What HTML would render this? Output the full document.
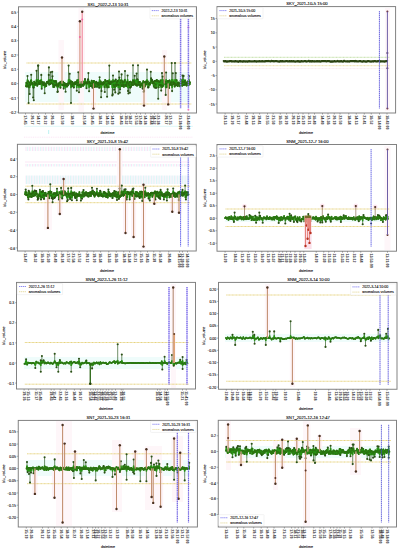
<!DOCTYPE html>
<html><head><meta charset="utf-8"><style>
html,body{margin:0;padding:0;background:#fff;width:400px;height:550px;overflow:hidden}
svg{display:block}
text{font-family:"Liberation Sans", sans-serif;stroke:currentColor;stroke-width:0.1px} text.xl{stroke:none}
</style></head><body>
<svg width="400" height="550" viewBox="0 0 400 550">
<defs>
<pattern id="gh1" width="3.2" height="6" patternUnits="userSpaceOnUse"><rect x="0" y="0" width="0.9" height="6" fill="#f6c4ea"/><rect x="1.6" y="0" width="0.9" height="6" fill="#c4f2f2"/></pattern>
<pattern id="gh2" width="2.6" height="6" patternUnits="userSpaceOnUse"><rect x="0" y="0" width="1.3" height="6" fill="#bff0f0"/><rect x="1.5" y="0" width="0.6" height="6" fill="#f8d0ee"/></pattern>
</defs>
<rect width="400" height="550" fill="#fff"/>
<line x1="24" x2="193" y1="126.3" y2="126.3" stroke="#c8f2f2" stroke-width="0.6"/><line x1="24" x2="193" y1="137.2" y2="137.2" stroke="#f8d4ee" stroke-width="0.6" stroke-dasharray="1 0.8"/><rect x="48" y="130" width="1.2" height="4" fill="#c8f4f4"/><g><rect x="18.5" y="6.8" width="178.0" height="106.2" fill="#fff"/>
<rect x="25" y="72" width="165" height="30" fill="#effcfb"/>
<rect x="165.6" y="82.6" width="5.2" height="22.80000000000001" fill="#fdf3f7"/>
<rect x="161.70000000000002" y="55.5" width="5.2" height="29.099999999999994" fill="#fdf3f7"/>
<rect x="141.4" y="82.6" width="5.2" height="24.0" fill="#fdf3f7"/>
<rect x="90.9" y="82.6" width="5.2" height="27.0" fill="#fdf3f7"/>
<rect x="79.60000000000001" y="10.75" width="5.2" height="73.85" fill="#fdf3f7"/>
<rect x="77.30000000000001" y="20.2" width="5.2" height="64.39999999999999" fill="#fdf3f7"/>
<rect x="59.4" y="56.5" width="5.2" height="28.099999999999994" fill="#fdf3f7"/>
<rect x="58.5" y="40" width="5.5" height="70" fill="#fef6f9"/>
<rect x="78.5" y="8" width="5.5" height="104" fill="#fef6f9"/>
<rect x="162" y="50" width="5" height="60" fill="#fef6f9"/>
<line x1="26.5" x2="191.5" y1="63" y2="63" stroke="#dfc85e" stroke-width="0.8" stroke-dasharray="1.0 0.4"/>
<line x1="26.5" x2="191.5" y1="104" y2="104" stroke="#dfc85e" stroke-width="0.8" stroke-dasharray="1.0 0.4"/>
<path d="M27.5 83.6V76.0M28.6 83.6V103.0M29.7 83.6V94.0M31.2 83.6V74.7M33.1 83.6V97.5M33.5 83.6V87.6M33.8 83.6V100.2M36.5 83.6V70.8M38.0 83.6V65.6M38.3 83.6V65.6M41.3 83.6V74.9M41.7 83.6V88.7M44.7 83.6V93.2M48.8 83.6V74.9M48.9 83.6V67.4M50.7 83.6V72.2M52.2 83.6V71.7M52.5 83.6V76.3M57.4 83.6V92.0M57.8 83.6V91.6M60.4 83.6V87.7M63.7 83.6V88.6M65.6 83.6V91.8M68.6 83.6V65.6M69.7 83.6V73.8M71.0 83.6V103.0M73.8 83.6V87.5M76.8 83.6V90.7M78.3 83.6V72.3M79.0 83.6V92.2M85.0 83.6V79.1M86.5 83.6V88.2M88.0 83.6V79.3M88.4 83.6V73.1M89.1 83.6V91.2M92.5 83.6V87.7M99.2 83.6V87.8M99.6 83.6V77.3M101.1 83.6V97.3M101.5 83.6V91.1M104.8 83.6V92.0M107.1 83.6V96.8M109.3 83.6V65.6M112.3 83.6V95.5M112.7 83.6V94.4M113.0 83.6V75.5M114.2 83.6V89.8M115.3 83.6V92.4M115.7 83.6V79.5M118.3 83.6V93.8M119.0 83.6V71.5M119.4 83.6V77.6M119.8 83.6V92.7M120.1 83.6V89.2M121.6 83.6V74.4M125.0 83.6V71.0M127.6 83.6V75.5M128.0 83.6V91.0M128.4 83.6V93.5M129.9 83.6V92.8M130.2 83.6V87.6M133.0 83.6V65.3M134.7 83.6V75.7M136.6 83.6V73.5M137.3 83.6V79.3M138.0 83.6V65.3M142.6 83.6V88.6M143.7 83.6V91.8M144.1 83.6V91.0M147.0 83.6V69.6M148.2 83.6V87.4M150.8 83.6V71.8M151.1 83.6V78.2M151.9 83.6V79.7M156.0 83.6V87.9M158.2 83.6V98.8M161.2 83.6V90.6M162.0 83.6V73.1M162.7 83.6V76.5M165.7 83.6V94.9M166.1 83.6V72.5M169.1 83.6V88.0M171.7 83.6V63.0M172.1 83.6V91.1M172.8 83.6V73.3M175.0 83.6V63.0M175.8 83.6V73.1M182.5 83.6V75.5M183.6 83.6V75.9M188.9 83.6V76.1" stroke="#2c5a1e" stroke-width="0.8" fill="none"/>
<path d="M26.0 86.2 L26.4 82.8 L26.7 86.4 L27.1 83.7 L27.5 79.8 L27.9 86.3 L28.2 81.3 L28.6 87.4 L28.6 85.5 L29.0 86.9 L29.4 82.6 L29.7 87.4 L30.1 84.3 L30.5 84.9 L30.9 81.1 L31.2 79.8 L31.6 83.4 L32.0 82.8 L32.4 84.0 L32.7 84.1 L33.1 87.4 L33.5 87.4 L33.8 87.4 L34.2 81.7 L34.6 82.9 L35.0 84.9 L35.3 84.2 L35.7 83.7 L36.1 83.3 L36.5 79.8 L36.8 81.1 L37.2 85.7 L37.6 84.4 L38.0 79.8 L38.3 79.8 L38.7 82.3 L39.1 83.4 L39.4 84.1 L39.8 83.9 L40.2 80.7 L40.6 83.4 L40.9 82.3 L41.3 79.8 L41.7 87.4 L42.1 82.1 L42.4 82.7 L42.8 84.6 L43.2 82.9 L43.6 85.0 L43.9 82.3 L44.3 84.1 L44.7 87.4 L45.1 84.9 L45.4 83.7 L45.8 85.7 L46.2 86.1 L46.5 83.5 L46.9 81.9 L47.3 81.9 L47.7 82.3 L48.0 82.9 L48.4 81.6 L48.8 79.8 L48.9 79.8 L49.2 84.6 L49.5 84.1 L49.9 80.6 L50.3 84.0 L50.7 79.8 L51.0 83.2 L51.4 80.6 L51.8 83.2 L52.2 79.8 L52.5 79.8 L52.9 83.9 L53.3 86.9 L53.6 85.5 L54.0 81.0 L54.4 86.8 L54.8 81.8 L55.1 85.1 L55.5 85.1 L55.9 81.0 L56.3 82.2 L56.6 83.9 L57.0 85.7 L57.4 87.4 L57.8 87.4 L58.1 84.4 L58.5 85.9 L58.9 83.6 L59.2 83.3 L59.6 83.2 L60.0 82.4 L60.4 87.4 L60.7 82.0 L61.1 82.9 L61.5 81.5 L61.9 82.1 L62.2 85.0 L62.6 82.0 L63.0 81.7 L63.4 84.8 L63.7 87.4 L64.1 85.2 L64.5 83.1 L64.9 85.3 L65.2 85.3 L65.6 87.4 L66.0 83.9 L66.3 84.3 L66.7 85.1 L67.1 86.4 L67.5 84.8 L67.8 83.4 L68.2 85.2 L68.6 79.8 L69.0 83.7 L69.3 82.9 L69.7 79.8 L70.1 82.1 L70.5 83.3 L70.8 81.3 L71.0 87.4 L71.2 84.4 L71.6 81.7 L71.9 86.3 L72.3 82.0 L72.7 84.9 L73.1 83.4 L73.4 83.8 L73.8 87.4 L74.2 83.7 L74.6 82.6 L74.9 83.7 L75.3 82.6 L75.7 84.1 L76.1 82.1 L76.4 82.7 L76.8 87.4 L77.2 80.3 L77.6 85.1 L77.9 82.8 L78.3 79.8 L78.7 85.2 L79.0 87.4 L79.4 82.0 L79.8 84.6 L80.2 85.6 L80.5 84.9 L80.9 86.9 L81.3 82.3 L81.7 86.0 L82.0 82.3 L82.4 84.5 L82.8 81.6 L83.2 85.7 L83.5 85.2 L83.9 84.1 L84.3 83.4 L84.7 83.5 L85.0 79.8 L85.4 82.3 L85.8 82.9 L86.1 83.0 L86.5 87.4 L86.9 82.4 L87.3 83.5 L87.6 81.2 L88.0 79.8 L88.4 79.8 L88.8 82.6 L89.1 87.4 L89.5 81.9 L89.9 83.5 L90.3 86.1 L90.6 83.6 L91.0 86.0 L91.4 85.9 L91.7 80.7 L92.1 83.2 L92.5 87.4 L92.9 84.6 L93.2 83.0 L93.6 81.0 L94.0 81.1 L94.4 85.1 L94.7 87.1 L95.1 86.3 L95.5 83.3 L95.9 82.7 L96.2 81.8 L96.6 82.5 L97.0 86.8 L97.4 84.5 L97.7 83.3 L98.1 84.5 L98.5 82.7 L98.8 85.4 L99.2 87.4 L99.6 79.8 L100.0 84.1 L100.3 83.5 L100.7 81.6 L101.1 87.4 L101.5 87.4 L101.8 83.9 L102.2 82.8 L102.6 83.2 L103.0 84.5 L103.3 82.5 L103.7 82.2 L104.1 83.2 L104.5 86.9 L104.8 87.4 L105.2 80.1 L105.6 81.6 L105.9 81.1 L106.3 84.6 L106.7 85.5 L107.1 87.4 L107.4 87.3 L107.8 81.1 L108.2 83.2 L108.6 87.2 L108.9 81.9 L109.3 79.8 L109.7 83.1 L110.1 84.0 L110.4 84.0 L110.8 82.2 L111.2 81.4 L111.5 82.4 L111.9 82.1 L112.3 87.4 L112.7 87.4 L113.0 79.8 L113.4 81.4 L113.8 85.1 L114.2 87.4 L114.5 86.4 L114.9 81.1 L115.3 87.4 L115.7 79.8 L116.0 84.4 L116.4 85.8 L116.8 82.5 L117.2 84.6 L117.5 81.2 L117.9 80.8 L118.3 87.4 L118.6 85.0 L119.0 79.8 L119.4 79.8 L119.8 87.4 L120.1 87.4 L120.5 82.8 L120.9 80.5 L121.3 84.9 L121.6 79.8 L122.0 86.2 L122.4 81.2 L122.8 82.8 L123.1 84.7 L123.5 85.6 L123.9 86.8 L124.3 81.8 L124.6 80.3 L125.0 79.8 L125.4 85.0 L125.7 85.0 L126.1 86.2 L126.5 84.7 L126.9 83.0 L127.2 82.1 L127.6 79.8 L128.0 87.4 L128.4 87.4 L128.7 83.8 L129.1 85.3 L129.5 81.9 L129.9 87.4 L130.2 87.4 L130.6 81.7 L131.0 86.7 L131.3 84.5 L131.7 82.8 L132.1 85.0 L132.5 84.6 L132.8 82.4 L133.0 79.8 L133.2 80.8 L133.6 84.8 L134.0 81.2 L134.3 82.7 L134.7 79.8 L135.1 84.1 L135.5 84.3 L135.8 84.2 L136.2 85.2 L136.6 79.8 L137.0 85.6 L137.3 79.8 L137.7 85.3 L138.0 79.8 L138.1 84.2 L138.4 81.9 L138.8 82.3 L139.2 84.6 L139.6 85.0 L139.9 82.0 L140.3 87.1 L140.7 85.1 L141.1 84.8 L141.4 84.1 L141.8 83.7 L142.2 83.2 L142.6 87.4 L142.9 85.9 L143.3 81.2 L143.7 87.4 L144.1 87.4 L144.4 82.5 L144.8 86.5 L145.2 82.0 L145.5 84.8 L145.9 81.6 L146.3 84.2 L146.7 82.6 L147.0 79.8 L147.4 82.3 L147.8 81.4 L148.2 87.4 L148.5 86.9 L148.9 84.1 L149.3 84.6 L149.7 83.0 L150.0 84.5 L150.4 82.7 L150.8 79.8 L151.1 79.8 L151.5 81.0 L151.9 79.8 L152.3 81.2 L152.6 83.3 L153.0 83.0 L153.4 81.7 L153.8 86.1 L154.1 83.2 L154.5 87.4 L154.9 80.9 L155.3 81.1 L155.6 84.5 L156.0 87.4 L156.4 80.6 L156.8 80.1 L157.1 81.3 L157.5 81.1 L157.9 80.8 L158.2 87.4 L158.6 87.3 L159.0 81.7 L159.4 84.9 L159.7 82.1 L160.1 85.1 L160.5 80.4 L160.9 85.7 L161.2 87.4 L161.6 85.3 L162.0 79.8 L162.4 86.8 L162.7 79.8 L163.1 85.7 L163.5 82.5 L163.8 80.6 L164.2 81.5 L164.6 83.1 L165.0 81.8 L165.3 84.0 L165.7 87.4 L166.1 79.8 L166.5 83.7 L166.8 87.3 L167.2 81.4 L167.6 86.1 L168.0 80.9 L168.3 81.2 L168.7 84.5 L169.1 87.4 L169.5 80.4 L169.8 84.9 L170.2 84.4 L170.6 83.9 L170.9 82.2 L171.3 82.5 L171.7 85.1 L171.7 79.8 L172.1 87.4 L172.4 84.5 L172.8 79.8 L173.2 82.3 L173.6 82.8 L173.9 84.3 L174.3 83.1 L174.7 86.6 L175.0 79.8 L175.1 83.8 L175.4 85.0 L175.8 79.8 L176.2 85.1 L176.6 80.2 L176.9 85.2 L177.3 83.9 L177.7 86.1 L178.0 82.6 L178.4 83.9 L178.8 82.7 L179.2 85.3 L179.5 84.0 L179.9 86.3 L180.3 83.8 L180.7 80.3 L181.0 83.6 L181.4 80.6 L181.8 83.1 L182.2 85.8 L182.5 79.8 L182.9 81.9 L183.3 85.1 L183.6 79.8 L184.0 84.7 L184.4 82.1 L184.8 84.7 L185.1 80.4 L185.5 83.5 L185.9 84.4 L186.3 82.6 L186.6 85.6 L187.0 83.0 L187.4 82.5 L187.8 83.6 L188.1 81.2 L188.5 85.2 L188.9 79.8 L189.3 81.8 L189.6 84.2 L190.0 82.6" stroke="#279414" stroke-width="1.8" fill="none" stroke-linejoin="round"/>
<g fill="#2a6810"><circle cx="26.0" cy="86.2" r="1.0"/><circle cx="26.4" cy="82.8" r="1.0"/><circle cx="26.7" cy="86.4" r="1.0"/><circle cx="27.1" cy="83.7" r="1.0"/><circle cx="27.9" cy="86.3" r="1.0"/><circle cx="28.2" cy="81.3" r="1.0"/><circle cx="28.6" cy="85.5" r="1.0"/><circle cx="29.0" cy="86.9" r="1.0"/><circle cx="29.4" cy="82.6" r="1.0"/><circle cx="30.1" cy="84.3" r="1.0"/><circle cx="30.5" cy="84.9" r="1.0"/><circle cx="30.9" cy="81.1" r="1.0"/><circle cx="31.6" cy="83.4" r="1.0"/><circle cx="32.0" cy="82.8" r="1.0"/><circle cx="32.4" cy="84.0" r="1.0"/><circle cx="32.7" cy="84.1" r="1.0"/><circle cx="34.2" cy="81.7" r="1.0"/><circle cx="34.6" cy="82.9" r="1.0"/><circle cx="35.0" cy="84.9" r="1.0"/><circle cx="35.3" cy="84.2" r="1.0"/><circle cx="35.7" cy="83.7" r="1.0"/><circle cx="36.1" cy="83.3" r="1.0"/><circle cx="36.8" cy="81.1" r="1.0"/><circle cx="37.2" cy="85.7" r="1.0"/><circle cx="37.6" cy="84.4" r="1.0"/><circle cx="38.7" cy="82.3" r="1.0"/><circle cx="39.1" cy="83.4" r="1.0"/><circle cx="39.4" cy="84.1" r="1.0"/><circle cx="39.8" cy="83.9" r="1.0"/><circle cx="40.2" cy="80.7" r="1.0"/><circle cx="40.6" cy="83.4" r="1.0"/><circle cx="40.9" cy="82.3" r="1.0"/><circle cx="42.1" cy="82.1" r="1.0"/><circle cx="42.4" cy="82.7" r="1.0"/><circle cx="42.8" cy="84.6" r="1.0"/><circle cx="43.2" cy="82.9" r="1.0"/><circle cx="43.6" cy="85.0" r="1.0"/><circle cx="43.9" cy="82.3" r="1.0"/><circle cx="44.3" cy="84.1" r="1.0"/><circle cx="45.1" cy="84.9" r="1.0"/><circle cx="45.4" cy="83.7" r="1.0"/><circle cx="45.8" cy="85.7" r="1.0"/><circle cx="46.2" cy="86.1" r="1.0"/><circle cx="46.5" cy="83.5" r="1.0"/><circle cx="46.9" cy="81.9" r="1.0"/><circle cx="47.3" cy="81.9" r="1.0"/><circle cx="47.7" cy="82.3" r="1.0"/><circle cx="48.0" cy="82.9" r="1.0"/><circle cx="48.4" cy="81.6" r="1.0"/><circle cx="49.2" cy="84.6" r="1.0"/><circle cx="49.5" cy="84.1" r="1.0"/><circle cx="49.9" cy="80.6" r="1.0"/><circle cx="50.3" cy="84.0" r="1.0"/><circle cx="51.0" cy="83.2" r="1.0"/><circle cx="51.4" cy="80.6" r="1.0"/><circle cx="51.8" cy="83.2" r="1.0"/><circle cx="52.9" cy="83.9" r="1.0"/><circle cx="53.3" cy="86.9" r="1.0"/><circle cx="53.6" cy="85.5" r="1.0"/><circle cx="54.0" cy="81.0" r="1.0"/><circle cx="54.4" cy="86.8" r="1.0"/><circle cx="54.8" cy="81.8" r="1.0"/><circle cx="55.1" cy="85.1" r="1.0"/><circle cx="55.5" cy="85.1" r="1.0"/><circle cx="55.9" cy="81.0" r="1.0"/><circle cx="56.3" cy="82.2" r="1.0"/><circle cx="56.6" cy="83.9" r="1.0"/><circle cx="57.0" cy="85.7" r="1.0"/><circle cx="58.1" cy="84.4" r="1.0"/><circle cx="58.5" cy="85.9" r="1.0"/><circle cx="58.9" cy="83.6" r="1.0"/><circle cx="59.2" cy="83.3" r="1.0"/><circle cx="59.6" cy="83.2" r="1.0"/><circle cx="60.0" cy="82.4" r="1.0"/><circle cx="60.7" cy="82.0" r="1.0"/><circle cx="61.1" cy="82.9" r="1.0"/><circle cx="61.5" cy="81.5" r="1.0"/><circle cx="61.9" cy="82.1" r="1.0"/><circle cx="62.2" cy="85.0" r="1.0"/><circle cx="62.6" cy="82.0" r="1.0"/><circle cx="63.0" cy="81.7" r="1.0"/><circle cx="63.4" cy="84.8" r="1.0"/><circle cx="64.1" cy="85.2" r="1.0"/><circle cx="64.5" cy="83.1" r="1.0"/><circle cx="64.9" cy="85.3" r="1.0"/><circle cx="65.2" cy="85.3" r="1.0"/><circle cx="66.0" cy="83.9" r="1.0"/><circle cx="66.3" cy="84.3" r="1.0"/><circle cx="66.7" cy="85.1" r="1.0"/><circle cx="67.1" cy="86.4" r="1.0"/><circle cx="67.5" cy="84.8" r="1.0"/><circle cx="67.8" cy="83.4" r="1.0"/><circle cx="68.2" cy="85.2" r="1.0"/><circle cx="69.0" cy="83.7" r="1.0"/><circle cx="69.3" cy="82.9" r="1.0"/><circle cx="70.1" cy="82.1" r="1.0"/><circle cx="70.5" cy="83.3" r="1.0"/><circle cx="70.8" cy="81.3" r="1.0"/><circle cx="71.2" cy="84.4" r="1.0"/><circle cx="71.6" cy="81.7" r="1.0"/><circle cx="71.9" cy="86.3" r="1.0"/><circle cx="72.3" cy="82.0" r="1.0"/><circle cx="72.7" cy="84.9" r="1.0"/><circle cx="73.1" cy="83.4" r="1.0"/><circle cx="73.4" cy="83.8" r="1.0"/><circle cx="74.2" cy="83.7" r="1.0"/><circle cx="74.6" cy="82.6" r="1.0"/><circle cx="74.9" cy="83.7" r="1.0"/><circle cx="75.3" cy="82.6" r="1.0"/><circle cx="75.7" cy="84.1" r="1.0"/><circle cx="76.1" cy="82.1" r="1.0"/><circle cx="76.4" cy="82.7" r="1.0"/><circle cx="77.2" cy="80.3" r="1.0"/><circle cx="77.6" cy="85.1" r="1.0"/><circle cx="77.9" cy="82.8" r="1.0"/><circle cx="78.7" cy="85.2" r="1.0"/><circle cx="79.4" cy="82.0" r="1.0"/><circle cx="79.8" cy="84.6" r="1.0"/><circle cx="80.2" cy="85.6" r="1.0"/><circle cx="80.5" cy="84.9" r="1.0"/><circle cx="80.9" cy="86.9" r="1.0"/><circle cx="81.3" cy="82.3" r="1.0"/><circle cx="81.7" cy="86.0" r="1.0"/><circle cx="82.0" cy="82.3" r="1.0"/><circle cx="82.4" cy="84.5" r="1.0"/><circle cx="82.8" cy="81.6" r="1.0"/><circle cx="83.2" cy="85.7" r="1.0"/><circle cx="83.5" cy="85.2" r="1.0"/><circle cx="83.9" cy="84.1" r="1.0"/><circle cx="84.3" cy="83.4" r="1.0"/><circle cx="84.7" cy="83.5" r="1.0"/><circle cx="85.4" cy="82.3" r="1.0"/><circle cx="85.8" cy="82.9" r="1.0"/><circle cx="86.1" cy="83.0" r="1.0"/><circle cx="86.9" cy="82.4" r="1.0"/><circle cx="87.3" cy="83.5" r="1.0"/><circle cx="87.6" cy="81.2" r="1.0"/><circle cx="88.8" cy="82.6" r="1.0"/><circle cx="89.5" cy="81.9" r="1.0"/><circle cx="89.9" cy="83.5" r="1.0"/><circle cx="90.3" cy="86.1" r="1.0"/><circle cx="90.6" cy="83.6" r="1.0"/><circle cx="91.0" cy="86.0" r="1.0"/><circle cx="91.4" cy="85.9" r="1.0"/><circle cx="91.7" cy="80.7" r="1.0"/><circle cx="92.1" cy="83.2" r="1.0"/><circle cx="92.9" cy="84.6" r="1.0"/><circle cx="93.2" cy="83.0" r="1.0"/><circle cx="93.6" cy="81.0" r="1.0"/><circle cx="94.0" cy="81.1" r="1.0"/><circle cx="94.4" cy="85.1" r="1.0"/><circle cx="94.7" cy="87.1" r="1.0"/><circle cx="95.1" cy="86.3" r="1.0"/><circle cx="95.5" cy="83.3" r="1.0"/><circle cx="95.9" cy="82.7" r="1.0"/><circle cx="96.2" cy="81.8" r="1.0"/><circle cx="96.6" cy="82.5" r="1.0"/><circle cx="97.0" cy="86.8" r="1.0"/><circle cx="97.4" cy="84.5" r="1.0"/><circle cx="97.7" cy="83.3" r="1.0"/><circle cx="98.1" cy="84.5" r="1.0"/><circle cx="98.5" cy="82.7" r="1.0"/><circle cx="98.8" cy="85.4" r="1.0"/><circle cx="100.0" cy="84.1" r="1.0"/><circle cx="100.3" cy="83.5" r="1.0"/><circle cx="100.7" cy="81.6" r="1.0"/><circle cx="101.8" cy="83.9" r="1.0"/><circle cx="102.2" cy="82.8" r="1.0"/><circle cx="102.6" cy="83.2" r="1.0"/><circle cx="103.0" cy="84.5" r="1.0"/><circle cx="103.3" cy="82.5" r="1.0"/><circle cx="103.7" cy="82.2" r="1.0"/><circle cx="104.1" cy="83.2" r="1.0"/><circle cx="104.5" cy="86.9" r="1.0"/><circle cx="105.2" cy="80.1" r="1.0"/><circle cx="105.6" cy="81.6" r="1.0"/><circle cx="105.9" cy="81.1" r="1.0"/><circle cx="106.3" cy="84.6" r="1.0"/><circle cx="106.7" cy="85.5" r="1.0"/><circle cx="107.4" cy="87.3" r="1.0"/><circle cx="107.8" cy="81.1" r="1.0"/><circle cx="108.2" cy="83.2" r="1.0"/><circle cx="108.6" cy="87.2" r="1.0"/><circle cx="108.9" cy="81.9" r="1.0"/><circle cx="109.7" cy="83.1" r="1.0"/><circle cx="110.1" cy="84.0" r="1.0"/><circle cx="110.4" cy="84.0" r="1.0"/><circle cx="110.8" cy="82.2" r="1.0"/><circle cx="111.2" cy="81.4" r="1.0"/><circle cx="111.5" cy="82.4" r="1.0"/><circle cx="111.9" cy="82.1" r="1.0"/><circle cx="113.4" cy="81.4" r="1.0"/><circle cx="113.8" cy="85.1" r="1.0"/><circle cx="114.5" cy="86.4" r="1.0"/><circle cx="114.9" cy="81.1" r="1.0"/><circle cx="116.0" cy="84.4" r="1.0"/><circle cx="116.4" cy="85.8" r="1.0"/><circle cx="116.8" cy="82.5" r="1.0"/><circle cx="117.2" cy="84.6" r="1.0"/><circle cx="117.5" cy="81.2" r="1.0"/><circle cx="117.9" cy="80.8" r="1.0"/><circle cx="118.6" cy="85.0" r="1.0"/><circle cx="120.5" cy="82.8" r="1.0"/><circle cx="120.9" cy="80.5" r="1.0"/><circle cx="121.3" cy="84.9" r="1.0"/><circle cx="122.0" cy="86.2" r="1.0"/><circle cx="122.4" cy="81.2" r="1.0"/><circle cx="122.8" cy="82.8" r="1.0"/><circle cx="123.1" cy="84.7" r="1.0"/><circle cx="123.5" cy="85.6" r="1.0"/><circle cx="123.9" cy="86.8" r="1.0"/><circle cx="124.3" cy="81.8" r="1.0"/><circle cx="124.6" cy="80.3" r="1.0"/><circle cx="125.4" cy="85.0" r="1.0"/><circle cx="125.7" cy="85.0" r="1.0"/><circle cx="126.1" cy="86.2" r="1.0"/><circle cx="126.5" cy="84.7" r="1.0"/><circle cx="126.9" cy="83.0" r="1.0"/><circle cx="127.2" cy="82.1" r="1.0"/><circle cx="128.7" cy="83.8" r="1.0"/><circle cx="129.1" cy="85.3" r="1.0"/><circle cx="129.5" cy="81.9" r="1.0"/><circle cx="130.6" cy="81.7" r="1.0"/><circle cx="131.0" cy="86.7" r="1.0"/><circle cx="131.3" cy="84.5" r="1.0"/><circle cx="131.7" cy="82.8" r="1.0"/><circle cx="132.1" cy="85.0" r="1.0"/><circle cx="132.5" cy="84.6" r="1.0"/><circle cx="132.8" cy="82.4" r="1.0"/><circle cx="133.2" cy="80.8" r="1.0"/><circle cx="133.6" cy="84.8" r="1.0"/><circle cx="134.0" cy="81.2" r="1.0"/><circle cx="134.3" cy="82.7" r="1.0"/><circle cx="135.1" cy="84.1" r="1.0"/><circle cx="135.5" cy="84.3" r="1.0"/><circle cx="135.8" cy="84.2" r="1.0"/><circle cx="136.2" cy="85.2" r="1.0"/><circle cx="137.0" cy="85.6" r="1.0"/><circle cx="137.7" cy="85.3" r="1.0"/><circle cx="138.1" cy="84.2" r="1.0"/><circle cx="138.4" cy="81.9" r="1.0"/><circle cx="138.8" cy="82.3" r="1.0"/><circle cx="139.2" cy="84.6" r="1.0"/><circle cx="139.6" cy="85.0" r="1.0"/><circle cx="139.9" cy="82.0" r="1.0"/><circle cx="140.3" cy="87.1" r="1.0"/><circle cx="140.7" cy="85.1" r="1.0"/><circle cx="141.1" cy="84.8" r="1.0"/><circle cx="141.4" cy="84.1" r="1.0"/><circle cx="141.8" cy="83.7" r="1.0"/><circle cx="142.2" cy="83.2" r="1.0"/><circle cx="142.9" cy="85.9" r="1.0"/><circle cx="143.3" cy="81.2" r="1.0"/><circle cx="144.4" cy="82.5" r="1.0"/><circle cx="144.8" cy="86.5" r="1.0"/><circle cx="145.2" cy="82.0" r="1.0"/><circle cx="145.5" cy="84.8" r="1.0"/><circle cx="145.9" cy="81.6" r="1.0"/><circle cx="146.3" cy="84.2" r="1.0"/><circle cx="146.7" cy="82.6" r="1.0"/><circle cx="147.4" cy="82.3" r="1.0"/><circle cx="147.8" cy="81.4" r="1.0"/><circle cx="148.5" cy="86.9" r="1.0"/><circle cx="148.9" cy="84.1" r="1.0"/><circle cx="149.3" cy="84.6" r="1.0"/><circle cx="149.7" cy="83.0" r="1.0"/><circle cx="150.0" cy="84.5" r="1.0"/><circle cx="150.4" cy="82.7" r="1.0"/><circle cx="151.5" cy="81.0" r="1.0"/><circle cx="152.3" cy="81.2" r="1.0"/><circle cx="152.6" cy="83.3" r="1.0"/><circle cx="153.0" cy="83.0" r="1.0"/><circle cx="153.4" cy="81.7" r="1.0"/><circle cx="153.8" cy="86.1" r="1.0"/><circle cx="154.1" cy="83.2" r="1.0"/><circle cx="154.5" cy="87.4" r="1.0"/><circle cx="154.9" cy="80.9" r="1.0"/><circle cx="155.3" cy="81.1" r="1.0"/><circle cx="155.6" cy="84.5" r="1.0"/><circle cx="156.4" cy="80.6" r="1.0"/><circle cx="156.8" cy="80.1" r="1.0"/><circle cx="157.1" cy="81.3" r="1.0"/><circle cx="157.5" cy="81.1" r="1.0"/><circle cx="157.9" cy="80.8" r="1.0"/><circle cx="158.6" cy="87.3" r="1.0"/><circle cx="159.0" cy="81.7" r="1.0"/><circle cx="159.4" cy="84.9" r="1.0"/><circle cx="159.7" cy="82.1" r="1.0"/><circle cx="160.1" cy="85.1" r="1.0"/><circle cx="160.5" cy="80.4" r="1.0"/><circle cx="160.9" cy="85.7" r="1.0"/><circle cx="161.6" cy="85.3" r="1.0"/><circle cx="162.4" cy="86.8" r="1.0"/><circle cx="163.1" cy="85.7" r="1.0"/><circle cx="163.5" cy="82.5" r="1.0"/><circle cx="163.8" cy="80.6" r="1.0"/><circle cx="164.2" cy="81.5" r="1.0"/><circle cx="164.6" cy="83.1" r="1.0"/><circle cx="165.0" cy="81.8" r="1.0"/><circle cx="165.3" cy="84.0" r="1.0"/><circle cx="166.5" cy="83.7" r="1.0"/><circle cx="166.8" cy="87.3" r="1.0"/><circle cx="167.2" cy="81.4" r="1.0"/><circle cx="167.6" cy="86.1" r="1.0"/><circle cx="168.0" cy="80.9" r="1.0"/><circle cx="168.3" cy="81.2" r="1.0"/><circle cx="168.7" cy="84.5" r="1.0"/><circle cx="169.5" cy="80.4" r="1.0"/><circle cx="169.8" cy="84.9" r="1.0"/><circle cx="170.2" cy="84.4" r="1.0"/><circle cx="170.6" cy="83.9" r="1.0"/><circle cx="170.9" cy="82.2" r="1.0"/><circle cx="171.3" cy="82.5" r="1.0"/><circle cx="171.7" cy="85.1" r="1.0"/><circle cx="172.4" cy="84.5" r="1.0"/><circle cx="173.2" cy="82.3" r="1.0"/><circle cx="173.6" cy="82.8" r="1.0"/><circle cx="173.9" cy="84.3" r="1.0"/><circle cx="174.3" cy="83.1" r="1.0"/><circle cx="174.7" cy="86.6" r="1.0"/><circle cx="175.1" cy="83.8" r="1.0"/><circle cx="175.4" cy="85.0" r="1.0"/><circle cx="176.2" cy="85.1" r="1.0"/><circle cx="176.6" cy="80.2" r="1.0"/><circle cx="176.9" cy="85.2" r="1.0"/><circle cx="177.3" cy="83.9" r="1.0"/><circle cx="177.7" cy="86.1" r="1.0"/><circle cx="178.0" cy="82.6" r="1.0"/><circle cx="178.4" cy="83.9" r="1.0"/><circle cx="178.8" cy="82.7" r="1.0"/><circle cx="179.2" cy="85.3" r="1.0"/><circle cx="179.5" cy="84.0" r="1.0"/><circle cx="179.9" cy="86.3" r="1.0"/><circle cx="180.3" cy="83.8" r="1.0"/><circle cx="180.7" cy="80.3" r="1.0"/><circle cx="181.0" cy="83.6" r="1.0"/><circle cx="181.4" cy="80.6" r="1.0"/><circle cx="181.8" cy="83.1" r="1.0"/><circle cx="182.2" cy="85.8" r="1.0"/><circle cx="182.9" cy="81.9" r="1.0"/><circle cx="183.3" cy="85.1" r="1.0"/><circle cx="184.0" cy="84.7" r="1.0"/><circle cx="184.4" cy="82.1" r="1.0"/><circle cx="184.8" cy="84.7" r="1.0"/><circle cx="185.1" cy="80.4" r="1.0"/><circle cx="185.5" cy="83.5" r="1.0"/><circle cx="185.9" cy="84.4" r="1.0"/><circle cx="186.3" cy="82.6" r="1.0"/><circle cx="186.6" cy="85.6" r="1.0"/><circle cx="187.0" cy="83.0" r="1.0"/><circle cx="187.4" cy="82.5" r="1.0"/><circle cx="187.8" cy="83.6" r="1.0"/><circle cx="188.1" cy="81.2" r="1.0"/><circle cx="188.5" cy="85.2" r="1.0"/><circle cx="189.3" cy="81.8" r="1.0"/><circle cx="189.6" cy="84.2" r="1.0"/><circle cx="190.0" cy="82.6" r="1.0"/></g>
<g fill="#2b5016"><circle cx="27.5" cy="76.0" r="1.05"/><circle cx="28.6" cy="103.0" r="1.05"/><circle cx="29.7" cy="94.0" r="1.05"/><circle cx="31.2" cy="74.7" r="1.05"/><circle cx="33.1" cy="97.5" r="1.05"/><circle cx="33.5" cy="87.6" r="1.05"/><circle cx="33.8" cy="100.2" r="1.05"/><circle cx="36.5" cy="70.8" r="1.05"/><circle cx="38.0" cy="65.6" r="1.05"/><circle cx="38.3" cy="65.6" r="1.05"/><circle cx="41.3" cy="74.9" r="1.05"/><circle cx="41.7" cy="88.7" r="1.05"/><circle cx="44.7" cy="93.2" r="1.05"/><circle cx="48.8" cy="74.9" r="1.05"/><circle cx="48.9" cy="67.4" r="1.05"/><circle cx="50.7" cy="72.2" r="1.05"/><circle cx="52.2" cy="71.7" r="1.05"/><circle cx="52.5" cy="76.3" r="1.05"/><circle cx="57.4" cy="92.0" r="1.05"/><circle cx="57.8" cy="91.6" r="1.05"/><circle cx="60.4" cy="87.7" r="1.05"/><circle cx="63.7" cy="88.6" r="1.05"/><circle cx="65.6" cy="91.8" r="1.05"/><circle cx="68.6" cy="65.6" r="1.05"/><circle cx="69.7" cy="73.8" r="1.05"/><circle cx="71.0" cy="103.0" r="1.05"/><circle cx="73.8" cy="87.5" r="1.05"/><circle cx="76.8" cy="90.7" r="1.05"/><circle cx="78.3" cy="72.3" r="1.05"/><circle cx="79.0" cy="92.2" r="1.05"/><circle cx="85.0" cy="79.1" r="1.05"/><circle cx="86.5" cy="88.2" r="1.05"/><circle cx="88.0" cy="79.3" r="1.05"/><circle cx="88.4" cy="73.1" r="1.05"/><circle cx="89.1" cy="91.2" r="1.05"/><circle cx="92.5" cy="87.7" r="1.05"/><circle cx="99.2" cy="87.8" r="1.05"/><circle cx="99.6" cy="77.3" r="1.05"/><circle cx="101.1" cy="97.3" r="1.05"/><circle cx="101.5" cy="91.1" r="1.05"/><circle cx="104.8" cy="92.0" r="1.05"/><circle cx="107.1" cy="96.8" r="1.05"/><circle cx="109.3" cy="65.6" r="1.05"/><circle cx="112.3" cy="95.5" r="1.05"/><circle cx="112.7" cy="94.4" r="1.05"/><circle cx="113.0" cy="75.5" r="1.05"/><circle cx="114.2" cy="89.8" r="1.05"/><circle cx="115.3" cy="92.4" r="1.05"/><circle cx="115.7" cy="79.5" r="1.05"/><circle cx="118.3" cy="93.8" r="1.05"/><circle cx="119.0" cy="71.5" r="1.05"/><circle cx="119.4" cy="77.6" r="1.05"/><circle cx="119.8" cy="92.7" r="1.05"/><circle cx="120.1" cy="89.2" r="1.05"/><circle cx="121.6" cy="74.4" r="1.05"/><circle cx="125.0" cy="71.0" r="1.05"/><circle cx="127.6" cy="75.5" r="1.05"/><circle cx="128.0" cy="91.0" r="1.05"/><circle cx="128.4" cy="93.5" r="1.05"/><circle cx="129.9" cy="92.8" r="1.05"/><circle cx="130.2" cy="87.6" r="1.05"/><circle cx="133.0" cy="65.3" r="1.05"/><circle cx="134.7" cy="75.7" r="1.05"/><circle cx="136.6" cy="73.5" r="1.05"/><circle cx="137.3" cy="79.3" r="1.05"/><circle cx="138.0" cy="65.3" r="1.05"/><circle cx="142.6" cy="88.6" r="1.05"/><circle cx="143.7" cy="91.8" r="1.05"/><circle cx="144.1" cy="91.0" r="1.05"/><circle cx="147.0" cy="69.6" r="1.05"/><circle cx="148.2" cy="87.4" r="1.05"/><circle cx="150.8" cy="71.8" r="1.05"/><circle cx="151.1" cy="78.2" r="1.05"/><circle cx="151.9" cy="79.7" r="1.05"/><circle cx="156.0" cy="87.9" r="1.05"/><circle cx="158.2" cy="98.8" r="1.05"/><circle cx="161.2" cy="90.6" r="1.05"/><circle cx="162.0" cy="73.1" r="1.05"/><circle cx="162.7" cy="76.5" r="1.05"/><circle cx="165.7" cy="94.9" r="1.05"/><circle cx="166.1" cy="72.5" r="1.05"/><circle cx="169.1" cy="88.0" r="1.05"/><circle cx="171.7" cy="63.0" r="1.05"/><circle cx="172.1" cy="91.1" r="1.05"/><circle cx="172.8" cy="73.3" r="1.05"/><circle cx="175.0" cy="63.0" r="1.05"/><circle cx="175.8" cy="73.1" r="1.05"/><circle cx="182.5" cy="75.5" r="1.05"/><circle cx="183.6" cy="75.9" r="1.05"/><circle cx="188.9" cy="76.1" r="1.05"/></g>
<line x1="62" x2="62" y1="83.6" y2="57.5" stroke="#f5e0d2" stroke-width="1.1"/>
<line x1="62" x2="62" y1="83.6" y2="57.5" stroke="#a35c36" stroke-width="0.65"/>
<circle cx="62" cy="57.5" r="1.2" fill="#4a3020"/>
<line x1="79.9" x2="79.9" y1="83.6" y2="21.2" stroke="#f5e0d2" stroke-width="1.1"/>
<line x1="79.9" x2="79.9" y1="83.6" y2="21.2" stroke="#c06858" stroke-width="0.65"/>
<circle cx="79.9" cy="21.2" r="1.2" fill="#4a3020"/>
<line x1="82.2" x2="82.2" y1="83.6" y2="11.75" stroke="#f5e0d2" stroke-width="1.1"/>
<line x1="82.2" x2="82.2" y1="83.6" y2="11.75" stroke="#f0507a" stroke-width="0.65"/>
<circle cx="82.2" cy="11.75" r="1.2" fill="#4a3020"/>
<line x1="93.5" x2="93.5" y1="83.6" y2="108.6" stroke="#f5e0d2" stroke-width="1.1"/>
<line x1="93.5" x2="93.5" y1="83.6" y2="108.6" stroke="#a35c36" stroke-width="0.65"/>
<circle cx="93.5" cy="108.6" r="1.2" fill="#4a3020"/>
<line x1="144" x2="144" y1="83.6" y2="105.6" stroke="#f5e0d2" stroke-width="1.1"/>
<line x1="144" x2="144" y1="83.6" y2="105.6" stroke="#a35c36" stroke-width="0.65"/>
<circle cx="144" cy="105.6" r="1.2" fill="#4a3020"/>
<line x1="164.3" x2="164.3" y1="83.6" y2="56.5" stroke="#f5e0d2" stroke-width="1.1"/>
<line x1="164.3" x2="164.3" y1="83.6" y2="56.5" stroke="#a35c36" stroke-width="0.65"/>
<circle cx="164.3" cy="56.5" r="1.2" fill="#4a3020"/>
<line x1="168.2" x2="168.2" y1="83.6" y2="104.4" stroke="#f5e0d2" stroke-width="1.1"/>
<line x1="168.2" x2="168.2" y1="83.6" y2="104.4" stroke="#a35c36" stroke-width="0.65"/>
<circle cx="168.2" cy="104.4" r="1.2" fill="#4a3020"/>
<circle cx="82.2" cy="19.6" r="1.0" fill="#f06aa0"/>
<circle cx="79.9" cy="37" r="1.0" fill="#f06aa0"/>
<circle cx="188.4" cy="109.7" r="1.0" fill="#f080c0"/>
<circle cx="188.4" cy="27.6" r="1.0" fill="#f070c8"/>
<line x1="180.6" x2="180.6" y1="11.3" y2="108.5" stroke="#7d70e6" stroke-width="1.5" stroke-dasharray="1.4 0.5"/>
<line x1="188.4" x2="188.4" y1="11.3" y2="108.5" stroke="#7d70e6" stroke-width="1.5" stroke-dasharray="1.4 0.5"/>
<rect x="18.5" y="6.8" width="178.0" height="106.2" fill="none" stroke="#7c7c7c" stroke-width="0.95"/>
<line x1="16.9" x2="18.5" y1="112.20" y2="112.20" stroke="#555" stroke-width="0.45"/>
<text x="16.2" y="113.45" text-anchor="end" font-size="3.5" fill="#1a1a1a" dy="0.35">−0.2</text>
<line x1="16.9" x2="18.5" y1="97.90" y2="97.90" stroke="#555" stroke-width="0.45"/>
<text x="16.2" y="99.15" text-anchor="end" font-size="3.5" fill="#1a1a1a" dy="0.35">−0.1</text>
<line x1="16.9" x2="18.5" y1="83.60" y2="83.60" stroke="#555" stroke-width="0.45"/>
<text x="16.2" y="84.85" text-anchor="end" font-size="3.5" fill="#1a1a1a" dy="0.35">0.0</text>
<line x1="16.9" x2="18.5" y1="69.30" y2="69.30" stroke="#555" stroke-width="0.45"/>
<text x="16.2" y="70.55" text-anchor="end" font-size="3.5" fill="#1a1a1a" dy="0.35">0.1</text>
<line x1="16.9" x2="18.5" y1="55.00" y2="55.00" stroke="#555" stroke-width="0.45"/>
<text x="16.2" y="56.25" text-anchor="end" font-size="3.5" fill="#1a1a1a" dy="0.35">0.2</text>
<line x1="16.9" x2="18.5" y1="40.70" y2="40.70" stroke="#555" stroke-width="0.45"/>
<text x="16.2" y="41.95" text-anchor="end" font-size="3.5" fill="#1a1a1a" dy="0.35">0.3</text>
<line x1="16.9" x2="18.5" y1="26.40" y2="26.40" stroke="#555" stroke-width="0.45"/>
<text x="16.2" y="27.65" text-anchor="end" font-size="3.5" fill="#1a1a1a" dy="0.35">0.4</text>
<line x1="16.9" x2="18.5" y1="12.10" y2="12.10" stroke="#555" stroke-width="0.45"/>
<text x="16.2" y="13.35" text-anchor="end" font-size="3.5" fill="#1a1a1a" dy="0.35">0.5</text>
<line x1="25.5" x2="25.5" y1="113" y2="114.6" stroke="#555" stroke-width="0.45"/>
<text class="xl" transform="translate(24.35,115.2) rotate(90)" font-size="3.6" font-weight="bold" fill="#2a2a2a">17:45</text>
<line x1="32" x2="32" y1="113" y2="114.6" stroke="#555" stroke-width="0.45"/>
<text class="xl" transform="translate(30.85,115.2) rotate(90)" font-size="3.6" font-weight="bold" fill="#2a2a2a">20:17</text>
<line x1="38.5" x2="38.5" y1="113" y2="114.6" stroke="#555" stroke-width="0.45"/>
<text class="xl" transform="translate(37.35,115.2) rotate(90)" font-size="3.6" font-weight="bold" fill="#2a2a2a">14:17</text>
<line x1="45.5" x2="45.5" y1="113" y2="114.6" stroke="#555" stroke-width="0.45"/>
<text class="xl" transform="translate(44.35,115.2) rotate(90)" font-size="3.6" font-weight="bold" fill="#2a2a2a">10:22</text>
<line x1="52.5" x2="52.5" y1="113" y2="114.6" stroke="#555" stroke-width="0.45"/>
<text class="xl" transform="translate(51.35,115.2) rotate(90)" font-size="3.6" font-weight="bold" fill="#2a2a2a">20:33</text>
<line x1="62" x2="62" y1="113" y2="114.6" stroke="#555" stroke-width="0.45"/>
<text class="xl" transform="translate(60.85,115.2) rotate(90)" font-size="3.6" font-weight="bold" fill="#2a2a2a">12:50</text>
<line x1="71.8" x2="71.8" y1="113" y2="114.6" stroke="#555" stroke-width="0.45"/>
<text class="xl" transform="translate(70.65,115.2) rotate(90)" font-size="3.6" font-weight="bold" fill="#2a2a2a">18:10</text>
<line x1="83.7" x2="83.7" y1="113" y2="114.6" stroke="#555" stroke-width="0.45"/>
<text class="xl" transform="translate(82.55,115.2) rotate(90)" font-size="3.6" font-weight="bold" fill="#2a2a2a">22:54</text>
<line x1="91.9" x2="91.9" y1="113" y2="114.6" stroke="#555" stroke-width="0.45"/>
<text class="xl" transform="translate(90.75,115.2) rotate(90)" font-size="3.6" font-weight="bold" fill="#2a2a2a">10:45</text>
<line x1="99.8" x2="99.8" y1="113" y2="114.6" stroke="#555" stroke-width="0.45"/>
<text class="xl" transform="translate(98.65,115.2) rotate(90)" font-size="3.6" font-weight="bold" fill="#2a2a2a">18:31</text>
<line x1="106.8" x2="106.8" y1="113" y2="114.6" stroke="#555" stroke-width="0.45"/>
<text class="xl" transform="translate(105.65,115.2) rotate(90)" font-size="3.6" font-weight="bold" fill="#2a2a2a">14:35</text>
<line x1="112.6" x2="112.6" y1="113" y2="114.6" stroke="#555" stroke-width="0.45"/>
<text class="xl" transform="translate(111.45,115.2) rotate(90)" font-size="3.6" font-weight="bold" fill="#2a2a2a">14:19</text>
<line x1="120.8" x2="120.8" y1="113" y2="114.6" stroke="#555" stroke-width="0.45"/>
<text class="xl" transform="translate(119.65,115.2) rotate(90)" font-size="3.6" font-weight="bold" fill="#2a2a2a">18:43</text>
<line x1="125.7" x2="125.7" y1="113" y2="114.6" stroke="#555" stroke-width="0.45"/>
<text class="xl" transform="translate(124.55,115.2) rotate(90)" font-size="3.6" font-weight="bold" fill="#2a2a2a">16:32</text>
<line x1="130.4" x2="130.4" y1="113" y2="114.6" stroke="#555" stroke-width="0.45"/>
<text class="xl" transform="translate(129.25,115.2) rotate(90)" font-size="3.6" font-weight="bold" fill="#2a2a2a">18:37</text>
<line x1="136.5" x2="136.5" y1="113" y2="114.6" stroke="#555" stroke-width="0.45"/>
<text class="xl" transform="translate(135.35,115.2) rotate(90)" font-size="3.6" font-weight="bold" fill="#2a2a2a">17:53</text>
<line x1="140.5" x2="140.5" y1="113" y2="114.6" stroke="#555" stroke-width="0.45"/>
<text class="xl" transform="translate(139.35,115.2) rotate(90)" font-size="3.6" font-weight="bold" fill="#2a2a2a">17:49</text>
<line x1="145.4" x2="145.4" y1="113" y2="114.6" stroke="#555" stroke-width="0.45"/>
<text class="xl" transform="translate(144.25,115.2) rotate(90)" font-size="3.6" font-weight="bold" fill="#2a2a2a">14:28</text>
<line x1="151" x2="151" y1="113" y2="114.6" stroke="#555" stroke-width="0.45"/>
<text class="xl" transform="translate(149.85,115.2) rotate(90)" font-size="3.6" font-weight="bold" fill="#2a2a2a">19:44</text>
<line x1="154.5" x2="154.5" y1="113" y2="114.6" stroke="#555" stroke-width="0.45"/>
<text class="xl" transform="translate(153.35,115.2) rotate(90)" font-size="3.6" font-weight="bold" fill="#2a2a2a">14:32</text>
<line x1="158" x2="158" y1="113" y2="114.6" stroke="#555" stroke-width="0.45"/>
<text class="xl" transform="translate(156.85,115.2) rotate(90)" font-size="3.6" font-weight="bold" fill="#2a2a2a">22:28</text>
<line x1="166" x2="166" y1="113" y2="114.6" stroke="#555" stroke-width="0.45"/>
<text class="xl" transform="translate(164.85,115.2) rotate(90)" font-size="3.6" font-weight="bold" fill="#2a2a2a">20:17</text>
<line x1="170.3" x2="170.3" y1="113" y2="114.6" stroke="#555" stroke-width="0.45"/>
<text class="xl" transform="translate(169.15,115.2) rotate(90)" font-size="3.6" font-weight="bold" fill="#2a2a2a">17:25</text>
<line x1="180.4" x2="180.4" y1="113" y2="114.6" stroke="#555" stroke-width="0.45"/>
<text class="xl" transform="translate(179.25,115.2) rotate(90)" font-size="3.6" font-weight="bold" fill="#2a2a2a">21:28:00</text>
<line x1="187.8" x2="187.8" y1="113" y2="114.6" stroke="#555" stroke-width="0.45"/>
<text class="xl" transform="translate(186.65,115.2) rotate(90)" font-size="3.6" font-weight="bold" fill="#2a2a2a">23:43:00</text>
<text x="108.1" y="5.5" text-anchor="middle" font-size="4.2" fill="#111">SKL_2022-2-13 10:31</text>
<text x="107.5" y="133.8" text-anchor="middle" font-size="3.6" fill="#1a1a1a">datetime</text>
<text transform="translate(6.2,59.9) rotate(-90)" text-anchor="middle" font-size="3.6" fill="#1a1a1a">blu_volume</text>
<rect x="149.95" y="7.5" width="45.400000000000006" height="11.3" rx="0.6" fill="#fff" fill-opacity="0.95" stroke="#e0e0e0" stroke-width="0.4"/>
<line x1="151.75" x2="159.25" y1="10.6" y2="10.6" stroke="#5f5aee" stroke-width="0.7" stroke-dasharray="1.3 0.6"/>
<line x1="151.75" x2="159.25" y1="15.8" y2="15.8" stroke="#dccf80" stroke-width="0.7" stroke-dasharray="1.3 0.6"/>
<text x="161.55" y="11.9" font-size="3.55" fill="#1a1a1a">2022-2-13 10:31</text>
<text x="161.55" y="17.1" font-size="3.55" fill="#1a1a1a">anomalous volumes</text></g><g><rect x="217" y="6.6" width="178.60000000000002" height="106.4" fill="#fff"/>
<rect x="385" y="8" width="5" height="103" fill="#fef6f9"/>
<line x1="224.0" x2="389.5" y1="57.3" y2="57.3" stroke="#b4d890" stroke-width="0.8" stroke-dasharray="1.0 0.4"/>
<line x1="224.0" x2="389.5" y1="65.7" y2="65.7" stroke="#ead890" stroke-width="0.8" stroke-dasharray="1.0 0.4"/>
<line x1="224.0" x2="389.5" y1="68.6" y2="68.6" stroke="#f8e4ec" stroke-width="0.8" stroke-dasharray="1.0 0.4"/>
<path d="" stroke="#33602a" stroke-width="0.7" fill="none"/>
<path d="M223.5 60.9 L224.4 61.4 L225.3 61.2 L226.3 61.5 L227.2 61.5 L228.1 61.4 L229.0 61.4 L229.9 61.2 L230.9 61.1 L231.8 61.4 L232.7 61.3 L233.6 61.3 L234.5 61.5 L235.4 61.1 L236.4 61.3 L237.3 61.3 L238.2 61.8 L239.1 61.3 L240.0 61.1 L241.0 61.5 L241.9 61.3 L242.8 61.6 L243.7 61.2 L244.6 61.3 L245.6 61.5 L246.5 61.3 L247.4 61.6 L248.3 61.3 L249.2 61.2 L250.2 61.4 L251.1 61.3 L252.0 61.5 L252.9 61.3 L253.8 61.4 L254.7 61.2 L255.7 61.4 L256.6 61.5 L257.5 61.3 L258.4 61.3 L259.3 61.2 L260.3 61.3 L261.2 61.3 L262.1 61.2 L263.0 61.4 L263.9 61.4 L264.9 61.4 L265.8 61.2 L266.7 61.2 L267.6 61.2 L268.5 61.0 L269.4 61.2 L270.4 61.3 L271.3 61.0 L272.2 61.1 L273.1 61.2 L274.0 61.3 L275.0 61.2 L275.9 61.1 L276.8 61.2 L277.7 61.3 L278.6 61.5 L279.6 61.5 L280.5 61.1 L281.4 61.3 L282.3 61.1 L283.2 61.4 L284.2 61.4 L285.1 61.3 L286.0 61.2 L286.9 61.2 L287.8 61.4 L288.7 61.4 L289.7 61.2 L290.6 61.3 L291.5 61.1 L292.4 61.3 L293.3 61.2 L294.3 61.3 L295.2 61.7 L296.1 61.3 L297.0 61.3 L297.9 61.1 L298.9 61.5 L299.8 61.5 L300.7 61.5 L301.6 61.2 L302.5 61.4 L303.5 61.3 L304.4 61.2 L305.3 61.2 L306.2 61.5 L307.1 61.3 L308.0 61.2 L309.0 61.0 L309.9 61.5 L310.8 61.2 L311.7 61.5 L312.6 61.2 L313.6 61.3 L314.5 61.4 L315.4 61.4 L316.3 61.4 L317.2 61.1 L318.2 61.3 L319.1 61.2 L320.0 61.5 L320.9 61.4 L321.8 61.2 L322.8 61.2 L323.7 61.2 L324.6 61.1 L325.5 61.2 L326.4 61.4 L327.3 61.2 L328.3 61.2 L329.2 61.2 L330.1 61.5 L331.0 61.6 L331.9 61.4 L332.9 61.5 L333.8 61.4 L334.7 61.2 L335.6 61.5 L336.5 61.3 L337.5 61.0 L338.4 61.4 L339.3 61.4 L340.2 61.3 L341.1 61.1 L342.1 61.4 L343.0 61.6 L343.9 60.9 L344.8 61.2 L345.7 61.3 L346.6 61.3 L347.6 61.4 L348.5 61.4 L349.4 61.5 L350.3 61.2 L351.2 61.2 L352.2 61.2 L353.1 61.2 L354.0 61.2 L354.9 61.4 L355.8 61.0 L356.8 61.3 L357.7 61.3 L358.6 61.3 L359.5 61.2 L360.4 61.1 L361.3 61.4 L362.3 61.6 L363.2 61.2 L364.1 61.3 L365.0 61.3 L365.9 61.6 L366.9 61.5 L367.8 61.2 L368.7 61.1 L369.6 61.3 L370.5 61.5 L371.5 61.5 L372.4 61.3 L373.3 61.5 L374.2 61.1 L375.1 61.1 L376.1 61.3 L377.0 61.5 L377.9 61.2 L378.8 61.1 L379.7 61.5 L380.6 61.4 L381.6 61.3 L382.5 61.3 L383.4 61.4 L384.3 61.5 L385.2 61.4 L386.2 61.2 L387.1 61.1 L388.0 61.2" stroke="#2a4210" stroke-width="2.3" fill="none" stroke-linejoin="round"/>
<g fill="#2a4210"><circle cx="223.5" cy="60.9" r="0.8"/><circle cx="231.8" cy="61.4" r="0.8"/><circle cx="240.0" cy="61.1" r="0.8"/><circle cx="248.3" cy="61.3" r="0.8"/><circle cx="256.6" cy="61.5" r="0.8"/><circle cx="264.9" cy="61.4" r="0.8"/><circle cx="273.1" cy="61.2" r="0.8"/><circle cx="281.4" cy="61.3" r="0.8"/><circle cx="289.7" cy="61.2" r="0.8"/><circle cx="297.9" cy="61.1" r="0.8"/><circle cx="306.2" cy="61.5" r="0.8"/><circle cx="314.5" cy="61.4" r="0.8"/><circle cx="322.8" cy="61.2" r="0.8"/><circle cx="331.0" cy="61.6" r="0.8"/><circle cx="339.3" cy="61.4" r="0.8"/><circle cx="347.6" cy="61.4" r="0.8"/><circle cx="355.8" cy="61.0" r="0.8"/><circle cx="364.1" cy="61.3" r="0.8"/><circle cx="372.4" cy="61.3" r="0.8"/><circle cx="380.6" cy="61.4" r="0.8"/></g>
<g fill="#2b5016"></g>
<circle cx="387.4" cy="11.6" r="1.0" fill="#6a2a30"/>
<circle cx="387.4" cy="53" r="1.0" fill="#3a1a40"/>
<circle cx="387.4" cy="68.2" r="1.0" fill="#3a1a40"/>
<circle cx="387.4" cy="108.6" r="1.0" fill="#6a2a30"/>
<line x1="379.4" x2="379.4" y1="11.1" y2="108.5" stroke="#6660dd" stroke-width="1.0" stroke-dasharray="1.4 0.5"/>
<line x1="387.4" x2="387.4" y1="11.6" y2="108.6" stroke="#6e5fa6" stroke-width="1.0"/>
<rect x="217" y="6.6" width="178.60000000000002" height="106.4" fill="none" stroke="#7c7c7c" stroke-width="0.95"/>
<line x1="215.4" x2="217" y1="104.05" y2="104.05" stroke="#555" stroke-width="0.45"/>
<text x="214.7" y="105.30" text-anchor="end" font-size="3.5" fill="#1a1a1a" dy="0.35">−15</text>
<line x1="215.4" x2="217" y1="89.80" y2="89.80" stroke="#555" stroke-width="0.45"/>
<text x="214.7" y="91.05" text-anchor="end" font-size="3.5" fill="#1a1a1a" dy="0.35">−10</text>
<line x1="215.4" x2="217" y1="75.55" y2="75.55" stroke="#555" stroke-width="0.45"/>
<text x="214.7" y="76.80" text-anchor="end" font-size="3.5" fill="#1a1a1a" dy="0.35">−5</text>
<line x1="215.4" x2="217" y1="61.30" y2="61.30" stroke="#555" stroke-width="0.45"/>
<text x="214.7" y="62.55" text-anchor="end" font-size="3.5" fill="#1a1a1a" dy="0.35">0</text>
<line x1="215.4" x2="217" y1="47.05" y2="47.05" stroke="#555" stroke-width="0.45"/>
<text x="214.7" y="48.30" text-anchor="end" font-size="3.5" fill="#1a1a1a" dy="0.35">5</text>
<line x1="215.4" x2="217" y1="32.80" y2="32.80" stroke="#555" stroke-width="0.45"/>
<text x="214.7" y="34.05" text-anchor="end" font-size="3.5" fill="#1a1a1a" dy="0.35">10</text>
<line x1="215.4" x2="217" y1="18.55" y2="18.55" stroke="#555" stroke-width="0.45"/>
<text x="214.7" y="19.80" text-anchor="end" font-size="3.5" fill="#1a1a1a" dy="0.35">15</text>
<line x1="225.1" x2="225.1" y1="113" y2="114.6" stroke="#555" stroke-width="0.45"/>
<text class="xl" transform="translate(223.95,115.2) rotate(90)" font-size="3.6" font-weight="bold" fill="#2a2a2a">23:13</text>
<line x1="231.9" x2="231.9" y1="113" y2="114.6" stroke="#555" stroke-width="0.45"/>
<text class="xl" transform="translate(230.75,115.2) rotate(90)" font-size="3.6" font-weight="bold" fill="#2a2a2a">19:20</text>
<line x1="238.2" x2="238.2" y1="113" y2="114.6" stroke="#555" stroke-width="0.45"/>
<text class="xl" transform="translate(237.05,115.2) rotate(90)" font-size="3.6" font-weight="bold" fill="#2a2a2a">17:17</text>
<line x1="246.5" x2="246.5" y1="113" y2="114.6" stroke="#555" stroke-width="0.45"/>
<text class="xl" transform="translate(245.35,115.2) rotate(90)" font-size="3.6" font-weight="bold" fill="#2a2a2a">22:44</text>
<line x1="253.3" x2="253.3" y1="113" y2="114.6" stroke="#555" stroke-width="0.45"/>
<text class="xl" transform="translate(252.15,115.2) rotate(90)" font-size="3.6" font-weight="bold" fill="#2a2a2a">19:13</text>
<line x1="259.6" x2="259.6" y1="113" y2="114.6" stroke="#555" stroke-width="0.45"/>
<text class="xl" transform="translate(258.45,115.2) rotate(90)" font-size="3.6" font-weight="bold" fill="#2a2a2a">19:41</text>
<line x1="267.5" x2="267.5" y1="113" y2="114.6" stroke="#555" stroke-width="0.45"/>
<text class="xl" transform="translate(266.35,115.2) rotate(90)" font-size="3.6" font-weight="bold" fill="#2a2a2a">22:55</text>
<line x1="273.1" x2="273.1" y1="113" y2="114.6" stroke="#555" stroke-width="0.45"/>
<text class="xl" transform="translate(271.95,115.2) rotate(90)" font-size="3.6" font-weight="bold" fill="#2a2a2a">21:50</text>
<line x1="280.3" x2="280.3" y1="113" y2="114.6" stroke="#555" stroke-width="0.45"/>
<text class="xl" transform="translate(279.15,115.2) rotate(90)" font-size="3.6" font-weight="bold" fill="#2a2a2a">16:35</text>
<line x1="286.6" x2="286.6" y1="113" y2="114.6" stroke="#555" stroke-width="0.45"/>
<text class="xl" transform="translate(285.45,115.2) rotate(90)" font-size="3.6" font-weight="bold" fill="#2a2a2a">10:29</text>
<line x1="292.7" x2="292.7" y1="113" y2="114.6" stroke="#555" stroke-width="0.45"/>
<text class="xl" transform="translate(291.55,115.2) rotate(90)" font-size="3.6" font-weight="bold" fill="#2a2a2a">20:19</text>
<line x1="298.3" x2="298.3" y1="113" y2="114.6" stroke="#555" stroke-width="0.45"/>
<text class="xl" transform="translate(297.15,115.2) rotate(90)" font-size="3.6" font-weight="bold" fill="#2a2a2a">13:41</text>
<line x1="303" x2="303" y1="113" y2="114.6" stroke="#555" stroke-width="0.45"/>
<text class="xl" transform="translate(301.85,115.2) rotate(90)" font-size="3.6" font-weight="bold" fill="#2a2a2a">15:19</text>
<line x1="308.75" x2="308.75" y1="113" y2="114.6" stroke="#555" stroke-width="0.45"/>
<text class="xl" transform="translate(307.60,115.2) rotate(90)" font-size="3.6" font-weight="bold" fill="#2a2a2a">10:21</text>
<line x1="314.5" x2="314.5" y1="113" y2="114.6" stroke="#555" stroke-width="0.45"/>
<text class="xl" transform="translate(313.35,115.2) rotate(90)" font-size="3.6" font-weight="bold" fill="#2a2a2a">16:40</text>
<line x1="322.5" x2="322.5" y1="113" y2="114.6" stroke="#555" stroke-width="0.45"/>
<text class="xl" transform="translate(321.35,115.2) rotate(90)" font-size="3.6" font-weight="bold" fill="#2a2a2a">14:40</text>
<line x1="328" x2="328" y1="113" y2="114.6" stroke="#555" stroke-width="0.45"/>
<text class="xl" transform="translate(326.85,115.2) rotate(90)" font-size="3.6" font-weight="bold" fill="#2a2a2a">17:36</text>
<line x1="334.25" x2="334.25" y1="113" y2="114.6" stroke="#555" stroke-width="0.45"/>
<text class="xl" transform="translate(333.10,115.2) rotate(90)" font-size="3.6" font-weight="bold" fill="#2a2a2a">20:19</text>
<line x1="340" x2="340" y1="113" y2="114.6" stroke="#555" stroke-width="0.45"/>
<text class="xl" transform="translate(338.85,115.2) rotate(90)" font-size="3.6" font-weight="bold" fill="#2a2a2a">22:50</text>
<line x1="348.75" x2="348.75" y1="113" y2="114.6" stroke="#555" stroke-width="0.45"/>
<text class="xl" transform="translate(347.60,115.2) rotate(90)" font-size="3.6" font-weight="bold" fill="#2a2a2a">18:34</text>
<line x1="356.25" x2="356.25" y1="113" y2="114.6" stroke="#555" stroke-width="0.45"/>
<text class="xl" transform="translate(355.10,115.2) rotate(90)" font-size="3.6" font-weight="bold" fill="#2a2a2a">14:13</text>
<line x1="364.25" x2="364.25" y1="113" y2="114.6" stroke="#555" stroke-width="0.45"/>
<text class="xl" transform="translate(363.10,115.2) rotate(90)" font-size="3.6" font-weight="bold" fill="#2a2a2a">21:41</text>
<line x1="371.25" x2="371.25" y1="113" y2="114.6" stroke="#555" stroke-width="0.45"/>
<text class="xl" transform="translate(370.10,115.2) rotate(90)" font-size="3.6" font-weight="bold" fill="#2a2a2a">16:52</text>
<line x1="379.5" x2="379.5" y1="113" y2="114.6" stroke="#555" stroke-width="0.45"/>
<text class="xl" transform="translate(378.35,115.2) rotate(90)" font-size="3.6" font-weight="bold" fill="#2a2a2a">18:14:00</text>
<line x1="387" x2="387" y1="113" y2="114.6" stroke="#555" stroke-width="0.45"/>
<text class="xl" transform="translate(385.85,115.2) rotate(90)" font-size="3.6" font-weight="bold" fill="#2a2a2a">16:42:00</text>
<text x="306.90000000000003" y="5.3" text-anchor="middle" font-size="4.2" fill="#111">SKY_2021-10-5 15:00</text>
<text x="306" y="134.3" text-anchor="middle" font-size="3.6" fill="#1a1a1a">datetime</text>
<text transform="translate(205.5,59.8) rotate(-90)" text-anchor="middle" font-size="3.6" fill="#1a1a1a">blu_volume</text>
<rect x="217.6" y="7.5" width="45.400000000000006" height="11.3" rx="0.6" fill="#fff" fill-opacity="0.95" stroke="#e0e0e0" stroke-width="0.4"/>
<line x1="219.4" x2="226.9" y1="10.6" y2="10.6" stroke="#5f5aee" stroke-width="0.7" stroke-dasharray="1.3 0.6"/>
<line x1="219.4" x2="226.9" y1="15.8" y2="15.8" stroke="#dccf80" stroke-width="0.7" stroke-dasharray="1.3 0.6"/>
<text x="229.20000000000002" y="11.9" font-size="3.55" fill="#1a1a1a">2021-10-5 15:00</text>
<text x="229.20000000000002" y="17.1" font-size="3.55" fill="#1a1a1a">anomalous volumes</text></g><g><rect x="17.4" y="144.3" width="178.79999999999998" height="106.69999999999999" fill="#fff"/>
<rect x="25" y="146.8" width="165" height="4.199999999999989" fill="url(#gh1)" opacity="0.55"/>
<rect x="176.4" y="193.5" width="5.2" height="20.30000000000001" fill="#fdf3f7"/>
<rect x="169.70000000000002" y="193.5" width="5.2" height="19.19999999999999" fill="#fdf3f7"/>
<rect x="151.70000000000002" y="193.5" width="5.2" height="11.300000000000011" fill="#fdf3f7"/>
<rect x="140.9" y="183.7" width="5.2" height="11.800000000000011" fill="#fdf3f7"/>
<rect x="140.9" y="193.5" width="5.2" height="54.099999999999994" fill="#fdf3f7"/>
<rect x="131.0" y="193.5" width="5.2" height="44.5" fill="#fdf3f7"/>
<rect x="122.9" y="193.5" width="5.2" height="40.5" fill="#fdf3f7"/>
<rect x="117.2" y="148.3" width="5.2" height="47.19999999999999" fill="#fdf3f7"/>
<rect x="61.0" y="178" width="5.2" height="17.5" fill="#fdf3f7"/>
<rect x="57.199999999999996" y="193.5" width="5.2" height="21.5" fill="#fdf3f7"/>
<rect x="45.3" y="193.5" width="5.2" height="35.400000000000006" fill="#fdf3f7"/>
<rect x="25" y="161.6" width="165" height="0.8000000000000114" fill="#f6c8ea" opacity="0.55"/>
<rect x="25" y="164" width="165" height="2.5" fill="url(#gh1)" opacity="0.55"/>
<rect x="25" y="175.5" width="165" height="8.5" fill="url(#gh2)" opacity="0.55"/>
<rect x="44" y="200" width="8" height="30" fill="#fef6f9"/>
<rect x="117" y="146" width="5" height="48" fill="#fef6f9"/>
<rect x="141" y="185" width="5" height="64" fill="#fef6f9"/>
<line x1="25.5" x2="190.0" y1="186.2" y2="186.2" stroke="#dfc85e" stroke-width="0.8" stroke-dasharray="1.0 0.4"/>
<line x1="25.5" x2="190.0" y1="202.7" y2="202.7" stroke="#dfc85e" stroke-width="0.8" stroke-dasharray="1.0 0.4"/>
<path d="M25.7 194.5V189.5M28.4 194.5V199.5M28.7 194.5V190.8M32.3 194.5V185.8M34.7 194.5V190.5M35.8 194.5V191.0M36.2 194.5V191.1M37.7 194.5V199.7M38.0 194.5V198.3M38.4 194.5V198.6M39.9 194.5V189.7M41.0 194.5V199.4M42.9 194.5V191.1M44.0 194.5V198.9M49.2 194.5V198.2M50.3 194.5V184.2M51.8 194.5V198.2M52.6 194.5V202.2M52.9 194.5V199.0M54.4 194.5V197.9M57.0 194.5V188.8M58.9 194.5V199.4M61.1 194.5V187.9M62.2 194.5V198.4M63.4 194.5V190.7M67.1 194.5V201.2M67.8 194.5V200.1M68.2 194.5V188.4M70.1 194.5V199.1M71.2 194.5V187.9M71.9 194.5V200.2M75.3 194.5V197.9M76.8 194.5V200.2M80.9 194.5V200.6M82.0 194.5V198.8M83.5 194.5V190.1M92.0 194.5V187.7M92.8 194.5V190.5M96.9 194.5V188.7M100.2 194.5V190.8M108.4 194.5V189.6M112.5 194.5V198.0M114.4 194.5V191.1M117.0 194.5V200.0M118.9 194.5V198.9M119.6 194.5V188.6M121.8 194.5V185.5M124.4 194.5V189.6M125.6 194.5V189.3M126.7 194.5V199.4M129.7 194.5V199.4M132.6 194.5V189.3M133.4 194.5V188.5M134.5 194.5V199.0M139.7 194.5V197.9M142.3 194.5V200.9M145.3 194.5V187.7M148.6 194.5V198.6M149.8 194.5V200.4M155.4 194.5V199.4M159.1 194.5V197.9M160.2 194.5V199.0M160.6 194.5V189.9M163.9 194.5V199.5M166.9 194.5V200.5M167.6 194.5V189.3M173.2 194.5V188.5M178.8 194.5V200.0M182.5 194.5V189.9M185.1 194.5V185.5M185.9 194.5V199.5" stroke="#33602a" stroke-width="0.7" fill="none"/>
<path d="M25.0 194.3 L25.4 192.1 L25.7 191.2 L26.1 195.0 L26.5 192.4 L26.9 194.6 L27.2 195.2 L27.6 195.3 L28.0 197.6 L28.4 197.8 L28.7 191.2 L29.1 193.8 L29.5 192.3 L29.8 196.6 L30.2 193.9 L30.6 196.5 L31.0 193.7 L31.3 193.9 L31.7 197.0 L32.1 193.5 L32.3 191.2 L32.4 195.8 L32.8 193.3 L33.2 192.1 L33.6 196.1 L33.9 191.7 L34.3 194.7 L34.7 191.2 L35.1 195.4 L35.4 193.6 L35.8 191.2 L36.2 191.2 L36.5 193.1 L36.9 193.9 L37.3 196.4 L37.7 197.8 L38.0 197.8 L38.4 197.8 L38.8 195.8 L39.2 194.3 L39.5 194.4 L39.9 191.2 L40.3 196.1 L40.6 196.5 L41.0 197.8 L41.4 192.1 L41.8 191.6 L42.1 197.4 L42.5 192.0 L42.9 191.2 L43.2 195.1 L43.6 195.5 L44.0 197.8 L44.4 195.1 L44.7 192.9 L45.1 195.2 L45.5 192.8 L45.9 195.6 L46.2 195.8 L46.6 195.7 L47.0 195.5 L47.3 194.1 L47.7 194.6 L48.1 195.3 L48.5 192.0 L48.8 194.3 L49.2 197.8 L49.6 191.7 L50.0 192.4 L50.3 191.2 L50.3 193.0 L50.7 192.9 L51.1 195.8 L51.4 192.0 L51.8 197.8 L52.2 197.2 L52.6 197.8 L52.9 197.8 L53.3 194.3 L53.7 193.5 L54.1 193.2 L54.4 197.8 L54.8 193.5 L55.2 197.0 L55.5 193.4 L55.9 193.4 L56.3 195.6 L56.7 192.9 L57.0 191.2 L57.4 195.0 L57.8 194.6 L58.1 195.0 L58.5 194.6 L58.9 197.8 L59.3 192.1 L59.6 197.4 L60.0 194.5 L60.4 194.0 L60.8 193.2 L61.1 191.2 L61.5 193.7 L61.9 193.1 L62.2 197.8 L62.6 192.2 L63.0 194.6 L63.4 191.2 L63.7 195.3 L64.1 193.5 L64.5 192.9 L64.9 191.5 L65.2 194.4 L65.6 194.7 L66.0 193.1 L66.3 194.0 L66.7 196.4 L67.1 197.8 L67.5 193.9 L67.8 197.8 L68.2 191.2 L68.6 194.4 L68.9 195.3 L69.3 193.6 L69.7 197.3 L70.1 197.8 L70.4 197.2 L70.8 193.8 L71.2 191.2 L71.6 193.4 L71.9 197.8 L72.3 195.1 L72.7 192.7 L73.0 193.6 L73.4 192.8 L73.8 195.2 L74.2 194.7 L74.5 192.4 L74.9 196.6 L75.3 197.8 L75.7 194.7 L76.0 196.9 L76.4 193.4 L76.8 197.8 L77.1 195.5 L77.5 196.1 L77.9 194.2 L78.3 194.8 L78.6 195.0 L79.0 196.0 L79.4 192.1 L79.7 194.6 L80.1 195.3 L80.5 194.8 L80.9 197.8 L81.2 195.4 L81.6 195.9 L82.0 197.8 L82.4 192.3 L82.7 195.4 L83.1 194.1 L83.5 191.2 L83.8 196.6 L84.2 193.2 L84.6 194.9 L85.0 195.5 L85.3 193.3 L85.7 192.6 L86.1 192.1 L86.5 195.3 L86.8 194.5 L87.2 195.6 L87.6 193.1 L87.9 196.4 L88.3 192.9 L88.7 196.5 L89.1 193.2 L89.4 195.5 L89.8 193.7 L90.2 192.1 L90.5 193.2 L90.9 196.0 L91.3 193.8 L91.7 192.1 L92.0 191.2 L92.4 193.5 L92.8 191.2 L93.2 193.3 L93.5 194.4 L93.9 195.2 L94.3 192.0 L94.6 196.6 L95.0 194.7 L95.4 195.0 L95.8 193.3 L96.1 194.2 L96.5 193.4 L96.9 191.2 L97.3 194.6 L97.6 194.7 L98.0 195.8 L98.4 194.4 L98.7 196.3 L99.1 193.0 L99.5 195.0 L99.9 195.3 L100.2 191.2 L100.6 191.9 L101.0 194.4 L101.3 196.1 L101.7 194.0 L102.1 195.9 L102.5 195.6 L102.8 196.6 L103.2 196.3 L103.6 192.1 L104.0 193.4 L104.3 192.0 L104.7 192.4 L105.1 196.3 L105.4 193.4 L105.8 193.2 L106.2 197.1 L106.6 195.4 L106.9 194.2 L107.3 193.9 L107.7 197.5 L108.1 195.3 L108.4 191.2 L108.8 191.9 L109.2 195.5 L109.5 193.1 L109.9 194.3 L110.3 196.3 L110.7 194.6 L111.0 193.6 L111.4 194.7 L111.8 195.7 L112.2 194.6 L112.5 197.8 L112.9 193.3 L113.3 193.0 L113.6 195.7 L114.0 195.0 L114.4 191.2 L114.8 193.9 L115.1 196.3 L115.5 192.9 L115.9 191.6 L116.2 194.9 L116.6 197.1 L117.0 197.8 L117.4 196.6 L117.7 194.8 L118.1 192.3 L118.5 194.0 L118.9 197.8 L119.2 196.4 L119.6 191.2 L120.0 197.1 L120.3 194.9 L120.7 194.5 L121.1 196.1 L121.5 192.1 L121.8 191.2 L122.2 195.0 L122.6 193.3 L123.0 194.0 L123.3 195.8 L123.7 191.4 L124.1 195.0 L124.4 191.2 L124.8 194.9 L125.2 194.5 L125.6 191.2 L125.9 193.7 L126.3 197.0 L126.7 197.8 L127.0 197.1 L127.4 191.8 L127.8 192.0 L128.2 194.1 L128.5 192.8 L128.9 192.5 L129.3 193.4 L129.7 197.8 L130.0 192.4 L130.4 194.0 L130.8 194.4 L131.1 192.6 L131.5 191.4 L131.9 191.7 L132.3 195.9 L132.6 191.2 L133.0 192.4 L133.4 191.2 L133.8 195.0 L134.1 193.8 L134.5 197.8 L134.9 194.6 L135.2 195.7 L135.6 194.4 L136.0 191.9 L136.4 196.4 L136.7 196.2 L137.1 192.3 L137.5 195.8 L137.8 195.9 L138.2 196.4 L138.6 193.3 L139.0 194.2 L139.3 196.4 L139.7 197.8 L140.1 191.6 L140.5 193.8 L140.8 196.4 L141.2 196.5 L141.6 191.6 L141.9 192.0 L142.3 197.8 L142.7 192.4 L143.1 194.2 L143.4 193.4 L143.8 193.7 L144.2 191.7 L144.6 197.2 L144.9 194.7 L145.3 191.2 L145.7 193.0 L146.0 195.4 L146.4 193.9 L146.8 195.7 L147.2 193.5 L147.5 194.9 L147.9 194.8 L148.3 193.2 L148.6 197.8 L149.0 194.6 L149.4 194.1 L149.8 197.8 L150.1 193.9 L150.5 195.2 L150.9 193.0 L151.3 193.3 L151.6 192.8 L152.0 193.1 L152.4 196.8 L152.7 192.9 L153.1 192.6 L153.5 195.2 L153.9 192.9 L154.2 194.4 L154.6 193.4 L155.0 191.5 L155.4 197.8 L155.7 192.0 L156.1 193.2 L156.5 194.0 L156.8 195.9 L157.2 191.7 L157.6 192.3 L158.0 196.7 L158.3 193.4 L158.7 196.0 L159.1 197.8 L159.4 192.3 L159.8 194.9 L160.2 197.8 L160.6 191.2 L160.9 192.7 L161.3 194.8 L161.7 192.5 L162.1 194.5 L162.4 196.1 L162.8 195.1 L163.2 194.1 L163.5 196.1 L163.9 197.8 L164.3 195.3 L164.7 193.7 L165.0 196.8 L165.4 194.9 L165.8 195.0 L166.2 192.4 L166.5 194.9 L166.9 197.8 L167.3 194.3 L167.6 191.2 L168.0 192.7 L168.4 194.9 L168.8 194.4 L169.1 193.0 L169.5 197.3 L169.9 196.6 L170.3 195.6 L170.6 196.5 L171.0 194.0 L171.4 194.4 L171.7 194.3 L172.1 196.9 L172.5 193.4 L172.9 196.1 L173.2 191.2 L173.6 194.2 L174.0 192.7 L174.3 195.7 L174.7 193.5 L175.1 196.9 L175.5 193.9 L175.8 193.4 L176.2 196.4 L176.6 195.1 L177.0 193.8 L177.3 196.5 L177.7 195.4 L178.1 192.4 L178.4 192.4 L178.8 197.8 L179.2 195.1 L179.6 191.6 L179.9 195.4 L180.3 196.1 L180.7 191.9 L181.1 195.2 L181.4 193.7 L181.8 192.8 L182.2 195.1 L182.5 191.2 L182.9 195.7 L183.3 193.5 L183.7 193.7 L184.0 194.6 L184.4 192.5 L184.8 193.4 L185.1 191.2 L185.5 197.1 L185.9 197.8 L186.3 192.2 L186.6 195.6 L187.0 194.9 L187.4 192.8 L187.8 192.1 L188.1 194.7 L188.5 194.4" stroke="#279414" stroke-width="1.8" fill="none" stroke-linejoin="round"/>
<g fill="#2a6810"><circle cx="25.0" cy="194.3" r="0.95"/><circle cx="25.4" cy="192.1" r="0.95"/><circle cx="26.1" cy="195.0" r="0.95"/><circle cx="26.5" cy="192.4" r="0.95"/><circle cx="26.9" cy="194.6" r="0.95"/><circle cx="27.2" cy="195.2" r="0.95"/><circle cx="27.6" cy="195.3" r="0.95"/><circle cx="28.0" cy="197.6" r="0.95"/><circle cx="29.1" cy="193.8" r="0.95"/><circle cx="29.5" cy="192.3" r="0.95"/><circle cx="29.8" cy="196.6" r="0.95"/><circle cx="30.2" cy="193.9" r="0.95"/><circle cx="30.6" cy="196.5" r="0.95"/><circle cx="31.0" cy="193.7" r="0.95"/><circle cx="31.3" cy="193.9" r="0.95"/><circle cx="31.7" cy="197.0" r="0.95"/><circle cx="32.1" cy="193.5" r="0.95"/><circle cx="32.4" cy="195.8" r="0.95"/><circle cx="32.8" cy="193.3" r="0.95"/><circle cx="33.2" cy="192.1" r="0.95"/><circle cx="33.6" cy="196.1" r="0.95"/><circle cx="33.9" cy="191.7" r="0.95"/><circle cx="34.3" cy="194.7" r="0.95"/><circle cx="35.1" cy="195.4" r="0.95"/><circle cx="35.4" cy="193.6" r="0.95"/><circle cx="36.5" cy="193.1" r="0.95"/><circle cx="36.9" cy="193.9" r="0.95"/><circle cx="37.3" cy="196.4" r="0.95"/><circle cx="38.8" cy="195.8" r="0.95"/><circle cx="39.2" cy="194.3" r="0.95"/><circle cx="39.5" cy="194.4" r="0.95"/><circle cx="40.3" cy="196.1" r="0.95"/><circle cx="40.6" cy="196.5" r="0.95"/><circle cx="41.4" cy="192.1" r="0.95"/><circle cx="41.8" cy="191.6" r="0.95"/><circle cx="42.1" cy="197.4" r="0.95"/><circle cx="42.5" cy="192.0" r="0.95"/><circle cx="43.2" cy="195.1" r="0.95"/><circle cx="43.6" cy="195.5" r="0.95"/><circle cx="44.4" cy="195.1" r="0.95"/><circle cx="44.7" cy="192.9" r="0.95"/><circle cx="45.1" cy="195.2" r="0.95"/><circle cx="45.5" cy="192.8" r="0.95"/><circle cx="45.9" cy="195.6" r="0.95"/><circle cx="46.2" cy="195.8" r="0.95"/><circle cx="46.6" cy="195.7" r="0.95"/><circle cx="47.0" cy="195.5" r="0.95"/><circle cx="47.3" cy="194.1" r="0.95"/><circle cx="47.7" cy="194.6" r="0.95"/><circle cx="48.1" cy="195.3" r="0.95"/><circle cx="48.5" cy="192.0" r="0.95"/><circle cx="48.8" cy="194.3" r="0.95"/><circle cx="49.6" cy="191.7" r="0.95"/><circle cx="50.0" cy="192.4" r="0.95"/><circle cx="50.3" cy="193.0" r="0.95"/><circle cx="50.7" cy="192.9" r="0.95"/><circle cx="51.1" cy="195.8" r="0.95"/><circle cx="51.4" cy="192.0" r="0.95"/><circle cx="52.2" cy="197.2" r="0.95"/><circle cx="53.3" cy="194.3" r="0.95"/><circle cx="53.7" cy="193.5" r="0.95"/><circle cx="54.1" cy="193.2" r="0.95"/><circle cx="54.8" cy="193.5" r="0.95"/><circle cx="55.2" cy="197.0" r="0.95"/><circle cx="55.5" cy="193.4" r="0.95"/><circle cx="55.9" cy="193.4" r="0.95"/><circle cx="56.3" cy="195.6" r="0.95"/><circle cx="56.7" cy="192.9" r="0.95"/><circle cx="57.4" cy="195.0" r="0.95"/><circle cx="57.8" cy="194.6" r="0.95"/><circle cx="58.1" cy="195.0" r="0.95"/><circle cx="58.5" cy="194.6" r="0.95"/><circle cx="59.3" cy="192.1" r="0.95"/><circle cx="59.6" cy="197.4" r="0.95"/><circle cx="60.0" cy="194.5" r="0.95"/><circle cx="60.4" cy="194.0" r="0.95"/><circle cx="60.8" cy="193.2" r="0.95"/><circle cx="61.5" cy="193.7" r="0.95"/><circle cx="61.9" cy="193.1" r="0.95"/><circle cx="62.6" cy="192.2" r="0.95"/><circle cx="63.0" cy="194.6" r="0.95"/><circle cx="63.7" cy="195.3" r="0.95"/><circle cx="64.1" cy="193.5" r="0.95"/><circle cx="64.5" cy="192.9" r="0.95"/><circle cx="64.9" cy="191.5" r="0.95"/><circle cx="65.2" cy="194.4" r="0.95"/><circle cx="65.6" cy="194.7" r="0.95"/><circle cx="66.0" cy="193.1" r="0.95"/><circle cx="66.3" cy="194.0" r="0.95"/><circle cx="66.7" cy="196.4" r="0.95"/><circle cx="67.5" cy="193.9" r="0.95"/><circle cx="68.6" cy="194.4" r="0.95"/><circle cx="68.9" cy="195.3" r="0.95"/><circle cx="69.3" cy="193.6" r="0.95"/><circle cx="69.7" cy="197.3" r="0.95"/><circle cx="70.4" cy="197.2" r="0.95"/><circle cx="70.8" cy="193.8" r="0.95"/><circle cx="71.6" cy="193.4" r="0.95"/><circle cx="72.3" cy="195.1" r="0.95"/><circle cx="72.7" cy="192.7" r="0.95"/><circle cx="73.0" cy="193.6" r="0.95"/><circle cx="73.4" cy="192.8" r="0.95"/><circle cx="73.8" cy="195.2" r="0.95"/><circle cx="74.2" cy="194.7" r="0.95"/><circle cx="74.5" cy="192.4" r="0.95"/><circle cx="74.9" cy="196.6" r="0.95"/><circle cx="75.7" cy="194.7" r="0.95"/><circle cx="76.0" cy="196.9" r="0.95"/><circle cx="76.4" cy="193.4" r="0.95"/><circle cx="77.1" cy="195.5" r="0.95"/><circle cx="77.5" cy="196.1" r="0.95"/><circle cx="77.9" cy="194.2" r="0.95"/><circle cx="78.3" cy="194.8" r="0.95"/><circle cx="78.6" cy="195.0" r="0.95"/><circle cx="79.0" cy="196.0" r="0.95"/><circle cx="79.4" cy="192.1" r="0.95"/><circle cx="79.7" cy="194.6" r="0.95"/><circle cx="80.1" cy="195.3" r="0.95"/><circle cx="80.5" cy="194.8" r="0.95"/><circle cx="81.2" cy="195.4" r="0.95"/><circle cx="81.6" cy="195.9" r="0.95"/><circle cx="82.4" cy="192.3" r="0.95"/><circle cx="82.7" cy="195.4" r="0.95"/><circle cx="83.1" cy="194.1" r="0.95"/><circle cx="83.8" cy="196.6" r="0.95"/><circle cx="84.2" cy="193.2" r="0.95"/><circle cx="84.6" cy="194.9" r="0.95"/><circle cx="85.0" cy="195.5" r="0.95"/><circle cx="85.3" cy="193.3" r="0.95"/><circle cx="85.7" cy="192.6" r="0.95"/><circle cx="86.1" cy="192.1" r="0.95"/><circle cx="86.5" cy="195.3" r="0.95"/><circle cx="86.8" cy="194.5" r="0.95"/><circle cx="87.2" cy="195.6" r="0.95"/><circle cx="87.6" cy="193.1" r="0.95"/><circle cx="87.9" cy="196.4" r="0.95"/><circle cx="88.3" cy="192.9" r="0.95"/><circle cx="88.7" cy="196.5" r="0.95"/><circle cx="89.1" cy="193.2" r="0.95"/><circle cx="89.4" cy="195.5" r="0.95"/><circle cx="89.8" cy="193.7" r="0.95"/><circle cx="90.2" cy="192.1" r="0.95"/><circle cx="90.5" cy="193.2" r="0.95"/><circle cx="90.9" cy="196.0" r="0.95"/><circle cx="91.3" cy="193.8" r="0.95"/><circle cx="91.7" cy="192.1" r="0.95"/><circle cx="92.4" cy="193.5" r="0.95"/><circle cx="93.2" cy="193.3" r="0.95"/><circle cx="93.5" cy="194.4" r="0.95"/><circle cx="93.9" cy="195.2" r="0.95"/><circle cx="94.3" cy="192.0" r="0.95"/><circle cx="94.6" cy="196.6" r="0.95"/><circle cx="95.0" cy="194.7" r="0.95"/><circle cx="95.4" cy="195.0" r="0.95"/><circle cx="95.8" cy="193.3" r="0.95"/><circle cx="96.1" cy="194.2" r="0.95"/><circle cx="96.5" cy="193.4" r="0.95"/><circle cx="97.3" cy="194.6" r="0.95"/><circle cx="97.6" cy="194.7" r="0.95"/><circle cx="98.0" cy="195.8" r="0.95"/><circle cx="98.4" cy="194.4" r="0.95"/><circle cx="98.7" cy="196.3" r="0.95"/><circle cx="99.1" cy="193.0" r="0.95"/><circle cx="99.5" cy="195.0" r="0.95"/><circle cx="99.9" cy="195.3" r="0.95"/><circle cx="100.6" cy="191.9" r="0.95"/><circle cx="101.0" cy="194.4" r="0.95"/><circle cx="101.3" cy="196.1" r="0.95"/><circle cx="101.7" cy="194.0" r="0.95"/><circle cx="102.1" cy="195.9" r="0.95"/><circle cx="102.5" cy="195.6" r="0.95"/><circle cx="102.8" cy="196.6" r="0.95"/><circle cx="103.2" cy="196.3" r="0.95"/><circle cx="103.6" cy="192.1" r="0.95"/><circle cx="104.0" cy="193.4" r="0.95"/><circle cx="104.3" cy="192.0" r="0.95"/><circle cx="104.7" cy="192.4" r="0.95"/><circle cx="105.1" cy="196.3" r="0.95"/><circle cx="105.4" cy="193.4" r="0.95"/><circle cx="105.8" cy="193.2" r="0.95"/><circle cx="106.2" cy="197.1" r="0.95"/><circle cx="106.6" cy="195.4" r="0.95"/><circle cx="106.9" cy="194.2" r="0.95"/><circle cx="107.3" cy="193.9" r="0.95"/><circle cx="107.7" cy="197.5" r="0.95"/><circle cx="108.1" cy="195.3" r="0.95"/><circle cx="108.8" cy="191.9" r="0.95"/><circle cx="109.2" cy="195.5" r="0.95"/><circle cx="109.5" cy="193.1" r="0.95"/><circle cx="109.9" cy="194.3" r="0.95"/><circle cx="110.3" cy="196.3" r="0.95"/><circle cx="110.7" cy="194.6" r="0.95"/><circle cx="111.0" cy="193.6" r="0.95"/><circle cx="111.4" cy="194.7" r="0.95"/><circle cx="111.8" cy="195.7" r="0.95"/><circle cx="112.2" cy="194.6" r="0.95"/><circle cx="112.9" cy="193.3" r="0.95"/><circle cx="113.3" cy="193.0" r="0.95"/><circle cx="113.6" cy="195.7" r="0.95"/><circle cx="114.0" cy="195.0" r="0.95"/><circle cx="114.8" cy="193.9" r="0.95"/><circle cx="115.1" cy="196.3" r="0.95"/><circle cx="115.5" cy="192.9" r="0.95"/><circle cx="115.9" cy="191.6" r="0.95"/><circle cx="116.2" cy="194.9" r="0.95"/><circle cx="116.6" cy="197.1" r="0.95"/><circle cx="117.4" cy="196.6" r="0.95"/><circle cx="117.7" cy="194.8" r="0.95"/><circle cx="118.1" cy="192.3" r="0.95"/><circle cx="118.5" cy="194.0" r="0.95"/><circle cx="119.2" cy="196.4" r="0.95"/><circle cx="120.0" cy="197.1" r="0.95"/><circle cx="120.3" cy="194.9" r="0.95"/><circle cx="120.7" cy="194.5" r="0.95"/><circle cx="121.1" cy="196.1" r="0.95"/><circle cx="121.5" cy="192.1" r="0.95"/><circle cx="122.2" cy="195.0" r="0.95"/><circle cx="122.6" cy="193.3" r="0.95"/><circle cx="123.0" cy="194.0" r="0.95"/><circle cx="123.3" cy="195.8" r="0.95"/><circle cx="123.7" cy="191.4" r="0.95"/><circle cx="124.1" cy="195.0" r="0.95"/><circle cx="124.8" cy="194.9" r="0.95"/><circle cx="125.2" cy="194.5" r="0.95"/><circle cx="125.9" cy="193.7" r="0.95"/><circle cx="126.3" cy="197.0" r="0.95"/><circle cx="127.0" cy="197.1" r="0.95"/><circle cx="127.4" cy="191.8" r="0.95"/><circle cx="127.8" cy="192.0" r="0.95"/><circle cx="128.2" cy="194.1" r="0.95"/><circle cx="128.5" cy="192.8" r="0.95"/><circle cx="128.9" cy="192.5" r="0.95"/><circle cx="129.3" cy="193.4" r="0.95"/><circle cx="130.0" cy="192.4" r="0.95"/><circle cx="130.4" cy="194.0" r="0.95"/><circle cx="130.8" cy="194.4" r="0.95"/><circle cx="131.1" cy="192.6" r="0.95"/><circle cx="131.5" cy="191.4" r="0.95"/><circle cx="131.9" cy="191.7" r="0.95"/><circle cx="132.3" cy="195.9" r="0.95"/><circle cx="133.0" cy="192.4" r="0.95"/><circle cx="133.8" cy="195.0" r="0.95"/><circle cx="134.1" cy="193.8" r="0.95"/><circle cx="134.9" cy="194.6" r="0.95"/><circle cx="135.2" cy="195.7" r="0.95"/><circle cx="135.6" cy="194.4" r="0.95"/><circle cx="136.0" cy="191.9" r="0.95"/><circle cx="136.4" cy="196.4" r="0.95"/><circle cx="136.7" cy="196.2" r="0.95"/><circle cx="137.1" cy="192.3" r="0.95"/><circle cx="137.5" cy="195.8" r="0.95"/><circle cx="137.8" cy="195.9" r="0.95"/><circle cx="138.2" cy="196.4" r="0.95"/><circle cx="138.6" cy="193.3" r="0.95"/><circle cx="139.0" cy="194.2" r="0.95"/><circle cx="139.3" cy="196.4" r="0.95"/><circle cx="140.1" cy="191.6" r="0.95"/><circle cx="140.5" cy="193.8" r="0.95"/><circle cx="140.8" cy="196.4" r="0.95"/><circle cx="141.2" cy="196.5" r="0.95"/><circle cx="141.6" cy="191.6" r="0.95"/><circle cx="141.9" cy="192.0" r="0.95"/><circle cx="142.7" cy="192.4" r="0.95"/><circle cx="143.1" cy="194.2" r="0.95"/><circle cx="143.4" cy="193.4" r="0.95"/><circle cx="143.8" cy="193.7" r="0.95"/><circle cx="144.2" cy="191.7" r="0.95"/><circle cx="144.6" cy="197.2" r="0.95"/><circle cx="144.9" cy="194.7" r="0.95"/><circle cx="145.7" cy="193.0" r="0.95"/><circle cx="146.0" cy="195.4" r="0.95"/><circle cx="146.4" cy="193.9" r="0.95"/><circle cx="146.8" cy="195.7" r="0.95"/><circle cx="147.2" cy="193.5" r="0.95"/><circle cx="147.5" cy="194.9" r="0.95"/><circle cx="147.9" cy="194.8" r="0.95"/><circle cx="148.3" cy="193.2" r="0.95"/><circle cx="149.0" cy="194.6" r="0.95"/><circle cx="149.4" cy="194.1" r="0.95"/><circle cx="150.1" cy="193.9" r="0.95"/><circle cx="150.5" cy="195.2" r="0.95"/><circle cx="150.9" cy="193.0" r="0.95"/><circle cx="151.3" cy="193.3" r="0.95"/><circle cx="151.6" cy="192.8" r="0.95"/><circle cx="152.0" cy="193.1" r="0.95"/><circle cx="152.4" cy="196.8" r="0.95"/><circle cx="152.7" cy="192.9" r="0.95"/><circle cx="153.1" cy="192.6" r="0.95"/><circle cx="153.5" cy="195.2" r="0.95"/><circle cx="153.9" cy="192.9" r="0.95"/><circle cx="154.2" cy="194.4" r="0.95"/><circle cx="154.6" cy="193.4" r="0.95"/><circle cx="155.0" cy="191.5" r="0.95"/><circle cx="155.7" cy="192.0" r="0.95"/><circle cx="156.1" cy="193.2" r="0.95"/><circle cx="156.5" cy="194.0" r="0.95"/><circle cx="156.8" cy="195.9" r="0.95"/><circle cx="157.2" cy="191.7" r="0.95"/><circle cx="157.6" cy="192.3" r="0.95"/><circle cx="158.0" cy="196.7" r="0.95"/><circle cx="158.3" cy="193.4" r="0.95"/><circle cx="158.7" cy="196.0" r="0.95"/><circle cx="159.4" cy="192.3" r="0.95"/><circle cx="159.8" cy="194.9" r="0.95"/><circle cx="160.9" cy="192.7" r="0.95"/><circle cx="161.3" cy="194.8" r="0.95"/><circle cx="161.7" cy="192.5" r="0.95"/><circle cx="162.1" cy="194.5" r="0.95"/><circle cx="162.4" cy="196.1" r="0.95"/><circle cx="162.8" cy="195.1" r="0.95"/><circle cx="163.2" cy="194.1" r="0.95"/><circle cx="163.5" cy="196.1" r="0.95"/><circle cx="164.3" cy="195.3" r="0.95"/><circle cx="164.7" cy="193.7" r="0.95"/><circle cx="165.0" cy="196.8" r="0.95"/><circle cx="165.4" cy="194.9" r="0.95"/><circle cx="165.8" cy="195.0" r="0.95"/><circle cx="166.2" cy="192.4" r="0.95"/><circle cx="166.5" cy="194.9" r="0.95"/><circle cx="167.3" cy="194.3" r="0.95"/><circle cx="168.0" cy="192.7" r="0.95"/><circle cx="168.4" cy="194.9" r="0.95"/><circle cx="168.8" cy="194.4" r="0.95"/><circle cx="169.1" cy="193.0" r="0.95"/><circle cx="169.5" cy="197.3" r="0.95"/><circle cx="169.9" cy="196.6" r="0.95"/><circle cx="170.3" cy="195.6" r="0.95"/><circle cx="170.6" cy="196.5" r="0.95"/><circle cx="171.0" cy="194.0" r="0.95"/><circle cx="171.4" cy="194.4" r="0.95"/><circle cx="171.7" cy="194.3" r="0.95"/><circle cx="172.1" cy="196.9" r="0.95"/><circle cx="172.5" cy="193.4" r="0.95"/><circle cx="172.9" cy="196.1" r="0.95"/><circle cx="173.6" cy="194.2" r="0.95"/><circle cx="174.0" cy="192.7" r="0.95"/><circle cx="174.3" cy="195.7" r="0.95"/><circle cx="174.7" cy="193.5" r="0.95"/><circle cx="175.1" cy="196.9" r="0.95"/><circle cx="175.5" cy="193.9" r="0.95"/><circle cx="175.8" cy="193.4" r="0.95"/><circle cx="176.2" cy="196.4" r="0.95"/><circle cx="176.6" cy="195.1" r="0.95"/><circle cx="177.0" cy="193.8" r="0.95"/><circle cx="177.3" cy="196.5" r="0.95"/><circle cx="177.7" cy="195.4" r="0.95"/><circle cx="178.1" cy="192.4" r="0.95"/><circle cx="178.4" cy="192.4" r="0.95"/><circle cx="179.2" cy="195.1" r="0.95"/><circle cx="179.6" cy="191.6" r="0.95"/><circle cx="179.9" cy="195.4" r="0.95"/><circle cx="180.3" cy="196.1" r="0.95"/><circle cx="180.7" cy="191.9" r="0.95"/><circle cx="181.1" cy="195.2" r="0.95"/><circle cx="181.4" cy="193.7" r="0.95"/><circle cx="181.8" cy="192.8" r="0.95"/><circle cx="182.2" cy="195.1" r="0.95"/><circle cx="182.9" cy="195.7" r="0.95"/><circle cx="183.3" cy="193.5" r="0.95"/><circle cx="183.7" cy="193.7" r="0.95"/><circle cx="184.0" cy="194.6" r="0.95"/><circle cx="184.4" cy="192.5" r="0.95"/><circle cx="184.8" cy="193.4" r="0.95"/><circle cx="185.5" cy="197.1" r="0.95"/><circle cx="186.3" cy="192.2" r="0.95"/><circle cx="186.6" cy="195.6" r="0.95"/><circle cx="187.0" cy="194.9" r="0.95"/><circle cx="187.4" cy="192.8" r="0.95"/><circle cx="187.8" cy="192.1" r="0.95"/><circle cx="188.1" cy="194.7" r="0.95"/><circle cx="188.5" cy="194.4" r="0.95"/></g>
<g fill="#2b5016"><circle cx="25.7" cy="189.5" r="1.05"/><circle cx="28.4" cy="199.5" r="1.05"/><circle cx="28.7" cy="190.8" r="1.05"/><circle cx="32.3" cy="185.8" r="1.05"/><circle cx="34.7" cy="190.5" r="1.05"/><circle cx="35.8" cy="191.0" r="1.05"/><circle cx="36.2" cy="191.1" r="1.05"/><circle cx="37.7" cy="199.7" r="1.05"/><circle cx="38.0" cy="198.3" r="1.05"/><circle cx="38.4" cy="198.6" r="1.05"/><circle cx="39.9" cy="189.7" r="1.05"/><circle cx="41.0" cy="199.4" r="1.05"/><circle cx="42.9" cy="191.1" r="1.05"/><circle cx="44.0" cy="198.9" r="1.05"/><circle cx="49.2" cy="198.2" r="1.05"/><circle cx="50.3" cy="184.2" r="1.05"/><circle cx="51.8" cy="198.2" r="1.05"/><circle cx="52.6" cy="202.2" r="1.05"/><circle cx="52.9" cy="199.0" r="1.05"/><circle cx="54.4" cy="197.9" r="1.05"/><circle cx="57.0" cy="188.8" r="1.05"/><circle cx="58.9" cy="199.4" r="1.05"/><circle cx="61.1" cy="187.9" r="1.05"/><circle cx="62.2" cy="198.4" r="1.05"/><circle cx="63.4" cy="190.7" r="1.05"/><circle cx="67.1" cy="201.2" r="1.05"/><circle cx="67.8" cy="200.1" r="1.05"/><circle cx="68.2" cy="188.4" r="1.05"/><circle cx="70.1" cy="199.1" r="1.05"/><circle cx="71.2" cy="187.9" r="1.05"/><circle cx="71.9" cy="200.2" r="1.05"/><circle cx="75.3" cy="197.9" r="1.05"/><circle cx="76.8" cy="200.2" r="1.05"/><circle cx="80.9" cy="200.6" r="1.05"/><circle cx="82.0" cy="198.8" r="1.05"/><circle cx="83.5" cy="190.1" r="1.05"/><circle cx="92.0" cy="187.7" r="1.05"/><circle cx="92.8" cy="190.5" r="1.05"/><circle cx="96.9" cy="188.7" r="1.05"/><circle cx="100.2" cy="190.8" r="1.05"/><circle cx="108.4" cy="189.6" r="1.05"/><circle cx="112.5" cy="198.0" r="1.05"/><circle cx="114.4" cy="191.1" r="1.05"/><circle cx="117.0" cy="200.0" r="1.05"/><circle cx="118.9" cy="198.9" r="1.05"/><circle cx="119.6" cy="188.6" r="1.05"/><circle cx="121.8" cy="185.5" r="1.05"/><circle cx="124.4" cy="189.6" r="1.05"/><circle cx="125.6" cy="189.3" r="1.05"/><circle cx="126.7" cy="199.4" r="1.05"/><circle cx="129.7" cy="199.4" r="1.05"/><circle cx="132.6" cy="189.3" r="1.05"/><circle cx="133.4" cy="188.5" r="1.05"/><circle cx="134.5" cy="199.0" r="1.05"/><circle cx="139.7" cy="197.9" r="1.05"/><circle cx="142.3" cy="200.9" r="1.05"/><circle cx="145.3" cy="187.7" r="1.05"/><circle cx="148.6" cy="198.6" r="1.05"/><circle cx="149.8" cy="200.4" r="1.05"/><circle cx="155.4" cy="199.4" r="1.05"/><circle cx="159.1" cy="197.9" r="1.05"/><circle cx="160.2" cy="199.0" r="1.05"/><circle cx="160.6" cy="189.9" r="1.05"/><circle cx="163.9" cy="199.5" r="1.05"/><circle cx="166.9" cy="200.5" r="1.05"/><circle cx="167.6" cy="189.3" r="1.05"/><circle cx="173.2" cy="188.5" r="1.05"/><circle cx="178.8" cy="200.0" r="1.05"/><circle cx="182.5" cy="189.9" r="1.05"/><circle cx="185.1" cy="185.5" r="1.05"/><circle cx="185.9" cy="199.5" r="1.05"/></g>
<line x1="47.9" x2="47.9" y1="194.5" y2="227.9" stroke="#f5e0d2" stroke-width="1.1"/>
<line x1="47.9" x2="47.9" y1="194.5" y2="227.9" stroke="#a35c36" stroke-width="0.65"/>
<circle cx="47.9" cy="227.9" r="1.2" fill="#4a3020"/>
<line x1="59.8" x2="59.8" y1="194.5" y2="214" stroke="#f5e0d2" stroke-width="1.1"/>
<line x1="59.8" x2="59.8" y1="194.5" y2="214" stroke="#a35c36" stroke-width="0.65"/>
<circle cx="59.8" cy="214" r="1.2" fill="#4a3020"/>
<line x1="63.6" x2="63.6" y1="194.5" y2="179" stroke="#f5e0d2" stroke-width="1.1"/>
<line x1="63.6" x2="63.6" y1="194.5" y2="179" stroke="#a35c36" stroke-width="0.65"/>
<circle cx="63.6" cy="179" r="1.2" fill="#4a3020"/>
<line x1="119.8" x2="119.8" y1="194.5" y2="149.3" stroke="#f5e0d2" stroke-width="1.1"/>
<line x1="119.8" x2="119.8" y1="194.5" y2="149.3" stroke="#a35c36" stroke-width="0.65"/>
<circle cx="119.8" cy="149.3" r="1.2" fill="#4a3020"/>
<line x1="125.5" x2="125.5" y1="194.5" y2="233" stroke="#f5e0d2" stroke-width="1.1"/>
<line x1="125.5" x2="125.5" y1="194.5" y2="233" stroke="#a35c36" stroke-width="0.65"/>
<circle cx="125.5" cy="233" r="1.2" fill="#4a3020"/>
<line x1="133.6" x2="133.6" y1="194.5" y2="237" stroke="#f5e0d2" stroke-width="1.1"/>
<line x1="133.6" x2="133.6" y1="194.5" y2="237" stroke="#a35c36" stroke-width="0.65"/>
<circle cx="133.6" cy="237" r="1.2" fill="#4a3020"/>
<line x1="143.5" x2="143.5" y1="194.5" y2="246.6" stroke="#f5e0d2" stroke-width="1.1"/>
<line x1="143.5" x2="143.5" y1="194.5" y2="246.6" stroke="#a35c36" stroke-width="0.65"/>
<circle cx="143.5" cy="246.6" r="1.2" fill="#4a3020"/>
<line x1="143.5" x2="143.5" y1="194.5" y2="184.7" stroke="#f5e0d2" stroke-width="1.1"/>
<line x1="143.5" x2="143.5" y1="194.5" y2="184.7" stroke="#a35c36" stroke-width="0.65"/>
<circle cx="143.5" cy="184.7" r="1.2" fill="#4a3020"/>
<line x1="154.3" x2="154.3" y1="194.5" y2="203.8" stroke="#f5e0d2" stroke-width="1.1"/>
<line x1="154.3" x2="154.3" y1="194.5" y2="203.8" stroke="#a35c36" stroke-width="0.65"/>
<circle cx="154.3" cy="203.8" r="1.2" fill="#4a3020"/>
<line x1="172.3" x2="172.3" y1="194.5" y2="211.7" stroke="#f5e0d2" stroke-width="1.1"/>
<line x1="172.3" x2="172.3" y1="194.5" y2="211.7" stroke="#a35c36" stroke-width="0.65"/>
<circle cx="172.3" cy="211.7" r="1.2" fill="#4a3020"/>
<line x1="179" x2="179" y1="194.5" y2="212.8" stroke="#f5e0d2" stroke-width="1.1"/>
<line x1="179" x2="179" y1="194.5" y2="212.8" stroke="#a35c36" stroke-width="0.65"/>
<circle cx="179" cy="212.8" r="1.2" fill="#4a3020"/>
<line x1="180.6" x2="180.6" y1="148.8" y2="246.5" stroke="#5050e8" stroke-width="0.9" stroke-dasharray="1.4 0.5"/>
<line x1="188.2" x2="188.2" y1="148.8" y2="246.5" stroke="#5050e8" stroke-width="0.9" stroke-dasharray="1.4 0.5"/>
<rect x="17.4" y="144.3" width="178.79999999999998" height="106.69999999999999" fill="none" stroke="#7c7c7c" stroke-width="0.95"/>
<line x1="15.799999999999999" x2="17.4" y1="247.90" y2="247.90" stroke="#555" stroke-width="0.45"/>
<text x="15.099999999999998" y="249.15" text-anchor="end" font-size="3.5" fill="#1a1a1a" dy="0.35">−0.6</text>
<line x1="15.799999999999999" x2="17.4" y1="230.10" y2="230.10" stroke="#555" stroke-width="0.45"/>
<text x="15.099999999999998" y="231.35" text-anchor="end" font-size="3.5" fill="#1a1a1a" dy="0.35">−0.4</text>
<line x1="15.799999999999999" x2="17.4" y1="212.30" y2="212.30" stroke="#555" stroke-width="0.45"/>
<text x="15.099999999999998" y="213.55" text-anchor="end" font-size="3.5" fill="#1a1a1a" dy="0.35">−0.2</text>
<line x1="15.799999999999999" x2="17.4" y1="194.50" y2="194.50" stroke="#555" stroke-width="0.45"/>
<text x="15.099999999999998" y="195.75" text-anchor="end" font-size="3.5" fill="#1a1a1a" dy="0.35">0.0</text>
<line x1="15.799999999999999" x2="17.4" y1="176.70" y2="176.70" stroke="#555" stroke-width="0.45"/>
<text x="15.099999999999998" y="177.95" text-anchor="end" font-size="3.5" fill="#1a1a1a" dy="0.35">0.2</text>
<line x1="15.799999999999999" x2="17.4" y1="158.90" y2="158.90" stroke="#555" stroke-width="0.45"/>
<text x="15.099999999999998" y="160.15" text-anchor="end" font-size="3.5" fill="#1a1a1a" dy="0.35">0.4</text>
<line x1="25.1" x2="25.1" y1="251" y2="252.6" stroke="#555" stroke-width="0.45"/>
<text class="xl" transform="translate(23.95,253.2) rotate(90)" font-size="3.6" font-weight="bold" fill="#2a2a2a">13:47</text>
<line x1="35.3" x2="35.3" y1="251" y2="252.6" stroke="#555" stroke-width="0.45"/>
<text class="xl" transform="translate(34.15,253.2) rotate(90)" font-size="3.6" font-weight="bold" fill="#2a2a2a">18:32</text>
<line x1="42" x2="42" y1="251" y2="252.6" stroke="#555" stroke-width="0.45"/>
<text class="xl" transform="translate(40.85,253.2) rotate(90)" font-size="3.6" font-weight="bold" fill="#2a2a2a">16:28</text>
<line x1="48.3" x2="48.3" y1="251" y2="252.6" stroke="#555" stroke-width="0.45"/>
<text class="xl" transform="translate(47.15,253.2) rotate(90)" font-size="3.6" font-weight="bold" fill="#2a2a2a">15:30</text>
<line x1="55.5" x2="55.5" y1="251" y2="252.6" stroke="#555" stroke-width="0.45"/>
<text class="xl" transform="translate(54.35,253.2) rotate(90)" font-size="3.6" font-weight="bold" fill="#2a2a2a">10:49</text>
<line x1="61.8" x2="61.8" y1="251" y2="252.6" stroke="#555" stroke-width="0.45"/>
<text class="xl" transform="translate(60.65,253.2) rotate(90)" font-size="3.6" font-weight="bold" fill="#2a2a2a">20:24</text>
<line x1="67.9" x2="67.9" y1="251" y2="252.6" stroke="#555" stroke-width="0.45"/>
<text class="xl" transform="translate(66.75,253.2) rotate(90)" font-size="3.6" font-weight="bold" fill="#2a2a2a">17:57</text>
<line x1="73.1" x2="73.1" y1="251" y2="252.6" stroke="#555" stroke-width="0.45"/>
<text class="xl" transform="translate(71.95,253.2) rotate(90)" font-size="3.6" font-weight="bold" fill="#2a2a2a">21:58</text>
<line x1="79.2" x2="79.2" y1="251" y2="252.6" stroke="#555" stroke-width="0.45"/>
<text class="xl" transform="translate(78.05,253.2) rotate(90)" font-size="3.6" font-weight="bold" fill="#2a2a2a">17:52</text>
<line x1="87.1" x2="87.1" y1="251" y2="252.6" stroke="#555" stroke-width="0.45"/>
<text class="xl" transform="translate(85.95,253.2) rotate(90)" font-size="3.6" font-weight="bold" fill="#2a2a2a">20:12</text>
<line x1="93.8" x2="93.8" y1="251" y2="252.6" stroke="#555" stroke-width="0.45"/>
<text class="xl" transform="translate(92.65,253.2) rotate(90)" font-size="3.6" font-weight="bold" fill="#2a2a2a">19:20</text>
<line x1="100.6" x2="100.6" y1="251" y2="252.6" stroke="#555" stroke-width="0.45"/>
<text class="xl" transform="translate(99.45,253.2) rotate(90)" font-size="3.6" font-weight="bold" fill="#2a2a2a">16:34</text>
<line x1="108.75" x2="108.75" y1="251" y2="252.6" stroke="#555" stroke-width="0.45"/>
<text class="xl" transform="translate(107.60,253.2) rotate(90)" font-size="3.6" font-weight="bold" fill="#2a2a2a">13:33</text>
<line x1="116.25" x2="116.25" y1="251" y2="252.6" stroke="#555" stroke-width="0.45"/>
<text class="xl" transform="translate(115.10,253.2) rotate(90)" font-size="3.6" font-weight="bold" fill="#2a2a2a">16:36</text>
<line x1="123.75" x2="123.75" y1="251" y2="252.6" stroke="#555" stroke-width="0.45"/>
<text class="xl" transform="translate(122.60,253.2) rotate(90)" font-size="3.6" font-weight="bold" fill="#2a2a2a">18:28</text>
<line x1="129.5" x2="129.5" y1="251" y2="252.6" stroke="#555" stroke-width="0.45"/>
<text class="xl" transform="translate(128.35,253.2) rotate(90)" font-size="3.6" font-weight="bold" fill="#2a2a2a">13:34</text>
<line x1="135" x2="135" y1="251" y2="252.6" stroke="#555" stroke-width="0.45"/>
<text class="xl" transform="translate(133.85,253.2) rotate(90)" font-size="3.6" font-weight="bold" fill="#2a2a2a">11:21</text>
<line x1="140.75" x2="140.75" y1="251" y2="252.6" stroke="#555" stroke-width="0.45"/>
<text class="xl" transform="translate(139.60,253.2) rotate(90)" font-size="3.6" font-weight="bold" fill="#2a2a2a">15:16</text>
<line x1="147.5" x2="147.5" y1="251" y2="252.6" stroke="#555" stroke-width="0.45"/>
<text class="xl" transform="translate(146.35,253.2) rotate(90)" font-size="3.6" font-weight="bold" fill="#2a2a2a">19:43</text>
<line x1="153.75" x2="153.75" y1="251" y2="252.6" stroke="#555" stroke-width="0.45"/>
<text class="xl" transform="translate(152.60,253.2) rotate(90)" font-size="3.6" font-weight="bold" fill="#2a2a2a">11:39</text>
<line x1="160" x2="160" y1="251" y2="252.6" stroke="#555" stroke-width="0.45"/>
<text class="xl" transform="translate(158.85,253.2) rotate(90)" font-size="3.6" font-weight="bold" fill="#2a2a2a">10:34</text>
<line x1="168.75" x2="168.75" y1="251" y2="252.6" stroke="#555" stroke-width="0.45"/>
<text class="xl" transform="translate(167.60,253.2) rotate(90)" font-size="3.6" font-weight="bold" fill="#2a2a2a">20:46</text>
<line x1="179.5" x2="179.5" y1="251" y2="252.6" stroke="#555" stroke-width="0.45"/>
<text class="xl" transform="translate(178.35,253.2) rotate(90)" font-size="3.6" font-weight="bold" fill="#2a2a2a">14:15:00</text>
<line x1="182.5" x2="182.5" y1="251" y2="252.6" stroke="#555" stroke-width="0.45"/>
<text class="xl" transform="translate(181.35,253.2) rotate(90)" font-size="3.6" font-weight="bold" fill="#2a2a2a">12:39:00</text>
<line x1="187.5" x2="187.5" y1="251" y2="252.6" stroke="#555" stroke-width="0.45"/>
<text class="xl" transform="translate(186.35,253.2) rotate(90)" font-size="3.6" font-weight="bold" fill="#2a2a2a">14:50:00</text>
<text x="107.39999999999999" y="143.0" text-anchor="middle" font-size="4.2" fill="#111">SKY_2021-10-8 15:42</text>
<text x="107" y="271.8" text-anchor="middle" font-size="3.6" fill="#1a1a1a">datetime</text>
<text transform="translate(5.8,197.65) rotate(-90)" text-anchor="middle" font-size="3.6" fill="#1a1a1a">blu_volume</text>
<rect x="150.6" y="145.9" width="45.400000000000006" height="11.3" rx="0.6" fill="#fff" fill-opacity="0.95" stroke="#e0e0e0" stroke-width="0.4"/>
<line x1="152.4" x2="159.9" y1="149" y2="149" stroke="#5f5aee" stroke-width="0.7" stroke-dasharray="1.3 0.6"/>
<line x1="152.4" x2="159.9" y1="154.2" y2="154.2" stroke="#dccf80" stroke-width="0.7" stroke-dasharray="1.3 0.6"/>
<text x="162.20000000000002" y="150.3" font-size="3.55" fill="#1a1a1a">2021-10-8 15:42</text>
<text x="162.20000000000002" y="155.5" font-size="3.55" fill="#1a1a1a">anomalous volumes</text></g><g><rect x="217" y="144.5" width="179.5" height="106.69999999999999" fill="#fff"/>
<rect x="225" y="218" width="163" height="4" fill="#effcfb"/>
<circle cx="375.2" cy="207" r="2.4" fill="#fde6f0"/>
<circle cx="355.8" cy="206" r="2.4" fill="#fde6f0"/>
<circle cx="322.3" cy="206" r="2.4" fill="#fde6f0"/>
<circle cx="244.5" cy="206.3" r="2.4" fill="#fde6f0"/>
<rect x="384.5" y="146" width="6.0" height="104" fill="#fef6f9"/>
<line x1="225.5" x2="389.5" y1="209" y2="209" stroke="#dfc85e" stroke-width="0.8" stroke-dasharray="1.0 0.4"/>
<line x1="225.5" x2="389.5" y1="226.5" y2="226.5" stroke="#dfc85e" stroke-width="0.8" stroke-dasharray="1.0 0.4"/>
<path d="M233.9 218.2V221.9M234.6 218.2V212.6M249.5 218.2V215.0M255.3 218.2V215.8M256.1 218.2V222.7M259.3 218.2V212.6M260.0 218.2V215.7M262.7 218.2V222.7M278.7 218.2V222.9M285.3 218.2V223.5M289.6 218.2V213.7M290.4 218.2V220.9M291.1 218.2V215.2M293.9 218.2V221.9M297.0 218.2V221.3M297.4 218.2V222.1M301.2 218.2V221.5M304.4 218.2V221.5M307.5 218.2V222.2M308.3 218.2V214.1M317.6 218.2V221.4M320.3 218.2V222.4M322.3 218.2V222.4M325.8 218.2V221.7M328.1 218.2V214.6M330.8 218.2V221.8M340.9 218.2V222.0M343.7 218.2V215.2M358.8 218.2V221.3M362.7 218.2V224.2M363.5 218.2V215.1M377.9 218.2V215.0M379.1 218.2V215.5M382.9 218.2V222.0M386.1 218.2V215.4M386.4 218.2V215.2" stroke="#33602a" stroke-width="0.7" fill="none"/>
<path d="M225.0 218.2 L225.4 217.7 L225.8 217.2 L226.2 217.8 L226.6 218.2 L226.9 219.0 L227.3 218.0 L227.7 217.8 L228.1 217.3 L228.5 220.0 L228.9 218.8 L229.3 216.8 L229.7 217.9 L230.1 218.6 L230.4 218.9 L230.8 218.3 L231.2 216.2 L231.6 219.1 L232.0 217.0 L232.4 219.0 L232.8 219.4 L233.2 218.3 L233.6 217.8 L233.9 220.7 L234.3 216.9 L234.6 215.8 L234.7 218.3 L235.1 217.2 L235.5 216.9 L235.9 219.0 L236.3 219.1 L236.7 219.6 L237.1 219.1 L237.4 217.3 L237.8 219.7 L238.2 217.9 L238.6 218.7 L239.0 217.2 L239.4 218.1 L239.8 218.6 L240.2 216.6 L240.6 218.5 L240.9 217.7 L241.3 217.1 L241.7 219.5 L242.1 217.5 L242.5 218.8 L242.9 217.5 L243.3 217.0 L243.7 219.6 L244.1 216.8 L244.5 218.9 L244.8 218.0 L245.2 216.6 L245.6 217.6 L246.0 219.3 L246.4 219.1 L246.8 216.2 L247.2 217.8 L247.6 218.7 L248.0 218.8 L248.3 219.0 L248.7 218.2 L249.1 218.9 L249.5 215.8 L249.9 218.0 L250.3 217.5 L250.7 215.9 L251.1 217.5 L251.5 220.2 L251.8 216.9 L252.2 218.3 L252.6 219.5 L253.0 216.6 L253.4 219.9 L253.8 219.3 L254.2 219.9 L254.6 219.8 L255.0 218.5 L255.3 215.8 L255.7 219.5 L256.1 220.7 L256.5 218.6 L256.9 216.9 L257.3 220.0 L257.7 219.4 L258.1 218.1 L258.5 218.1 L258.8 217.6 L259.2 219.7 L259.3 215.8 L259.6 217.1 L260.0 215.8 L260.4 217.4 L260.8 217.7 L261.2 219.5 L261.6 218.7 L262.0 218.1 L262.3 219.0 L262.7 220.7 L263.1 218.4 L263.5 218.3 L263.9 217.1 L264.3 217.5 L264.7 218.6 L265.1 217.5 L265.5 217.8 L265.8 217.9 L266.2 219.4 L266.6 218.3 L267.0 216.2 L267.4 217.3 L267.8 217.7 L268.2 219.2 L268.6 217.8 L269.0 218.7 L269.3 219.0 L269.7 217.1 L270.1 217.3 L270.5 218.2 L270.9 218.5 L271.3 219.5 L271.7 217.7 L272.1 219.1 L272.5 219.4 L272.8 219.4 L273.2 217.2 L273.6 218.9 L274.0 216.9 L274.4 219.7 L274.8 217.1 L275.2 216.8 L275.6 217.9 L276.0 217.9 L276.4 217.2 L276.7 216.1 L277.1 219.2 L277.5 217.0 L277.9 217.6 L278.3 218.5 L278.7 220.7 L279.1 218.0 L279.5 217.6 L279.9 218.4 L280.2 220.6 L280.6 219.4 L281.0 217.1 L281.4 217.2 L281.8 219.8 L282.2 219.7 L282.6 219.5 L283.0 217.4 L283.4 218.5 L283.7 217.5 L284.1 215.9 L284.5 218.3 L284.9 217.9 L285.3 220.7 L285.7 219.6 L286.1 217.9 L286.5 218.5 L286.9 218.1 L287.2 216.7 L287.6 218.6 L288.0 216.7 L288.4 219.2 L288.8 219.7 L289.2 218.0 L289.6 215.8 L290.0 218.0 L290.4 220.7 L290.7 219.1 L291.1 215.8 L291.5 217.8 L291.9 217.1 L292.3 219.3 L292.7 218.0 L293.1 217.7 L293.5 218.4 L293.9 220.7 L294.2 217.0 L294.6 216.5 L295.0 217.1 L295.4 216.3 L295.8 219.2 L296.2 220.2 L296.6 218.5 L297.0 220.7 L297.4 220.7 L297.7 217.2 L298.1 218.4 L298.5 218.9 L298.9 218.9 L299.3 220.6 L299.7 217.1 L300.1 220.0 L300.5 220.0 L300.9 219.9 L301.2 220.7 L301.6 219.1 L302.0 218.7 L302.4 219.1 L302.8 219.4 L303.2 216.5 L303.6 217.1 L304.0 219.3 L304.4 220.7 L304.7 218.8 L305.1 218.5 L305.5 219.5 L305.9 218.2 L306.3 217.5 L306.7 216.8 L307.1 219.2 L307.5 220.7 L307.9 219.4 L308.3 215.8 L308.6 218.0 L309.0 218.2 L309.4 216.4 L309.8 217.3 L310.2 219.5 L310.6 218.6 L311.0 218.2 L311.4 219.1 L311.8 218.6 L312.1 218.6 L312.5 217.6 L312.9 217.3 L313.3 218.4 L313.7 217.2 L314.1 218.7 L314.5 218.3 L314.9 217.8 L315.3 219.0 L315.6 219.7 L316.0 216.5 L316.4 219.0 L316.8 217.5 L317.2 218.6 L317.6 220.7 L318.0 219.8 L318.4 218.0 L318.8 218.7 L319.1 219.7 L319.5 218.9 L319.9 217.9 L320.3 220.7 L320.7 218.4 L321.1 216.8 L321.5 218.0 L321.9 220.4 L322.3 220.7 L322.6 218.6 L323.0 216.0 L323.4 217.4 L323.8 218.0 L324.2 218.7 L324.6 219.6 L325.0 218.1 L325.4 218.3 L325.8 220.7 L326.1 218.6 L326.5 217.2 L326.9 218.7 L327.3 219.2 L327.7 217.7 L328.1 215.8 L328.5 217.7 L328.9 218.2 L329.3 218.8 L329.6 217.0 L330.0 217.6 L330.4 220.1 L330.8 220.7 L331.2 218.9 L331.6 216.7 L332.0 219.1 L332.4 218.6 L332.8 218.5 L333.1 218.4 L333.5 218.6 L333.9 218.4 L334.3 218.1 L334.7 218.1 L335.1 216.8 L335.5 218.9 L335.9 218.7 L336.3 219.5 L336.6 217.0 L337.0 219.0 L337.4 219.5 L337.8 218.0 L338.2 218.3 L338.6 217.5 L339.0 219.3 L339.4 218.8 L339.8 218.8 L340.2 216.9 L340.5 216.6 L340.9 220.7 L341.3 218.9 L341.7 217.1 L342.1 217.8 L342.5 219.1 L342.9 218.1 L343.3 217.6 L343.7 215.8 L344.0 218.7 L344.4 218.1 L344.8 218.7 L345.2 216.2 L345.6 217.5 L346.0 215.9 L346.4 218.2 L346.8 218.2 L347.2 218.7 L347.5 218.0 L347.9 219.1 L348.3 219.2 L348.7 217.2 L349.1 217.8 L349.5 218.2 L349.9 219.2 L350.3 218.7 L350.7 218.5 L351.0 217.6 L351.4 218.4 L351.8 219.1 L352.2 217.8 L352.6 219.6 L353.0 218.5 L353.4 217.6 L353.8 217.1 L354.2 219.5 L354.5 218.9 L354.9 219.0 L355.3 219.9 L355.7 218.7 L356.1 217.4 L356.5 218.6 L356.9 217.6 L357.3 219.4 L357.7 217.1 L358.0 218.0 L358.4 219.2 L358.8 220.7 L359.2 216.2 L359.6 217.1 L360.0 219.4 L360.4 219.4 L360.8 217.1 L361.2 217.1 L361.5 218.6 L361.9 217.6 L362.3 218.1 L362.7 220.7 L363.1 216.8 L363.5 215.8 L363.9 216.9 L364.3 218.0 L364.7 217.3 L365.0 217.7 L365.4 217.9 L365.8 218.2 L366.2 218.7 L366.6 219.2 L367.0 217.9 L367.4 219.0 L367.8 217.7 L368.2 218.5 L368.5 220.2 L368.9 218.7 L369.3 218.3 L369.7 218.8 L370.1 217.7 L370.5 218.8 L370.9 218.0 L371.3 217.9 L371.7 220.2 L372.1 218.1 L372.4 219.0 L372.8 219.5 L373.2 217.7 L373.6 216.3 L374.0 219.0 L374.4 216.9 L374.8 219.5 L375.2 217.5 L375.6 217.1 L375.9 217.0 L376.3 218.4 L376.7 219.3 L377.1 218.2 L377.5 217.1 L377.9 215.8 L378.3 218.8 L378.7 218.7 L379.1 215.8 L379.4 217.9 L379.8 216.3 L380.2 217.7 L380.6 217.4 L381.0 220.2 L381.4 217.9 L381.8 218.1 L382.2 218.8 L382.6 218.8 L382.9 220.7 L383.3 218.7 L383.7 217.0 L384.1 218.6 L384.5 218.7 L384.9 217.9 L385.3 219.2 L385.7 219.7 L386.1 215.8 L386.4 215.8 L386.8 218.3 L387.2 218.6 L387.6 216.5 L388.0 218.9" stroke="#279414" stroke-width="1.5" fill="none" stroke-linejoin="round"/>
<g fill="#2c7412"><circle cx="225.0" cy="218.2" r="0.85"/><circle cx="225.4" cy="217.7" r="0.85"/><circle cx="225.8" cy="217.2" r="0.85"/><circle cx="226.2" cy="217.8" r="0.85"/><circle cx="226.6" cy="218.2" r="0.85"/><circle cx="226.9" cy="219.0" r="0.85"/><circle cx="227.3" cy="218.0" r="0.85"/><circle cx="227.7" cy="217.8" r="0.85"/><circle cx="228.1" cy="217.3" r="0.85"/><circle cx="228.5" cy="220.0" r="0.85"/><circle cx="228.9" cy="218.8" r="0.85"/><circle cx="229.3" cy="216.8" r="0.85"/><circle cx="229.7" cy="217.9" r="0.85"/><circle cx="230.1" cy="218.6" r="0.85"/><circle cx="230.4" cy="218.9" r="0.85"/><circle cx="230.8" cy="218.3" r="0.85"/><circle cx="231.2" cy="216.2" r="0.85"/><circle cx="231.6" cy="219.1" r="0.85"/><circle cx="232.0" cy="217.0" r="0.85"/><circle cx="232.4" cy="219.0" r="0.85"/><circle cx="232.8" cy="219.4" r="0.85"/><circle cx="233.2" cy="218.3" r="0.85"/><circle cx="233.6" cy="217.8" r="0.85"/><circle cx="234.3" cy="216.9" r="0.85"/><circle cx="234.7" cy="218.3" r="0.85"/><circle cx="235.1" cy="217.2" r="0.85"/><circle cx="235.5" cy="216.9" r="0.85"/><circle cx="235.9" cy="219.0" r="0.85"/><circle cx="236.3" cy="219.1" r="0.85"/><circle cx="236.7" cy="219.6" r="0.85"/><circle cx="237.1" cy="219.1" r="0.85"/><circle cx="237.4" cy="217.3" r="0.85"/><circle cx="237.8" cy="219.7" r="0.85"/><circle cx="238.2" cy="217.9" r="0.85"/><circle cx="238.6" cy="218.7" r="0.85"/><circle cx="239.0" cy="217.2" r="0.85"/><circle cx="239.4" cy="218.1" r="0.85"/><circle cx="239.8" cy="218.6" r="0.85"/><circle cx="240.2" cy="216.6" r="0.85"/><circle cx="240.6" cy="218.5" r="0.85"/><circle cx="240.9" cy="217.7" r="0.85"/><circle cx="241.3" cy="217.1" r="0.85"/><circle cx="241.7" cy="219.5" r="0.85"/><circle cx="242.1" cy="217.5" r="0.85"/><circle cx="242.5" cy="218.8" r="0.85"/><circle cx="242.9" cy="217.5" r="0.85"/><circle cx="243.3" cy="217.0" r="0.85"/><circle cx="243.7" cy="219.6" r="0.85"/><circle cx="244.1" cy="216.8" r="0.85"/><circle cx="244.5" cy="218.9" r="0.85"/><circle cx="244.8" cy="218.0" r="0.85"/><circle cx="245.2" cy="216.6" r="0.85"/><circle cx="245.6" cy="217.6" r="0.85"/><circle cx="246.0" cy="219.3" r="0.85"/><circle cx="246.4" cy="219.1" r="0.85"/><circle cx="246.8" cy="216.2" r="0.85"/><circle cx="247.2" cy="217.8" r="0.85"/><circle cx="247.6" cy="218.7" r="0.85"/><circle cx="248.0" cy="218.8" r="0.85"/><circle cx="248.3" cy="219.0" r="0.85"/><circle cx="248.7" cy="218.2" r="0.85"/><circle cx="249.1" cy="218.9" r="0.85"/><circle cx="249.9" cy="218.0" r="0.85"/><circle cx="250.3" cy="217.5" r="0.85"/><circle cx="250.7" cy="215.9" r="0.85"/><circle cx="251.1" cy="217.5" r="0.85"/><circle cx="251.5" cy="220.2" r="0.85"/><circle cx="251.8" cy="216.9" r="0.85"/><circle cx="252.2" cy="218.3" r="0.85"/><circle cx="252.6" cy="219.5" r="0.85"/><circle cx="253.0" cy="216.6" r="0.85"/><circle cx="253.4" cy="219.9" r="0.85"/><circle cx="253.8" cy="219.3" r="0.85"/><circle cx="254.2" cy="219.9" r="0.85"/><circle cx="254.6" cy="219.8" r="0.85"/><circle cx="255.0" cy="218.5" r="0.85"/><circle cx="255.7" cy="219.5" r="0.85"/><circle cx="256.5" cy="218.6" r="0.85"/><circle cx="256.9" cy="216.9" r="0.85"/><circle cx="257.3" cy="220.0" r="0.85"/><circle cx="257.7" cy="219.4" r="0.85"/><circle cx="258.1" cy="218.1" r="0.85"/><circle cx="258.5" cy="218.1" r="0.85"/><circle cx="258.8" cy="217.6" r="0.85"/><circle cx="259.2" cy="219.7" r="0.85"/><circle cx="259.6" cy="217.1" r="0.85"/><circle cx="260.4" cy="217.4" r="0.85"/><circle cx="260.8" cy="217.7" r="0.85"/><circle cx="261.2" cy="219.5" r="0.85"/><circle cx="261.6" cy="218.7" r="0.85"/><circle cx="262.0" cy="218.1" r="0.85"/><circle cx="262.3" cy="219.0" r="0.85"/><circle cx="263.1" cy="218.4" r="0.85"/><circle cx="263.5" cy="218.3" r="0.85"/><circle cx="263.9" cy="217.1" r="0.85"/><circle cx="264.3" cy="217.5" r="0.85"/><circle cx="264.7" cy="218.6" r="0.85"/><circle cx="265.1" cy="217.5" r="0.85"/><circle cx="265.5" cy="217.8" r="0.85"/><circle cx="265.8" cy="217.9" r="0.85"/><circle cx="266.2" cy="219.4" r="0.85"/><circle cx="266.6" cy="218.3" r="0.85"/><circle cx="267.0" cy="216.2" r="0.85"/><circle cx="267.4" cy="217.3" r="0.85"/><circle cx="267.8" cy="217.7" r="0.85"/><circle cx="268.2" cy="219.2" r="0.85"/><circle cx="268.6" cy="217.8" r="0.85"/><circle cx="269.0" cy="218.7" r="0.85"/><circle cx="269.3" cy="219.0" r="0.85"/><circle cx="269.7" cy="217.1" r="0.85"/><circle cx="270.1" cy="217.3" r="0.85"/><circle cx="270.5" cy="218.2" r="0.85"/><circle cx="270.9" cy="218.5" r="0.85"/><circle cx="271.3" cy="219.5" r="0.85"/><circle cx="271.7" cy="217.7" r="0.85"/><circle cx="272.1" cy="219.1" r="0.85"/><circle cx="272.5" cy="219.4" r="0.85"/><circle cx="272.8" cy="219.4" r="0.85"/><circle cx="273.2" cy="217.2" r="0.85"/><circle cx="273.6" cy="218.9" r="0.85"/><circle cx="274.0" cy="216.9" r="0.85"/><circle cx="274.4" cy="219.7" r="0.85"/><circle cx="274.8" cy="217.1" r="0.85"/><circle cx="275.2" cy="216.8" r="0.85"/><circle cx="275.6" cy="217.9" r="0.85"/><circle cx="276.0" cy="217.9" r="0.85"/><circle cx="276.4" cy="217.2" r="0.85"/><circle cx="276.7" cy="216.1" r="0.85"/><circle cx="277.1" cy="219.2" r="0.85"/><circle cx="277.5" cy="217.0" r="0.85"/><circle cx="277.9" cy="217.6" r="0.85"/><circle cx="278.3" cy="218.5" r="0.85"/><circle cx="279.1" cy="218.0" r="0.85"/><circle cx="279.5" cy="217.6" r="0.85"/><circle cx="279.9" cy="218.4" r="0.85"/><circle cx="280.2" cy="220.6" r="0.85"/><circle cx="280.6" cy="219.4" r="0.85"/><circle cx="281.0" cy="217.1" r="0.85"/><circle cx="281.4" cy="217.2" r="0.85"/><circle cx="281.8" cy="219.8" r="0.85"/><circle cx="282.2" cy="219.7" r="0.85"/><circle cx="282.6" cy="219.5" r="0.85"/><circle cx="283.0" cy="217.4" r="0.85"/><circle cx="283.4" cy="218.5" r="0.85"/><circle cx="283.7" cy="217.5" r="0.85"/><circle cx="284.1" cy="215.9" r="0.85"/><circle cx="284.5" cy="218.3" r="0.85"/><circle cx="284.9" cy="217.9" r="0.85"/><circle cx="285.7" cy="219.6" r="0.85"/><circle cx="286.1" cy="217.9" r="0.85"/><circle cx="286.5" cy="218.5" r="0.85"/><circle cx="286.9" cy="218.1" r="0.85"/><circle cx="287.2" cy="216.7" r="0.85"/><circle cx="287.6" cy="218.6" r="0.85"/><circle cx="288.0" cy="216.7" r="0.85"/><circle cx="288.4" cy="219.2" r="0.85"/><circle cx="288.8" cy="219.7" r="0.85"/><circle cx="289.2" cy="218.0" r="0.85"/><circle cx="290.0" cy="218.0" r="0.85"/><circle cx="290.7" cy="219.1" r="0.85"/><circle cx="291.5" cy="217.8" r="0.85"/><circle cx="291.9" cy="217.1" r="0.85"/><circle cx="292.3" cy="219.3" r="0.85"/><circle cx="292.7" cy="218.0" r="0.85"/><circle cx="293.1" cy="217.7" r="0.85"/><circle cx="293.5" cy="218.4" r="0.85"/><circle cx="294.2" cy="217.0" r="0.85"/><circle cx="294.6" cy="216.5" r="0.85"/><circle cx="295.0" cy="217.1" r="0.85"/><circle cx="295.4" cy="216.3" r="0.85"/><circle cx="295.8" cy="219.2" r="0.85"/><circle cx="296.2" cy="220.2" r="0.85"/><circle cx="296.6" cy="218.5" r="0.85"/><circle cx="297.7" cy="217.2" r="0.85"/><circle cx="298.1" cy="218.4" r="0.85"/><circle cx="298.5" cy="218.9" r="0.85"/><circle cx="298.9" cy="218.9" r="0.85"/><circle cx="299.3" cy="220.6" r="0.85"/><circle cx="299.7" cy="217.1" r="0.85"/><circle cx="300.1" cy="220.0" r="0.85"/><circle cx="300.5" cy="220.0" r="0.85"/><circle cx="300.9" cy="219.9" r="0.85"/><circle cx="301.6" cy="219.1" r="0.85"/><circle cx="302.0" cy="218.7" r="0.85"/><circle cx="302.4" cy="219.1" r="0.85"/><circle cx="302.8" cy="219.4" r="0.85"/><circle cx="303.2" cy="216.5" r="0.85"/><circle cx="303.6" cy="217.1" r="0.85"/><circle cx="304.0" cy="219.3" r="0.85"/><circle cx="304.7" cy="218.8" r="0.85"/><circle cx="305.1" cy="218.5" r="0.85"/><circle cx="305.5" cy="219.5" r="0.85"/><circle cx="305.9" cy="218.2" r="0.85"/><circle cx="306.3" cy="217.5" r="0.85"/><circle cx="306.7" cy="216.8" r="0.85"/><circle cx="307.1" cy="219.2" r="0.85"/><circle cx="307.9" cy="219.4" r="0.85"/><circle cx="308.6" cy="218.0" r="0.85"/><circle cx="309.0" cy="218.2" r="0.85"/><circle cx="309.4" cy="216.4" r="0.85"/><circle cx="309.8" cy="217.3" r="0.85"/><circle cx="310.2" cy="219.5" r="0.85"/><circle cx="310.6" cy="218.6" r="0.85"/><circle cx="311.0" cy="218.2" r="0.85"/><circle cx="311.4" cy="219.1" r="0.85"/><circle cx="311.8" cy="218.6" r="0.85"/><circle cx="312.1" cy="218.6" r="0.85"/><circle cx="312.5" cy="217.6" r="0.85"/><circle cx="312.9" cy="217.3" r="0.85"/><circle cx="313.3" cy="218.4" r="0.85"/><circle cx="313.7" cy="217.2" r="0.85"/><circle cx="314.1" cy="218.7" r="0.85"/><circle cx="314.5" cy="218.3" r="0.85"/><circle cx="314.9" cy="217.8" r="0.85"/><circle cx="315.3" cy="219.0" r="0.85"/><circle cx="315.6" cy="219.7" r="0.85"/><circle cx="316.0" cy="216.5" r="0.85"/><circle cx="316.4" cy="219.0" r="0.85"/><circle cx="316.8" cy="217.5" r="0.85"/><circle cx="317.2" cy="218.6" r="0.85"/><circle cx="318.0" cy="219.8" r="0.85"/><circle cx="318.4" cy="218.0" r="0.85"/><circle cx="318.8" cy="218.7" r="0.85"/><circle cx="319.1" cy="219.7" r="0.85"/><circle cx="319.5" cy="218.9" r="0.85"/><circle cx="319.9" cy="217.9" r="0.85"/><circle cx="320.7" cy="218.4" r="0.85"/><circle cx="321.1" cy="216.8" r="0.85"/><circle cx="321.5" cy="218.0" r="0.85"/><circle cx="321.9" cy="220.4" r="0.85"/><circle cx="322.6" cy="218.6" r="0.85"/><circle cx="323.0" cy="216.0" r="0.85"/><circle cx="323.4" cy="217.4" r="0.85"/><circle cx="323.8" cy="218.0" r="0.85"/><circle cx="324.2" cy="218.7" r="0.85"/><circle cx="324.6" cy="219.6" r="0.85"/><circle cx="325.0" cy="218.1" r="0.85"/><circle cx="325.4" cy="218.3" r="0.85"/><circle cx="326.1" cy="218.6" r="0.85"/><circle cx="326.5" cy="217.2" r="0.85"/><circle cx="326.9" cy="218.7" r="0.85"/><circle cx="327.3" cy="219.2" r="0.85"/><circle cx="327.7" cy="217.7" r="0.85"/><circle cx="328.5" cy="217.7" r="0.85"/><circle cx="328.9" cy="218.2" r="0.85"/><circle cx="329.3" cy="218.8" r="0.85"/><circle cx="329.6" cy="217.0" r="0.85"/><circle cx="330.0" cy="217.6" r="0.85"/><circle cx="330.4" cy="220.1" r="0.85"/><circle cx="331.2" cy="218.9" r="0.85"/><circle cx="331.6" cy="216.7" r="0.85"/><circle cx="332.0" cy="219.1" r="0.85"/><circle cx="332.4" cy="218.6" r="0.85"/><circle cx="332.8" cy="218.5" r="0.85"/><circle cx="333.1" cy="218.4" r="0.85"/><circle cx="333.5" cy="218.6" r="0.85"/><circle cx="333.9" cy="218.4" r="0.85"/><circle cx="334.3" cy="218.1" r="0.85"/><circle cx="334.7" cy="218.1" r="0.85"/><circle cx="335.1" cy="216.8" r="0.85"/><circle cx="335.5" cy="218.9" r="0.85"/><circle cx="335.9" cy="218.7" r="0.85"/><circle cx="336.3" cy="219.5" r="0.85"/><circle cx="336.6" cy="217.0" r="0.85"/><circle cx="337.0" cy="219.0" r="0.85"/><circle cx="337.4" cy="219.5" r="0.85"/><circle cx="337.8" cy="218.0" r="0.85"/><circle cx="338.2" cy="218.3" r="0.85"/><circle cx="338.6" cy="217.5" r="0.85"/><circle cx="339.0" cy="219.3" r="0.85"/><circle cx="339.4" cy="218.8" r="0.85"/><circle cx="339.8" cy="218.8" r="0.85"/><circle cx="340.2" cy="216.9" r="0.85"/><circle cx="340.5" cy="216.6" r="0.85"/><circle cx="341.3" cy="218.9" r="0.85"/><circle cx="341.7" cy="217.1" r="0.85"/><circle cx="342.1" cy="217.8" r="0.85"/><circle cx="342.5" cy="219.1" r="0.85"/><circle cx="342.9" cy="218.1" r="0.85"/><circle cx="343.3" cy="217.6" r="0.85"/><circle cx="344.0" cy="218.7" r="0.85"/><circle cx="344.4" cy="218.1" r="0.85"/><circle cx="344.8" cy="218.7" r="0.85"/><circle cx="345.2" cy="216.2" r="0.85"/><circle cx="345.6" cy="217.5" r="0.85"/><circle cx="346.0" cy="215.9" r="0.85"/><circle cx="346.4" cy="218.2" r="0.85"/><circle cx="346.8" cy="218.2" r="0.85"/><circle cx="347.2" cy="218.7" r="0.85"/><circle cx="347.5" cy="218.0" r="0.85"/><circle cx="347.9" cy="219.1" r="0.85"/><circle cx="348.3" cy="219.2" r="0.85"/><circle cx="348.7" cy="217.2" r="0.85"/><circle cx="349.1" cy="217.8" r="0.85"/><circle cx="349.5" cy="218.2" r="0.85"/><circle cx="349.9" cy="219.2" r="0.85"/><circle cx="350.3" cy="218.7" r="0.85"/><circle cx="350.7" cy="218.5" r="0.85"/><circle cx="351.0" cy="217.6" r="0.85"/><circle cx="351.4" cy="218.4" r="0.85"/><circle cx="351.8" cy="219.1" r="0.85"/><circle cx="352.2" cy="217.8" r="0.85"/><circle cx="352.6" cy="219.6" r="0.85"/><circle cx="353.0" cy="218.5" r="0.85"/><circle cx="353.4" cy="217.6" r="0.85"/><circle cx="353.8" cy="217.1" r="0.85"/><circle cx="354.2" cy="219.5" r="0.85"/><circle cx="354.5" cy="218.9" r="0.85"/><circle cx="354.9" cy="219.0" r="0.85"/><circle cx="355.3" cy="219.9" r="0.85"/><circle cx="355.7" cy="218.7" r="0.85"/><circle cx="356.1" cy="217.4" r="0.85"/><circle cx="356.5" cy="218.6" r="0.85"/><circle cx="356.9" cy="217.6" r="0.85"/><circle cx="357.3" cy="219.4" r="0.85"/><circle cx="357.7" cy="217.1" r="0.85"/><circle cx="358.0" cy="218.0" r="0.85"/><circle cx="358.4" cy="219.2" r="0.85"/><circle cx="359.2" cy="216.2" r="0.85"/><circle cx="359.6" cy="217.1" r="0.85"/><circle cx="360.0" cy="219.4" r="0.85"/><circle cx="360.4" cy="219.4" r="0.85"/><circle cx="360.8" cy="217.1" r="0.85"/><circle cx="361.2" cy="217.1" r="0.85"/><circle cx="361.5" cy="218.6" r="0.85"/><circle cx="361.9" cy="217.6" r="0.85"/><circle cx="362.3" cy="218.1" r="0.85"/><circle cx="363.1" cy="216.8" r="0.85"/><circle cx="363.9" cy="216.9" r="0.85"/><circle cx="364.3" cy="218.0" r="0.85"/><circle cx="364.7" cy="217.3" r="0.85"/><circle cx="365.0" cy="217.7" r="0.85"/><circle cx="365.4" cy="217.9" r="0.85"/><circle cx="365.8" cy="218.2" r="0.85"/><circle cx="366.2" cy="218.7" r="0.85"/><circle cx="366.6" cy="219.2" r="0.85"/><circle cx="367.0" cy="217.9" r="0.85"/><circle cx="367.4" cy="219.0" r="0.85"/><circle cx="367.8" cy="217.7" r="0.85"/><circle cx="368.2" cy="218.5" r="0.85"/><circle cx="368.5" cy="220.2" r="0.85"/><circle cx="368.9" cy="218.7" r="0.85"/><circle cx="369.3" cy="218.3" r="0.85"/><circle cx="369.7" cy="218.8" r="0.85"/><circle cx="370.1" cy="217.7" r="0.85"/><circle cx="370.5" cy="218.8" r="0.85"/><circle cx="370.9" cy="218.0" r="0.85"/><circle cx="371.3" cy="217.9" r="0.85"/><circle cx="371.7" cy="220.2" r="0.85"/><circle cx="372.1" cy="218.1" r="0.85"/><circle cx="372.4" cy="219.0" r="0.85"/><circle cx="372.8" cy="219.5" r="0.85"/><circle cx="373.2" cy="217.7" r="0.85"/><circle cx="373.6" cy="216.3" r="0.85"/><circle cx="374.0" cy="219.0" r="0.85"/><circle cx="374.4" cy="216.9" r="0.85"/><circle cx="374.8" cy="219.5" r="0.85"/><circle cx="375.2" cy="217.5" r="0.85"/><circle cx="375.6" cy="217.1" r="0.85"/><circle cx="375.9" cy="217.0" r="0.85"/><circle cx="376.3" cy="218.4" r="0.85"/><circle cx="376.7" cy="219.3" r="0.85"/><circle cx="377.1" cy="218.2" r="0.85"/><circle cx="377.5" cy="217.1" r="0.85"/><circle cx="378.3" cy="218.8" r="0.85"/><circle cx="378.7" cy="218.7" r="0.85"/><circle cx="379.4" cy="217.9" r="0.85"/><circle cx="379.8" cy="216.3" r="0.85"/><circle cx="380.2" cy="217.7" r="0.85"/><circle cx="380.6" cy="217.4" r="0.85"/><circle cx="381.0" cy="220.2" r="0.85"/><circle cx="381.4" cy="217.9" r="0.85"/><circle cx="381.8" cy="218.1" r="0.85"/><circle cx="382.2" cy="218.8" r="0.85"/><circle cx="382.6" cy="218.8" r="0.85"/><circle cx="383.3" cy="218.7" r="0.85"/><circle cx="383.7" cy="217.0" r="0.85"/><circle cx="384.1" cy="218.6" r="0.85"/><circle cx="384.5" cy="218.7" r="0.85"/><circle cx="384.9" cy="217.9" r="0.85"/><circle cx="385.3" cy="219.2" r="0.85"/><circle cx="385.7" cy="219.7" r="0.85"/><circle cx="386.8" cy="218.3" r="0.85"/><circle cx="387.2" cy="218.6" r="0.85"/><circle cx="387.6" cy="216.5" r="0.85"/><circle cx="388.0" cy="218.9" r="0.85"/></g>
<g fill="#2b5016"><circle cx="233.9" cy="221.9" r="1.05"/><circle cx="234.6" cy="212.6" r="1.05"/><circle cx="249.5" cy="215.0" r="1.05"/><circle cx="255.3" cy="215.8" r="1.05"/><circle cx="256.1" cy="222.7" r="1.05"/><circle cx="259.3" cy="212.6" r="1.05"/><circle cx="260.0" cy="215.7" r="1.05"/><circle cx="262.7" cy="222.7" r="1.05"/><circle cx="278.7" cy="222.9" r="1.05"/><circle cx="285.3" cy="223.5" r="1.05"/><circle cx="289.6" cy="213.7" r="1.05"/><circle cx="290.4" cy="220.9" r="1.05"/><circle cx="291.1" cy="215.2" r="1.05"/><circle cx="293.9" cy="221.9" r="1.05"/><circle cx="297.0" cy="221.3" r="1.05"/><circle cx="297.4" cy="222.1" r="1.05"/><circle cx="301.2" cy="221.5" r="1.05"/><circle cx="304.4" cy="221.5" r="1.05"/><circle cx="307.5" cy="222.2" r="1.05"/><circle cx="308.3" cy="214.1" r="1.05"/><circle cx="317.6" cy="221.4" r="1.05"/><circle cx="320.3" cy="222.4" r="1.05"/><circle cx="322.3" cy="222.4" r="1.05"/><circle cx="325.8" cy="221.7" r="1.05"/><circle cx="328.1" cy="214.6" r="1.05"/><circle cx="330.8" cy="221.8" r="1.05"/><circle cx="340.9" cy="222.0" r="1.05"/><circle cx="343.7" cy="215.2" r="1.05"/><circle cx="358.8" cy="221.3" r="1.05"/><circle cx="362.7" cy="224.2" r="1.05"/><circle cx="363.5" cy="215.1" r="1.05"/><circle cx="377.9" cy="215.0" r="1.05"/><circle cx="379.1" cy="215.5" r="1.05"/><circle cx="382.9" cy="222.0" r="1.05"/><circle cx="386.1" cy="215.4" r="1.05"/><circle cx="386.4" cy="215.2" r="1.05"/></g>
<rect x="304.2" y="216" width="7.400000000000034" height="33" fill="#fbe0ea"/>
<rect x="304.5" y="215.5" width="6.800000000000011" height="6.5" fill="#7a6a2a"/>
<line x1="305.5" x2="305.5" y1="218.25" y2="246" stroke="#fbdde4" stroke-width="1.1"/>
<line x1="305.5" x2="305.5" y1="218.25" y2="246" stroke="#d85040" stroke-width="0.65"/>
<circle cx="305.5" cy="246" r="1.2" fill="#b83020"/>
<line x1="306.8" x2="306.8" y1="218.25" y2="225.5" stroke="#fbdde4" stroke-width="1.1"/>
<line x1="306.8" x2="306.8" y1="218.25" y2="225.5" stroke="#d85040" stroke-width="0.65"/>
<circle cx="306.8" cy="225.5" r="1.2" fill="#b83020"/>
<line x1="307.6" x2="307.6" y1="218.25" y2="238.7" stroke="#fbdde4" stroke-width="1.1"/>
<line x1="307.6" x2="307.6" y1="218.25" y2="238.7" stroke="#d85040" stroke-width="0.65"/>
<circle cx="307.6" cy="238.7" r="1.2" fill="#b83020"/>
<line x1="308.5" x2="308.5" y1="218.25" y2="229.7" stroke="#fbdde4" stroke-width="1.1"/>
<line x1="308.5" x2="308.5" y1="218.25" y2="229.7" stroke="#d85040" stroke-width="0.65"/>
<circle cx="308.5" cy="229.7" r="1.2" fill="#b83020"/>
<line x1="309.5" x2="309.5" y1="218.25" y2="242.9" stroke="#fbdde4" stroke-width="1.1"/>
<line x1="309.5" x2="309.5" y1="218.25" y2="242.9" stroke="#d85040" stroke-width="0.65"/>
<circle cx="309.5" cy="242.9" r="1.2" fill="#b83020"/>
<line x1="310.5" x2="310.5" y1="218.25" y2="233" stroke="#fbdde4" stroke-width="1.1"/>
<line x1="310.5" x2="310.5" y1="218.25" y2="233" stroke="#d85040" stroke-width="0.65"/>
<circle cx="310.5" cy="233" r="1.2" fill="#b83020"/>
<line x1="244.5" x2="244.5" y1="218.25" y2="206.3" stroke="#7a5a3a" stroke-width="0.6"/>
<circle cx="244.5" cy="206.3" r="1.1" fill="#4a3020"/>
<line x1="322.3" x2="322.3" y1="218.25" y2="206" stroke="#7a5a3a" stroke-width="0.6"/>
<circle cx="322.3" cy="206" r="1.1" fill="#4a3020"/>
<line x1="355.8" x2="355.8" y1="218.25" y2="206" stroke="#7a5a3a" stroke-width="0.6"/>
<circle cx="355.8" cy="206" r="1.1" fill="#4a3020"/>
<line x1="375.2" x2="375.2" y1="218.25" y2="207" stroke="#7a5a3a" stroke-width="0.6"/>
<circle cx="375.2" cy="207" r="1.1" fill="#4a3020"/>
<circle cx="387.5" cy="149.5" r="1.0" fill="#5a3020"/>
<circle cx="387.5" cy="235" r="1.0" fill="#5a3020"/>
<circle cx="371.1" cy="223.6" r="1.0" fill="#2a3a50"/>
<line x1="371.1" x2="371.1" y1="149.0" y2="246.7" stroke="#4646e0" stroke-width="0.8" stroke-dasharray="1.4 0.5"/>
<line x1="387.5" x2="387.5" y1="149.5" y2="235" stroke="#6e5fa6" stroke-width="1.0"/>
<rect x="217" y="144.5" width="179.5" height="106.69999999999999" fill="none" stroke="#7c7c7c" stroke-width="0.95"/>
<line x1="215.4" x2="217" y1="243.25" y2="243.25" stroke="#555" stroke-width="0.45"/>
<text x="214.7" y="244.50" text-anchor="end" font-size="3.5" fill="#1a1a1a" dy="0.35">−1.0</text>
<line x1="215.4" x2="217" y1="230.75" y2="230.75" stroke="#555" stroke-width="0.45"/>
<text x="214.7" y="232.00" text-anchor="end" font-size="3.5" fill="#1a1a1a" dy="0.35">−0.5</text>
<line x1="215.4" x2="217" y1="218.25" y2="218.25" stroke="#555" stroke-width="0.45"/>
<text x="214.7" y="219.50" text-anchor="end" font-size="3.5" fill="#1a1a1a" dy="0.35">0.0</text>
<line x1="215.4" x2="217" y1="205.75" y2="205.75" stroke="#555" stroke-width="0.45"/>
<text x="214.7" y="207.00" text-anchor="end" font-size="3.5" fill="#1a1a1a" dy="0.35">0.5</text>
<line x1="215.4" x2="217" y1="193.25" y2="193.25" stroke="#555" stroke-width="0.45"/>
<text x="214.7" y="194.50" text-anchor="end" font-size="3.5" fill="#1a1a1a" dy="0.35">1.0</text>
<line x1="215.4" x2="217" y1="180.75" y2="180.75" stroke="#555" stroke-width="0.45"/>
<text x="214.7" y="182.00" text-anchor="end" font-size="3.5" fill="#1a1a1a" dy="0.35">1.5</text>
<line x1="215.4" x2="217" y1="168.25" y2="168.25" stroke="#555" stroke-width="0.45"/>
<text x="214.7" y="169.50" text-anchor="end" font-size="3.5" fill="#1a1a1a" dy="0.35">2.0</text>
<line x1="215.4" x2="217" y1="155.75" y2="155.75" stroke="#555" stroke-width="0.45"/>
<text x="214.7" y="157.00" text-anchor="end" font-size="3.5" fill="#1a1a1a" dy="0.35">2.5</text>
<line x1="225.1" x2="225.1" y1="251.2" y2="252.79999999999998" stroke="#555" stroke-width="0.45"/>
<text class="xl" transform="translate(223.95,253.4) rotate(90)" font-size="3.6" font-weight="bold" fill="#2a2a2a">13:29</text>
<line x1="235.3" x2="235.3" y1="251.2" y2="252.79999999999998" stroke="#555" stroke-width="0.45"/>
<text class="xl" transform="translate(234.15,253.4) rotate(90)" font-size="3.6" font-weight="bold" fill="#2a2a2a">18:31</text>
<line x1="242" x2="242" y1="251.2" y2="252.79999999999998" stroke="#555" stroke-width="0.45"/>
<text class="xl" transform="translate(240.85,253.4) rotate(90)" font-size="3.6" font-weight="bold" fill="#2a2a2a">11:29</text>
<line x1="248.3" x2="248.3" y1="251.2" y2="252.79999999999998" stroke="#555" stroke-width="0.45"/>
<text class="xl" transform="translate(247.15,253.4) rotate(90)" font-size="3.6" font-weight="bold" fill="#2a2a2a">13:37</text>
<line x1="255.5" x2="255.5" y1="251.2" y2="252.79999999999998" stroke="#555" stroke-width="0.45"/>
<text class="xl" transform="translate(254.35,253.4) rotate(90)" font-size="3.6" font-weight="bold" fill="#2a2a2a">23:25</text>
<line x1="261.8" x2="261.8" y1="251.2" y2="252.79999999999998" stroke="#555" stroke-width="0.45"/>
<text class="xl" transform="translate(260.65,253.4) rotate(90)" font-size="3.6" font-weight="bold" fill="#2a2a2a">16:20</text>
<line x1="267.9" x2="267.9" y1="251.2" y2="252.79999999999998" stroke="#555" stroke-width="0.45"/>
<text class="xl" transform="translate(266.75,253.4) rotate(90)" font-size="3.6" font-weight="bold" fill="#2a2a2a">11:20</text>
<line x1="273.1" x2="273.1" y1="251.2" y2="252.79999999999998" stroke="#555" stroke-width="0.45"/>
<text class="xl" transform="translate(271.95,253.4) rotate(90)" font-size="3.6" font-weight="bold" fill="#2a2a2a">13:37</text>
<line x1="279.2" x2="279.2" y1="251.2" y2="252.79999999999998" stroke="#555" stroke-width="0.45"/>
<text class="xl" transform="translate(278.05,253.4) rotate(90)" font-size="3.6" font-weight="bold" fill="#2a2a2a">22:49</text>
<line x1="282.6" x2="282.6" y1="251.2" y2="252.79999999999998" stroke="#555" stroke-width="0.45"/>
<text class="xl" transform="translate(281.45,253.4) rotate(90)" font-size="3.6" font-weight="bold" fill="#2a2a2a">21:11</text>
<line x1="286.6" x2="286.6" y1="251.2" y2="252.79999999999998" stroke="#555" stroke-width="0.45"/>
<text class="xl" transform="translate(285.45,253.4) rotate(90)" font-size="3.6" font-weight="bold" fill="#2a2a2a">13:39</text>
<line x1="290.5" x2="290.5" y1="251.2" y2="252.79999999999998" stroke="#555" stroke-width="0.45"/>
<text class="xl" transform="translate(289.35,253.4) rotate(90)" font-size="3.6" font-weight="bold" fill="#2a2a2a">22:28</text>
<line x1="295" x2="295" y1="251.2" y2="252.79999999999998" stroke="#555" stroke-width="0.45"/>
<text class="xl" transform="translate(293.85,253.4) rotate(90)" font-size="3.6" font-weight="bold" fill="#2a2a2a">20:56</text>
<line x1="300.1" x2="300.1" y1="251.2" y2="252.79999999999998" stroke="#555" stroke-width="0.45"/>
<text class="xl" transform="translate(298.95,253.4) rotate(90)" font-size="3.6" font-weight="bold" fill="#2a2a2a">20:16</text>
<line x1="303.75" x2="303.75" y1="251.2" y2="252.79999999999998" stroke="#555" stroke-width="0.45"/>
<text class="xl" transform="translate(302.60,253.4) rotate(90)" font-size="3.6" font-weight="bold" fill="#2a2a2a">13:45</text>
<line x1="316.25" x2="316.25" y1="251.2" y2="252.79999999999998" stroke="#555" stroke-width="0.45"/>
<text class="xl" transform="translate(315.10,253.4) rotate(90)" font-size="3.6" font-weight="bold" fill="#2a2a2a">14:29</text>
<line x1="323.75" x2="323.75" y1="251.2" y2="252.79999999999998" stroke="#555" stroke-width="0.45"/>
<text class="xl" transform="translate(322.60,253.4) rotate(90)" font-size="3.6" font-weight="bold" fill="#2a2a2a">22:39</text>
<line x1="328.75" x2="328.75" y1="251.2" y2="252.79999999999998" stroke="#555" stroke-width="0.45"/>
<text class="xl" transform="translate(327.60,253.4) rotate(90)" font-size="3.6" font-weight="bold" fill="#2a2a2a">21:53</text>
<line x1="334.5" x2="334.5" y1="251.2" y2="252.79999999999998" stroke="#555" stroke-width="0.45"/>
<text class="xl" transform="translate(333.35,253.4) rotate(90)" font-size="3.6" font-weight="bold" fill="#2a2a2a">21:33</text>
<line x1="342.5" x2="342.5" y1="251.2" y2="252.79999999999998" stroke="#555" stroke-width="0.45"/>
<text class="xl" transform="translate(341.35,253.4) rotate(90)" font-size="3.6" font-weight="bold" fill="#2a2a2a">15:33</text>
<line x1="347.5" x2="347.5" y1="251.2" y2="252.79999999999998" stroke="#555" stroke-width="0.45"/>
<text class="xl" transform="translate(346.35,253.4) rotate(90)" font-size="3.6" font-weight="bold" fill="#2a2a2a">13:12</text>
<line x1="353.75" x2="353.75" y1="251.2" y2="252.79999999999998" stroke="#555" stroke-width="0.45"/>
<text class="xl" transform="translate(352.60,253.4) rotate(90)" font-size="3.6" font-weight="bold" fill="#2a2a2a">23:12</text>
<line x1="360.75" x2="360.75" y1="251.2" y2="252.79999999999998" stroke="#555" stroke-width="0.45"/>
<text class="xl" transform="translate(359.60,253.4) rotate(90)" font-size="3.6" font-weight="bold" fill="#2a2a2a">18:44</text>
<line x1="371.25" x2="371.25" y1="251.2" y2="252.79999999999998" stroke="#555" stroke-width="0.45"/>
<text class="xl" transform="translate(370.10,253.4) rotate(90)" font-size="3.6" font-weight="bold" fill="#2a2a2a">13:53:00</text>
<line x1="387.5" x2="387.5" y1="251.2" y2="252.79999999999998" stroke="#555" stroke-width="0.45"/>
<text class="xl" transform="translate(386.35,253.4) rotate(90)" font-size="3.6" font-weight="bold" fill="#2a2a2a">11:21:00</text>
<text x="307.35" y="143.2" text-anchor="middle" font-size="4.2" fill="#111">SNM_2021-12-7 16:00</text>
<text x="306" y="272.3" text-anchor="middle" font-size="3.6" fill="#1a1a1a">datetime</text>
<text transform="translate(205.5,197.85) rotate(-90)" text-anchor="middle" font-size="3.6" fill="#1a1a1a">blu_volume</text>
<rect x="217.6" y="145.8" width="45.400000000000006" height="11.3" rx="0.6" fill="#fff" fill-opacity="0.95" stroke="#e0e0e0" stroke-width="0.4"/>
<line x1="219.4" x2="226.9" y1="148.9" y2="148.9" stroke="#5f5aee" stroke-width="0.7" stroke-dasharray="1.3 0.6"/>
<line x1="219.4" x2="226.9" y1="154.1" y2="154.1" stroke="#dccf80" stroke-width="0.7" stroke-dasharray="1.3 0.6"/>
<text x="229.20000000000002" y="150.20000000000002" font-size="3.55" fill="#1a1a1a">2021-12-7 16:00</text>
<text x="229.20000000000002" y="155.4" font-size="3.55" fill="#1a1a1a">anomalous volumes</text></g><g><rect x="16.5" y="282.4" width="179.0" height="106.60000000000002" fill="#fff"/>
<rect x="24" y="357" width="164" height="12" fill="#effcfb"/>
<rect x="170.6" y="286.5" width="5.2" height="77.5" fill="#fdf3f7"/>
<rect x="171" y="284" width="5" height="104" fill="#fef6f9"/>
<line x1="24.8" x2="189.0" y1="342.5" y2="342.5" stroke="#dfc85e" stroke-width="0.8" stroke-dasharray="1.0 0.4"/>
<line x1="24.8" x2="189.0" y1="384.2" y2="384.2" stroke="#dfc85e" stroke-width="0.8" stroke-dasharray="1.0 0.4"/>
<path d="M26.1 363.0V359.3M35.3 363.0V368.0M40.8 363.0V371.8M40.8 363.0V360.3M41.9 363.0V356.0M43.6 363.0V360.4M54.7 363.0V353.8M56.5 363.0V367.3M58.3 363.0V371.8M59.9 363.0V360.0M71.2 363.0V371.8M79.0 363.0V358.7M80.2 363.0V367.3M86.3 363.0V360.5M90.3 363.0V383.7M92.1 363.0V368.4M117.7 363.0V344.3M121.8 363.0V354.5M162.3 363.0V369.5M164.6 363.0V356.7M172.0 363.0V355.0M173.7 363.0V365.8M180.2 363.0V359.7M182.6 363.0V369.0M182.6 363.0V357.0M186.6 363.0V359.8" stroke="#33602a" stroke-width="0.7" fill="none"/>
<path d="M24.3 363.8 L25.2 363.8 L26.1 360.8 L27.1 364.6 L28.0 362.6 L28.9 362.9 L29.8 363.2 L30.7 362.8 L31.6 363.4 L32.6 362.8 L33.5 363.0 L34.4 363.3 L35.3 365.2 L36.2 361.6 L37.1 362.7 L38.1 362.5 L39.0 363.3 L39.9 363.3 L40.8 365.2 L40.8 360.8 L41.7 363.1 L41.9 360.8 L42.6 362.5 L43.6 360.8 L44.5 363.4 L45.4 362.5 L46.3 363.4 L47.2 362.9 L48.1 362.4 L49.1 363.2 L50.0 363.6 L50.9 362.7 L51.8 363.3 L52.7 363.9 L53.6 363.0 L54.6 361.7 L54.7 360.8 L55.5 362.6 L56.4 363.3 L56.5 365.2 L57.3 362.9 L58.2 363.7 L58.3 365.2 L59.1 362.5 L59.9 360.8 L60.1 363.1 L61.0 362.7 L61.9 362.5 L62.8 363.2 L63.7 363.6 L64.6 363.1 L65.6 363.6 L66.5 362.2 L67.4 362.5 L68.3 363.0 L69.2 363.6 L70.1 361.8 L71.1 361.5 L71.2 365.2 L72.0 363.2 L72.9 362.6 L73.8 362.0 L74.7 361.9 L75.6 363.2 L76.6 362.8 L77.5 362.1 L78.4 363.5 L79.0 360.8 L79.3 362.0 L80.2 365.2 L80.2 363.3 L81.1 364.5 L82.1 362.7 L83.0 363.4 L83.9 363.1 L84.8 362.7 L85.7 362.3 L86.3 360.8 L86.6 363.3 L87.6 363.0 L88.5 363.2 L89.4 363.1 L90.3 365.2 L90.3 363.7 L91.2 364.2 L92.1 365.2 L92.1 363.4 L93.1 364.7 L94.0 362.5 L94.9 363.6 L95.8 363.1 L96.7 362.4 L97.6 363.3 L98.6 362.6 L99.5 364.3 L100.4 362.1 L101.3 363.6 L102.2 362.8 L103.1 362.5 L104.1 363.1 L105.0 363.1 L105.9 362.7 L106.8 364.2 L107.7 364.1 L108.7 363.3 L109.6 362.2 L110.5 362.5 L111.4 363.0 L112.3 362.5 L113.2 361.9 L114.2 361.1 L115.1 363.2 L116.0 361.6 L116.9 361.8 L117.7 360.8 L117.8 363.6 L118.7 362.7 L119.7 362.7 L120.6 361.9 L121.5 362.7 L121.8 360.8 L122.4 363.1 L123.3 362.8 L124.2 363.2 L125.2 363.4 L126.1 363.1 L127.0 363.1 L127.9 363.0 L128.8 363.1 L129.7 362.8 L130.7 362.9 L131.6 363.0 L132.5 363.0 L133.4 362.9 L134.3 363.2 L135.2 362.9 L136.2 363.2 L137.1 363.0 L138.0 362.9 L138.9 362.9 L139.8 363.1 L140.7 363.0 L141.7 363.0 L142.6 363.0 L143.5 362.9 L144.4 363.2 L145.3 363.1 L146.2 362.9 L147.2 362.8 L148.1 363.1 L149.0 363.1 L149.9 362.7 L150.8 363.1 L151.7 363.1 L152.7 362.8 L153.6 363.0 L154.5 363.2 L155.4 363.0 L156.3 363.2 L157.2 362.8 L158.2 362.9 L159.1 362.8 L160.0 363.0 L160.9 363.6 L161.8 361.3 L162.3 365.2 L162.7 362.8 L163.7 362.9 L164.6 362.9 L164.6 360.8 L165.5 363.0 L166.4 362.8 L167.3 363.9 L168.2 362.9 L169.2 362.2 L170.1 362.8 L171.0 363.2 L171.9 362.2 L172.0 360.8 L172.8 362.1 L173.7 365.2 L174.7 363.6 L175.6 363.1 L176.5 363.6 L177.4 362.9 L178.3 362.5 L179.2 362.9 L180.2 360.8 L181.1 363.6 L182.0 362.0 L182.6 365.2 L182.6 360.8 L182.9 363.3 L183.8 364.0 L184.7 362.8 L185.7 364.2 L186.6 360.8 L187.5 363.5" stroke="#279414" stroke-width="1.8" fill="none" stroke-linejoin="round"/>
<g fill="#2c7412"><circle cx="24.3" cy="363.8" r="0.85"/><circle cx="25.2" cy="363.8" r="0.85"/><circle cx="27.1" cy="364.6" r="0.85"/><circle cx="28.0" cy="362.6" r="0.85"/><circle cx="28.9" cy="362.9" r="0.85"/><circle cx="29.8" cy="363.2" r="0.85"/><circle cx="30.7" cy="362.8" r="0.85"/><circle cx="31.6" cy="363.4" r="0.85"/><circle cx="32.6" cy="362.8" r="0.85"/><circle cx="33.5" cy="363.0" r="0.85"/><circle cx="34.4" cy="363.3" r="0.85"/><circle cx="36.2" cy="361.6" r="0.85"/><circle cx="37.1" cy="362.7" r="0.85"/><circle cx="38.1" cy="362.5" r="0.85"/><circle cx="39.0" cy="363.3" r="0.85"/><circle cx="39.9" cy="363.3" r="0.85"/><circle cx="41.7" cy="363.1" r="0.85"/><circle cx="42.6" cy="362.5" r="0.85"/><circle cx="44.5" cy="363.4" r="0.85"/><circle cx="45.4" cy="362.5" r="0.85"/><circle cx="46.3" cy="363.4" r="0.85"/><circle cx="47.2" cy="362.9" r="0.85"/><circle cx="48.1" cy="362.4" r="0.85"/><circle cx="49.1" cy="363.2" r="0.85"/><circle cx="50.0" cy="363.6" r="0.85"/><circle cx="50.9" cy="362.7" r="0.85"/><circle cx="51.8" cy="363.3" r="0.85"/><circle cx="52.7" cy="363.9" r="0.85"/><circle cx="53.6" cy="363.0" r="0.85"/><circle cx="54.6" cy="361.7" r="0.85"/><circle cx="55.5" cy="362.6" r="0.85"/><circle cx="56.4" cy="363.3" r="0.85"/><circle cx="57.3" cy="362.9" r="0.85"/><circle cx="58.2" cy="363.7" r="0.85"/><circle cx="59.1" cy="362.5" r="0.85"/><circle cx="60.1" cy="363.1" r="0.85"/><circle cx="61.0" cy="362.7" r="0.85"/><circle cx="61.9" cy="362.5" r="0.85"/><circle cx="62.8" cy="363.2" r="0.85"/><circle cx="63.7" cy="363.6" r="0.85"/><circle cx="64.6" cy="363.1" r="0.85"/><circle cx="65.6" cy="363.6" r="0.85"/><circle cx="66.5" cy="362.2" r="0.85"/><circle cx="67.4" cy="362.5" r="0.85"/><circle cx="68.3" cy="363.0" r="0.85"/><circle cx="69.2" cy="363.6" r="0.85"/><circle cx="70.1" cy="361.8" r="0.85"/><circle cx="71.1" cy="361.5" r="0.85"/><circle cx="72.0" cy="363.2" r="0.85"/><circle cx="72.9" cy="362.6" r="0.85"/><circle cx="73.8" cy="362.0" r="0.85"/><circle cx="74.7" cy="361.9" r="0.85"/><circle cx="75.6" cy="363.2" r="0.85"/><circle cx="76.6" cy="362.8" r="0.85"/><circle cx="77.5" cy="362.1" r="0.85"/><circle cx="78.4" cy="363.5" r="0.85"/><circle cx="79.3" cy="362.0" r="0.85"/><circle cx="80.2" cy="363.3" r="0.85"/><circle cx="81.1" cy="364.5" r="0.85"/><circle cx="82.1" cy="362.7" r="0.85"/><circle cx="83.0" cy="363.4" r="0.85"/><circle cx="83.9" cy="363.1" r="0.85"/><circle cx="84.8" cy="362.7" r="0.85"/><circle cx="85.7" cy="362.3" r="0.85"/><circle cx="86.6" cy="363.3" r="0.85"/><circle cx="87.6" cy="363.0" r="0.85"/><circle cx="88.5" cy="363.2" r="0.85"/><circle cx="89.4" cy="363.1" r="0.85"/><circle cx="90.3" cy="363.7" r="0.85"/><circle cx="91.2" cy="364.2" r="0.85"/><circle cx="92.1" cy="363.4" r="0.85"/><circle cx="93.1" cy="364.7" r="0.85"/><circle cx="94.0" cy="362.5" r="0.85"/><circle cx="94.9" cy="363.6" r="0.85"/><circle cx="95.8" cy="363.1" r="0.85"/><circle cx="96.7" cy="362.4" r="0.85"/><circle cx="97.6" cy="363.3" r="0.85"/><circle cx="98.6" cy="362.6" r="0.85"/><circle cx="99.5" cy="364.3" r="0.85"/><circle cx="100.4" cy="362.1" r="0.85"/><circle cx="101.3" cy="363.6" r="0.85"/><circle cx="102.2" cy="362.8" r="0.85"/><circle cx="103.1" cy="362.5" r="0.85"/><circle cx="104.1" cy="363.1" r="0.85"/><circle cx="105.0" cy="363.1" r="0.85"/><circle cx="105.9" cy="362.7" r="0.85"/><circle cx="106.8" cy="364.2" r="0.85"/><circle cx="107.7" cy="364.1" r="0.85"/><circle cx="108.7" cy="363.3" r="0.85"/><circle cx="109.6" cy="362.2" r="0.85"/><circle cx="110.5" cy="362.5" r="0.85"/><circle cx="111.4" cy="363.0" r="0.85"/><circle cx="112.3" cy="362.5" r="0.85"/><circle cx="113.2" cy="361.9" r="0.85"/><circle cx="114.2" cy="361.1" r="0.85"/><circle cx="115.1" cy="363.2" r="0.85"/><circle cx="116.0" cy="361.6" r="0.85"/><circle cx="116.9" cy="361.8" r="0.85"/><circle cx="117.8" cy="363.6" r="0.85"/><circle cx="118.7" cy="362.7" r="0.85"/><circle cx="119.7" cy="362.7" r="0.85"/><circle cx="120.6" cy="361.9" r="0.85"/><circle cx="121.5" cy="362.7" r="0.85"/><circle cx="122.4" cy="363.1" r="0.85"/><circle cx="123.3" cy="362.8" r="0.85"/><circle cx="124.2" cy="363.2" r="0.85"/><circle cx="125.2" cy="363.4" r="0.85"/><circle cx="126.1" cy="363.1" r="0.85"/><circle cx="127.0" cy="363.1" r="0.85"/><circle cx="127.9" cy="363.0" r="0.85"/><circle cx="128.8" cy="363.1" r="0.85"/><circle cx="129.7" cy="362.8" r="0.85"/><circle cx="130.7" cy="362.9" r="0.85"/><circle cx="131.6" cy="363.0" r="0.85"/><circle cx="132.5" cy="363.0" r="0.85"/><circle cx="133.4" cy="362.9" r="0.85"/><circle cx="134.3" cy="363.2" r="0.85"/><circle cx="135.2" cy="362.9" r="0.85"/><circle cx="136.2" cy="363.2" r="0.85"/><circle cx="137.1" cy="363.0" r="0.85"/><circle cx="138.0" cy="362.9" r="0.85"/><circle cx="138.9" cy="362.9" r="0.85"/><circle cx="139.8" cy="363.1" r="0.85"/><circle cx="140.7" cy="363.0" r="0.85"/><circle cx="141.7" cy="363.0" r="0.85"/><circle cx="142.6" cy="363.0" r="0.85"/><circle cx="143.5" cy="362.9" r="0.85"/><circle cx="144.4" cy="363.2" r="0.85"/><circle cx="145.3" cy="363.1" r="0.85"/><circle cx="146.2" cy="362.9" r="0.85"/><circle cx="147.2" cy="362.8" r="0.85"/><circle cx="148.1" cy="363.1" r="0.85"/><circle cx="149.0" cy="363.1" r="0.85"/><circle cx="149.9" cy="362.7" r="0.85"/><circle cx="150.8" cy="363.1" r="0.85"/><circle cx="151.7" cy="363.1" r="0.85"/><circle cx="152.7" cy="362.8" r="0.85"/><circle cx="153.6" cy="363.0" r="0.85"/><circle cx="154.5" cy="363.2" r="0.85"/><circle cx="155.4" cy="363.0" r="0.85"/><circle cx="156.3" cy="363.2" r="0.85"/><circle cx="157.2" cy="362.8" r="0.85"/><circle cx="158.2" cy="362.9" r="0.85"/><circle cx="159.1" cy="362.8" r="0.85"/><circle cx="160.0" cy="363.0" r="0.85"/><circle cx="160.9" cy="363.6" r="0.85"/><circle cx="161.8" cy="361.3" r="0.85"/><circle cx="162.7" cy="362.8" r="0.85"/><circle cx="163.7" cy="362.9" r="0.85"/><circle cx="164.6" cy="362.9" r="0.85"/><circle cx="165.5" cy="363.0" r="0.85"/><circle cx="166.4" cy="362.8" r="0.85"/><circle cx="167.3" cy="363.9" r="0.85"/><circle cx="168.2" cy="362.9" r="0.85"/><circle cx="169.2" cy="362.2" r="0.85"/><circle cx="170.1" cy="362.8" r="0.85"/><circle cx="171.0" cy="363.2" r="0.85"/><circle cx="171.9" cy="362.2" r="0.85"/><circle cx="172.8" cy="362.1" r="0.85"/><circle cx="174.7" cy="363.6" r="0.85"/><circle cx="175.6" cy="363.1" r="0.85"/><circle cx="176.5" cy="363.6" r="0.85"/><circle cx="177.4" cy="362.9" r="0.85"/><circle cx="178.3" cy="362.5" r="0.85"/><circle cx="179.2" cy="362.9" r="0.85"/><circle cx="181.1" cy="363.6" r="0.85"/><circle cx="182.0" cy="362.0" r="0.85"/><circle cx="182.9" cy="363.3" r="0.85"/><circle cx="183.8" cy="364.0" r="0.85"/><circle cx="184.7" cy="362.8" r="0.85"/><circle cx="185.7" cy="364.2" r="0.85"/><circle cx="187.5" cy="363.5" r="0.85"/></g>
<g fill="#2b5016"><circle cx="26.1" cy="359.3" r="1.05"/><circle cx="35.3" cy="368.0" r="1.05"/><circle cx="40.8" cy="371.8" r="1.05"/><circle cx="40.8" cy="360.3" r="1.05"/><circle cx="41.9" cy="356.0" r="1.05"/><circle cx="43.6" cy="360.4" r="1.05"/><circle cx="54.7" cy="353.8" r="1.05"/><circle cx="56.5" cy="367.3" r="1.05"/><circle cx="58.3" cy="371.8" r="1.05"/><circle cx="59.9" cy="360.0" r="1.05"/><circle cx="71.2" cy="371.8" r="1.05"/><circle cx="79.0" cy="358.7" r="1.05"/><circle cx="80.2" cy="367.3" r="1.05"/><circle cx="86.3" cy="360.5" r="1.05"/><circle cx="90.3" cy="383.7" r="1.05"/><circle cx="92.1" cy="368.4" r="1.05"/><circle cx="117.7" cy="344.3" r="1.05"/><circle cx="121.8" cy="354.5" r="1.05"/><circle cx="162.3" cy="369.5" r="1.05"/><circle cx="164.6" cy="356.7" r="1.05"/><circle cx="172.0" cy="355.0" r="1.05"/><circle cx="173.7" cy="365.8" r="1.05"/><circle cx="180.2" cy="359.7" r="1.05"/><circle cx="182.6" cy="369.0" r="1.05"/><circle cx="182.6" cy="357.0" r="1.05"/><circle cx="186.6" cy="359.8" r="1.05"/></g>
<line x1="173.2" x2="173.2" y1="363" y2="287.5" stroke="#f8e0d8" stroke-width="1.1"/>
<line x1="173.2" x2="173.2" y1="363" y2="287.5" stroke="#8a5a3a" stroke-width="0.65"/>
<circle cx="173.2" cy="287.5" r="1.2" fill="#4a3020"/>
<line x1="174.2" x2="174.2" y1="334" y2="363" stroke="#e0a070" stroke-width="1.5"/>
<line x1="90.3" x2="90.3" y1="363" y2="383.7" stroke="#2e6a18" stroke-width="1.2"/>
<circle cx="90.3" cy="383.7" r="1.2" fill="#23400e"/>
<circle cx="174.2" cy="334" r="1.0" fill="#6a4020"/>
<line x1="169" x2="169" y1="286.9" y2="384.5" stroke="#6a58e8" stroke-width="1.3" stroke-dasharray="1.4 0.5"/>
<line x1="187" x2="187" y1="286.9" y2="384.5" stroke="#6a58e8" stroke-width="1.3" stroke-dasharray="1.4 0.5"/>
<rect x="16.5" y="282.4" width="179.0" height="106.60000000000002" fill="none" stroke="#7c7c7c" stroke-width="0.95"/>
<line x1="14.9" x2="16.5" y1="383.10" y2="383.10" stroke="#555" stroke-width="0.45"/>
<text x="14.2" y="384.35" text-anchor="end" font-size="3.5" fill="#1a1a1a" dy="0.35">−0.1</text>
<line x1="14.9" x2="16.5" y1="363.00" y2="363.00" stroke="#555" stroke-width="0.45"/>
<text x="14.2" y="364.25" text-anchor="end" font-size="3.5" fill="#1a1a1a" dy="0.35">0.0</text>
<line x1="14.9" x2="16.5" y1="342.90" y2="342.90" stroke="#555" stroke-width="0.45"/>
<text x="14.2" y="344.15" text-anchor="end" font-size="3.5" fill="#1a1a1a" dy="0.35">0.1</text>
<line x1="14.9" x2="16.5" y1="322.80" y2="322.80" stroke="#555" stroke-width="0.45"/>
<text x="14.2" y="324.05" text-anchor="end" font-size="3.5" fill="#1a1a1a" dy="0.35">0.2</text>
<line x1="14.9" x2="16.5" y1="302.70" y2="302.70" stroke="#555" stroke-width="0.45"/>
<text x="14.2" y="303.95" text-anchor="end" font-size="3.5" fill="#1a1a1a" dy="0.35">0.3</text>
<line x1="24.1" x2="24.1" y1="389" y2="390.6" stroke="#555" stroke-width="0.45"/>
<text class="xl" transform="translate(22.95,391.2) rotate(90)" font-size="3.6" font-weight="bold" fill="#2a2a2a">19:26</text>
<line x1="28.6" x2="28.6" y1="389" y2="390.6" stroke="#555" stroke-width="0.45"/>
<text class="xl" transform="translate(27.45,391.2) rotate(90)" font-size="3.6" font-weight="bold" fill="#2a2a2a">15:13</text>
<line x1="36.1" x2="36.1" y1="389" y2="390.6" stroke="#555" stroke-width="0.45"/>
<text class="xl" transform="translate(34.95,391.2) rotate(90)" font-size="3.6" font-weight="bold" fill="#2a2a2a">11:17</text>
<line x1="40.6" x2="40.6" y1="389" y2="390.6" stroke="#555" stroke-width="0.45"/>
<text class="xl" transform="translate(39.45,391.2) rotate(90)" font-size="3.6" font-weight="bold" fill="#2a2a2a">15:46</text>
<line x1="51.2" x2="51.2" y1="389" y2="390.6" stroke="#555" stroke-width="0.45"/>
<text class="xl" transform="translate(50.05,391.2) rotate(90)" font-size="3.6" font-weight="bold" fill="#2a2a2a">19:43</text>
<line x1="54.1" x2="54.1" y1="389" y2="390.6" stroke="#555" stroke-width="0.45"/>
<text class="xl" transform="translate(52.95,391.2) rotate(90)" font-size="3.6" font-weight="bold" fill="#2a2a2a">11:42</text>
<line x1="60.2" x2="60.2" y1="389" y2="390.6" stroke="#555" stroke-width="0.45"/>
<text class="xl" transform="translate(59.05,391.2) rotate(90)" font-size="3.6" font-weight="bold" fill="#2a2a2a">22:43</text>
<line x1="66.3" x2="66.3" y1="389" y2="390.6" stroke="#555" stroke-width="0.45"/>
<text class="xl" transform="translate(65.15,391.2) rotate(90)" font-size="3.6" font-weight="bold" fill="#2a2a2a">22:16</text>
<line x1="74.4" x2="74.4" y1="389" y2="390.6" stroke="#555" stroke-width="0.45"/>
<text class="xl" transform="translate(73.25,391.2) rotate(90)" font-size="3.6" font-weight="bold" fill="#2a2a2a">18:44</text>
<line x1="80.4" x2="80.4" y1="389" y2="390.6" stroke="#555" stroke-width="0.45"/>
<text class="xl" transform="translate(79.25,391.2) rotate(90)" font-size="3.6" font-weight="bold" fill="#2a2a2a">10:27</text>
<line x1="90.6" x2="90.6" y1="389" y2="390.6" stroke="#555" stroke-width="0.45"/>
<text class="xl" transform="translate(89.45,391.2) rotate(90)" font-size="3.6" font-weight="bold" fill="#2a2a2a">16:54</text>
<line x1="93.3" x2="93.3" y1="389" y2="390.6" stroke="#555" stroke-width="0.45"/>
<text class="xl" transform="translate(92.15,391.2) rotate(90)" font-size="3.6" font-weight="bold" fill="#2a2a2a">18:22</text>
<line x1="95.5" x2="95.5" y1="389" y2="390.6" stroke="#555" stroke-width="0.45"/>
<text class="xl" transform="translate(94.35,391.2) rotate(90)" font-size="3.6" font-weight="bold" fill="#2a2a2a">13:42</text>
<line x1="97.8" x2="97.8" y1="389" y2="390.6" stroke="#555" stroke-width="0.45"/>
<text class="xl" transform="translate(96.65,391.2) rotate(90)" font-size="3.6" font-weight="bold" fill="#2a2a2a">22:55</text>
<line x1="100.7" x2="100.7" y1="389" y2="390.6" stroke="#555" stroke-width="0.45"/>
<text class="xl" transform="translate(99.55,391.2) rotate(90)" font-size="3.6" font-weight="bold" fill="#2a2a2a">16:31</text>
<line x1="103" x2="103" y1="389" y2="390.6" stroke="#555" stroke-width="0.45"/>
<text class="xl" transform="translate(101.85,391.2) rotate(90)" font-size="3.6" font-weight="bold" fill="#2a2a2a">10:56</text>
<line x1="106.25" x2="106.25" y1="389" y2="390.6" stroke="#555" stroke-width="0.45"/>
<text class="xl" transform="translate(105.10,391.2) rotate(90)" font-size="3.6" font-weight="bold" fill="#2a2a2a">20:28</text>
<line x1="108.75" x2="108.75" y1="389" y2="390.6" stroke="#555" stroke-width="0.45"/>
<text class="xl" transform="translate(107.60,391.2) rotate(90)" font-size="3.6" font-weight="bold" fill="#2a2a2a">13:51</text>
<line x1="112" x2="112" y1="389" y2="390.6" stroke="#555" stroke-width="0.45"/>
<text class="xl" transform="translate(110.85,391.2) rotate(90)" font-size="3.6" font-weight="bold" fill="#2a2a2a">18:57</text>
<line x1="115.5" x2="115.5" y1="389" y2="390.6" stroke="#555" stroke-width="0.45"/>
<text class="xl" transform="translate(114.35,391.2) rotate(90)" font-size="3.6" font-weight="bold" fill="#2a2a2a">12:40</text>
<line x1="121.25" x2="121.25" y1="389" y2="390.6" stroke="#555" stroke-width="0.45"/>
<text class="xl" transform="translate(120.10,391.2) rotate(90)" font-size="3.6" font-weight="bold" fill="#2a2a2a">16:26</text>
<line x1="123" x2="123" y1="389" y2="390.6" stroke="#555" stroke-width="0.45"/>
<text class="xl" transform="translate(121.85,391.2) rotate(90)" font-size="3.6" font-weight="bold" fill="#2a2a2a">20:55</text>
<line x1="157.5" x2="157.5" y1="389" y2="390.6" stroke="#555" stroke-width="0.45"/>
<text class="xl" transform="translate(156.35,391.2) rotate(90)" font-size="3.6" font-weight="bold" fill="#2a2a2a">16:18</text>
<line x1="160" x2="160" y1="389" y2="390.6" stroke="#555" stroke-width="0.45"/>
<text class="xl" transform="translate(158.85,391.2) rotate(90)" font-size="3.6" font-weight="bold" fill="#2a2a2a">14:58</text>
<line x1="165" x2="165" y1="389" y2="390.6" stroke="#555" stroke-width="0.45"/>
<text class="xl" transform="translate(163.85,391.2) rotate(90)" font-size="3.6" font-weight="bold" fill="#2a2a2a">22:39</text>
<line x1="167.5" x2="167.5" y1="389" y2="390.6" stroke="#555" stroke-width="0.45"/>
<text class="xl" transform="translate(166.35,391.2) rotate(90)" font-size="3.6" font-weight="bold" fill="#2a2a2a">13:55:00</text>
<line x1="182.5" x2="182.5" y1="389" y2="390.6" stroke="#555" stroke-width="0.45"/>
<text class="xl" transform="translate(181.35,391.2) rotate(90)" font-size="3.6" font-weight="bold" fill="#2a2a2a">11:21</text>
<line x1="186.25" x2="186.25" y1="389" y2="390.6" stroke="#555" stroke-width="0.45"/>
<text class="xl" transform="translate(185.10,391.2) rotate(90)" font-size="3.6" font-weight="bold" fill="#2a2a2a">11:41:00</text>
<text x="106.6" y="281.09999999999997" text-anchor="middle" font-size="4.2" fill="#111">SNM_2022-1-26 11:12</text>
<text x="106" y="410.3" text-anchor="middle" font-size="3.6" fill="#1a1a1a">datetime</text>
<text transform="translate(4.8,335.7) rotate(-90)" text-anchor="middle" font-size="3.6" fill="#1a1a1a">blu_volume</text>
<rect x="17.2" y="283.4" width="45.400000000000006" height="11.3" rx="0.6" fill="#fff" fill-opacity="0.95" stroke="#e0e0e0" stroke-width="0.4"/>
<line x1="19" x2="26.5" y1="286.5" y2="286.5" stroke="#5f5aee" stroke-width="0.7" stroke-dasharray="1.3 0.6"/>
<line x1="19" x2="26.5" y1="291.7" y2="291.7" stroke="#dccf80" stroke-width="0.7" stroke-dasharray="1.3 0.6"/>
<text x="28.8" y="287.8" font-size="3.55" fill="#1a1a1a">2022-1-26 11:12</text>
<text x="28.8" y="293.0" font-size="3.55" fill="#1a1a1a">anomalous volumes</text></g><g><rect x="218.5" y="282.4" width="178.5" height="106.85000000000002" fill="#fff"/>
<rect x="225" y="334" width="165" height="8" fill="#effcfb"/>
<rect x="289.79999999999995" y="337.1" width="5.2" height="47.64999999999998" fill="#fdf3f7"/>
<rect x="264.79999999999995" y="286.5" width="5.2" height="52.60000000000002" fill="#fdf3f7"/>
<rect x="265" y="284" width="5" height="54" fill="#fef6f9"/>
<rect x="290" y="338" width="5" height="49" fill="#fef6f9"/>
<line x1="226.3" x2="390.8" y1="295" y2="295" stroke="#dfc85e" stroke-width="0.8" stroke-dasharray="1.0 0.4"/>
<line x1="226.3" x2="390.8" y1="381.25" y2="381.25" stroke="#dfc85e" stroke-width="0.8" stroke-dasharray="1.0 0.4"/>
<path d="M232.5 338.1V334.8M235.2 338.1V344.9M252.8 338.1V331.8M254.3 338.1V334.9M254.6 338.1V343.8M265.8 338.1V344.9M269.7 338.1V331.4M274.2 338.1V331.4M280.3 338.1V341.5M290.6 338.1V321.3M325.5 338.1V346.9M330.5 338.1V341.7M360.8 338.1V341.2M364.3 338.1V333.8M365.5 338.1V345.7M370.9 338.1V340.7M378.2 338.1V329.9M380.1 338.1V335.4M386.2 338.1V333.8M387.9 338.1V328.9" stroke="#33602a" stroke-width="0.7" fill="none"/>
<path d="M225.8 337.8 L226.7 339.1 L227.6 337.3 L228.6 338.1 L229.5 338.8 L230.4 337.4 L231.3 338.2 L232.2 338.7 L232.5 335.9 L233.1 337.9 L234.1 337.4 L235.0 337.8 L235.2 340.3 L235.9 338.9 L236.8 337.3 L237.7 337.6 L238.7 337.8 L239.6 337.9 L240.5 337.4 L241.4 338.3 L242.3 338.9 L243.3 337.1 L244.2 338.6 L245.1 338.8 L246.0 337.6 L246.9 338.0 L247.8 338.3 L248.8 338.2 L249.7 337.5 L250.6 337.6 L251.5 338.4 L252.4 338.1 L252.8 335.9 L253.4 338.1 L254.3 335.9 L254.6 340.3 L255.2 338.5 L256.1 338.8 L257.0 338.3 L257.9 337.3 L258.9 339.7 L259.8 339.2 L260.7 338.0 L261.6 338.3 L262.5 339.0 L263.5 337.8 L264.4 338.5 L265.3 337.9 L265.8 340.3 L266.2 337.8 L267.1 337.3 L268.1 338.0 L269.0 338.1 L269.7 335.9 L269.9 338.0 L270.8 338.4 L271.7 339.6 L272.6 338.3 L273.6 338.8 L274.2 335.9 L274.5 338.0 L275.4 338.2 L276.3 338.7 L277.2 338.3 L278.2 337.9 L279.1 338.2 L280.0 338.5 L280.3 340.3 L280.9 338.1 L281.8 338.4 L282.7 339.1 L283.7 339.1 L284.6 338.9 L285.5 338.5 L286.4 338.8 L287.3 338.1 L288.3 338.1 L289.2 338.0 L290.1 338.3 L290.6 335.9 L291.0 338.1 L291.9 337.3 L292.9 338.3 L293.8 337.3 L294.7 337.9 L295.6 339.0 L296.5 338.0 L297.4 338.8 L298.4 338.3 L299.3 338.4 L300.2 338.4 L301.1 338.2 L302.0 338.1 L303.0 337.6 L303.9 336.9 L304.8 338.7 L305.7 338.3 L306.6 338.2 L307.6 337.6 L308.5 338.5 L309.4 338.1 L310.3 338.6 L311.2 337.9 L312.1 338.4 L313.1 338.3 L314.0 338.2 L314.9 338.0 L315.8 338.1 L316.7 338.5 L317.7 337.6 L318.6 337.4 L319.5 338.1 L320.4 338.9 L321.3 337.8 L322.2 338.1 L323.2 338.1 L324.1 338.8 L325.0 337.3 L325.5 340.3 L325.9 338.4 L326.8 338.4 L327.8 339.0 L328.7 337.1 L329.6 338.1 L330.5 340.3 L331.4 338.6 L332.4 337.9 L333.3 338.6 L334.2 337.7 L335.1 337.4 L336.0 337.2 L336.9 337.9 L337.9 337.7 L338.8 337.8 L339.7 338.0 L340.6 338.5 L341.5 338.3 L342.5 337.5 L343.4 337.7 L344.3 337.4 L345.2 337.9 L346.1 338.1 L347.0 338.5 L348.0 338.9 L348.9 338.4 L349.8 338.0 L350.7 338.0 L351.6 338.5 L352.6 337.9 L353.5 339.0 L354.4 338.5 L355.3 339.0 L356.2 337.6 L357.2 338.0 L358.1 336.9 L359.0 337.9 L359.9 338.0 L360.8 340.3 L361.7 338.5 L362.7 338.0 L363.6 338.1 L364.3 335.9 L364.5 337.8 L365.4 338.9 L365.5 340.3 L366.3 339.4 L367.3 337.5 L368.2 339.2 L369.1 337.2 L370.0 337.9 L370.9 340.3 L371.8 337.3 L372.8 339.2 L373.7 337.9 L374.6 337.9 L375.5 338.7 L376.4 337.4 L377.4 337.1 L378.2 335.9 L378.3 338.3 L379.2 337.7 L380.1 335.9 L381.0 338.5 L382.0 338.4 L382.9 338.4 L383.8 338.9 L384.7 337.6 L385.6 337.9 L386.2 335.9 L386.5 338.2 L387.5 337.1 L387.9 335.9 L388.4 338.6 L389.3 338.4" stroke="#279414" stroke-width="1.6" fill="none" stroke-linejoin="round"/>
<g fill="#2c7412"><circle cx="225.8" cy="337.8" r="0.85"/><circle cx="226.7" cy="339.1" r="0.85"/><circle cx="227.6" cy="337.3" r="0.85"/><circle cx="228.6" cy="338.1" r="0.85"/><circle cx="229.5" cy="338.8" r="0.85"/><circle cx="230.4" cy="337.4" r="0.85"/><circle cx="231.3" cy="338.2" r="0.85"/><circle cx="232.2" cy="338.7" r="0.85"/><circle cx="233.1" cy="337.9" r="0.85"/><circle cx="234.1" cy="337.4" r="0.85"/><circle cx="235.0" cy="337.8" r="0.85"/><circle cx="235.9" cy="338.9" r="0.85"/><circle cx="236.8" cy="337.3" r="0.85"/><circle cx="237.7" cy="337.6" r="0.85"/><circle cx="238.7" cy="337.8" r="0.85"/><circle cx="239.6" cy="337.9" r="0.85"/><circle cx="240.5" cy="337.4" r="0.85"/><circle cx="241.4" cy="338.3" r="0.85"/><circle cx="242.3" cy="338.9" r="0.85"/><circle cx="243.3" cy="337.1" r="0.85"/><circle cx="244.2" cy="338.6" r="0.85"/><circle cx="245.1" cy="338.8" r="0.85"/><circle cx="246.0" cy="337.6" r="0.85"/><circle cx="246.9" cy="338.0" r="0.85"/><circle cx="247.8" cy="338.3" r="0.85"/><circle cx="248.8" cy="338.2" r="0.85"/><circle cx="249.7" cy="337.5" r="0.85"/><circle cx="250.6" cy="337.6" r="0.85"/><circle cx="251.5" cy="338.4" r="0.85"/><circle cx="252.4" cy="338.1" r="0.85"/><circle cx="253.4" cy="338.1" r="0.85"/><circle cx="255.2" cy="338.5" r="0.85"/><circle cx="256.1" cy="338.8" r="0.85"/><circle cx="257.0" cy="338.3" r="0.85"/><circle cx="257.9" cy="337.3" r="0.85"/><circle cx="258.9" cy="339.7" r="0.85"/><circle cx="259.8" cy="339.2" r="0.85"/><circle cx="260.7" cy="338.0" r="0.85"/><circle cx="261.6" cy="338.3" r="0.85"/><circle cx="262.5" cy="339.0" r="0.85"/><circle cx="263.5" cy="337.8" r="0.85"/><circle cx="264.4" cy="338.5" r="0.85"/><circle cx="265.3" cy="337.9" r="0.85"/><circle cx="266.2" cy="337.8" r="0.85"/><circle cx="267.1" cy="337.3" r="0.85"/><circle cx="268.1" cy="338.0" r="0.85"/><circle cx="269.0" cy="338.1" r="0.85"/><circle cx="269.9" cy="338.0" r="0.85"/><circle cx="270.8" cy="338.4" r="0.85"/><circle cx="271.7" cy="339.6" r="0.85"/><circle cx="272.6" cy="338.3" r="0.85"/><circle cx="273.6" cy="338.8" r="0.85"/><circle cx="274.5" cy="338.0" r="0.85"/><circle cx="275.4" cy="338.2" r="0.85"/><circle cx="276.3" cy="338.7" r="0.85"/><circle cx="277.2" cy="338.3" r="0.85"/><circle cx="278.2" cy="337.9" r="0.85"/><circle cx="279.1" cy="338.2" r="0.85"/><circle cx="280.0" cy="338.5" r="0.85"/><circle cx="280.9" cy="338.1" r="0.85"/><circle cx="281.8" cy="338.4" r="0.85"/><circle cx="282.7" cy="339.1" r="0.85"/><circle cx="283.7" cy="339.1" r="0.85"/><circle cx="284.6" cy="338.9" r="0.85"/><circle cx="285.5" cy="338.5" r="0.85"/><circle cx="286.4" cy="338.8" r="0.85"/><circle cx="287.3" cy="338.1" r="0.85"/><circle cx="288.3" cy="338.1" r="0.85"/><circle cx="289.2" cy="338.0" r="0.85"/><circle cx="290.1" cy="338.3" r="0.85"/><circle cx="291.0" cy="338.1" r="0.85"/><circle cx="291.9" cy="337.3" r="0.85"/><circle cx="292.9" cy="338.3" r="0.85"/><circle cx="293.8" cy="337.3" r="0.85"/><circle cx="294.7" cy="337.9" r="0.85"/><circle cx="295.6" cy="339.0" r="0.85"/><circle cx="296.5" cy="338.0" r="0.85"/><circle cx="297.4" cy="338.8" r="0.85"/><circle cx="298.4" cy="338.3" r="0.85"/><circle cx="299.3" cy="338.4" r="0.85"/><circle cx="300.2" cy="338.4" r="0.85"/><circle cx="301.1" cy="338.2" r="0.85"/><circle cx="302.0" cy="338.1" r="0.85"/><circle cx="303.0" cy="337.6" r="0.85"/><circle cx="303.9" cy="336.9" r="0.85"/><circle cx="304.8" cy="338.7" r="0.85"/><circle cx="305.7" cy="338.3" r="0.85"/><circle cx="306.6" cy="338.2" r="0.85"/><circle cx="307.6" cy="337.6" r="0.85"/><circle cx="308.5" cy="338.5" r="0.85"/><circle cx="309.4" cy="338.1" r="0.85"/><circle cx="310.3" cy="338.6" r="0.85"/><circle cx="311.2" cy="337.9" r="0.85"/><circle cx="312.1" cy="338.4" r="0.85"/><circle cx="313.1" cy="338.3" r="0.85"/><circle cx="314.0" cy="338.2" r="0.85"/><circle cx="314.9" cy="338.0" r="0.85"/><circle cx="315.8" cy="338.1" r="0.85"/><circle cx="316.7" cy="338.5" r="0.85"/><circle cx="317.7" cy="337.6" r="0.85"/><circle cx="318.6" cy="337.4" r="0.85"/><circle cx="319.5" cy="338.1" r="0.85"/><circle cx="320.4" cy="338.9" r="0.85"/><circle cx="321.3" cy="337.8" r="0.85"/><circle cx="322.2" cy="338.1" r="0.85"/><circle cx="323.2" cy="338.1" r="0.85"/><circle cx="324.1" cy="338.8" r="0.85"/><circle cx="325.0" cy="337.3" r="0.85"/><circle cx="325.9" cy="338.4" r="0.85"/><circle cx="326.8" cy="338.4" r="0.85"/><circle cx="327.8" cy="339.0" r="0.85"/><circle cx="328.7" cy="337.1" r="0.85"/><circle cx="329.6" cy="338.1" r="0.85"/><circle cx="331.4" cy="338.6" r="0.85"/><circle cx="332.4" cy="337.9" r="0.85"/><circle cx="333.3" cy="338.6" r="0.85"/><circle cx="334.2" cy="337.7" r="0.85"/><circle cx="335.1" cy="337.4" r="0.85"/><circle cx="336.0" cy="337.2" r="0.85"/><circle cx="336.9" cy="337.9" r="0.85"/><circle cx="337.9" cy="337.7" r="0.85"/><circle cx="338.8" cy="337.8" r="0.85"/><circle cx="339.7" cy="338.0" r="0.85"/><circle cx="340.6" cy="338.5" r="0.85"/><circle cx="341.5" cy="338.3" r="0.85"/><circle cx="342.5" cy="337.5" r="0.85"/><circle cx="343.4" cy="337.7" r="0.85"/><circle cx="344.3" cy="337.4" r="0.85"/><circle cx="345.2" cy="337.9" r="0.85"/><circle cx="346.1" cy="338.1" r="0.85"/><circle cx="347.0" cy="338.5" r="0.85"/><circle cx="348.0" cy="338.9" r="0.85"/><circle cx="348.9" cy="338.4" r="0.85"/><circle cx="349.8" cy="338.0" r="0.85"/><circle cx="350.7" cy="338.0" r="0.85"/><circle cx="351.6" cy="338.5" r="0.85"/><circle cx="352.6" cy="337.9" r="0.85"/><circle cx="353.5" cy="339.0" r="0.85"/><circle cx="354.4" cy="338.5" r="0.85"/><circle cx="355.3" cy="339.0" r="0.85"/><circle cx="356.2" cy="337.6" r="0.85"/><circle cx="357.2" cy="338.0" r="0.85"/><circle cx="358.1" cy="336.9" r="0.85"/><circle cx="359.0" cy="337.9" r="0.85"/><circle cx="359.9" cy="338.0" r="0.85"/><circle cx="361.7" cy="338.5" r="0.85"/><circle cx="362.7" cy="338.0" r="0.85"/><circle cx="363.6" cy="338.1" r="0.85"/><circle cx="364.5" cy="337.8" r="0.85"/><circle cx="365.4" cy="338.9" r="0.85"/><circle cx="366.3" cy="339.4" r="0.85"/><circle cx="367.3" cy="337.5" r="0.85"/><circle cx="368.2" cy="339.2" r="0.85"/><circle cx="369.1" cy="337.2" r="0.85"/><circle cx="370.0" cy="337.9" r="0.85"/><circle cx="371.8" cy="337.3" r="0.85"/><circle cx="372.8" cy="339.2" r="0.85"/><circle cx="373.7" cy="337.9" r="0.85"/><circle cx="374.6" cy="337.9" r="0.85"/><circle cx="375.5" cy="338.7" r="0.85"/><circle cx="376.4" cy="337.4" r="0.85"/><circle cx="377.4" cy="337.1" r="0.85"/><circle cx="378.3" cy="338.3" r="0.85"/><circle cx="379.2" cy="337.7" r="0.85"/><circle cx="381.0" cy="338.5" r="0.85"/><circle cx="382.0" cy="338.4" r="0.85"/><circle cx="382.9" cy="338.4" r="0.85"/><circle cx="383.8" cy="338.9" r="0.85"/><circle cx="384.7" cy="337.6" r="0.85"/><circle cx="385.6" cy="337.9" r="0.85"/><circle cx="386.5" cy="338.2" r="0.85"/><circle cx="387.5" cy="337.1" r="0.85"/><circle cx="388.4" cy="338.6" r="0.85"/><circle cx="389.3" cy="338.4" r="0.85"/></g>
<g fill="#2b5016"><circle cx="232.5" cy="334.8" r="1.05"/><circle cx="235.2" cy="344.9" r="1.05"/><circle cx="252.8" cy="331.8" r="1.05"/><circle cx="254.3" cy="334.9" r="1.05"/><circle cx="254.6" cy="343.8" r="1.05"/><circle cx="265.8" cy="344.9" r="1.05"/><circle cx="269.7" cy="331.4" r="1.05"/><circle cx="274.2" cy="331.4" r="1.05"/><circle cx="280.3" cy="341.5" r="1.05"/><circle cx="290.6" cy="321.3" r="1.05"/><circle cx="325.5" cy="346.9" r="1.05"/><circle cx="330.5" cy="341.7" r="1.05"/><circle cx="360.8" cy="341.2" r="1.05"/><circle cx="364.3" cy="333.8" r="1.05"/><circle cx="365.5" cy="345.7" r="1.05"/><circle cx="370.9" cy="340.7" r="1.05"/><circle cx="378.2" cy="329.9" r="1.05"/><circle cx="380.1" cy="335.4" r="1.05"/><circle cx="386.2" cy="333.8" r="1.05"/><circle cx="387.9" cy="328.9" r="1.05"/></g>
<line x1="267.4" x2="267.4" y1="338.1" y2="287.5" stroke="#f5e0d2" stroke-width="1.1"/>
<line x1="267.4" x2="267.4" y1="338.1" y2="287.5" stroke="#a35c36" stroke-width="0.65"/>
<circle cx="267.4" cy="287.5" r="1.2" fill="#4a3020"/>
<line x1="292.4" x2="292.4" y1="338.1" y2="383.75" stroke="#f5e0d2" stroke-width="1.1"/>
<line x1="292.4" x2="292.4" y1="338.1" y2="383.75" stroke="#a35c36" stroke-width="0.65"/>
<circle cx="292.4" cy="383.75" r="1.2" fill="#4a3020"/>
<line x1="380" x2="380" y1="286.9" y2="384.75" stroke="#6660dd" stroke-width="1.0" stroke-dasharray="1.4 0.5"/>
<line x1="388.2" x2="388.2" y1="286.9" y2="384.75" stroke="#6660dd" stroke-width="1.0" stroke-dasharray="1.4 0.5"/>
<rect x="218.5" y="282.4" width="178.5" height="106.85000000000002" fill="none" stroke="#7c7c7c" stroke-width="0.95"/>
<line x1="216.9" x2="218.5" y1="387.10" y2="387.10" stroke="#555" stroke-width="0.45"/>
<text x="216.2" y="388.35" text-anchor="end" font-size="3.5" fill="#1a1a1a" dy="0.35">−0.20</text>
<line x1="216.9" x2="218.5" y1="374.85" y2="374.85" stroke="#555" stroke-width="0.45"/>
<text x="216.2" y="376.10" text-anchor="end" font-size="3.5" fill="#1a1a1a" dy="0.35">−0.15</text>
<line x1="216.9" x2="218.5" y1="362.60" y2="362.60" stroke="#555" stroke-width="0.45"/>
<text x="216.2" y="363.85" text-anchor="end" font-size="3.5" fill="#1a1a1a" dy="0.35">−0.10</text>
<line x1="216.9" x2="218.5" y1="350.35" y2="350.35" stroke="#555" stroke-width="0.45"/>
<text x="216.2" y="351.60" text-anchor="end" font-size="3.5" fill="#1a1a1a" dy="0.35">−0.05</text>
<line x1="216.9" x2="218.5" y1="338.10" y2="338.10" stroke="#555" stroke-width="0.45"/>
<text x="216.2" y="339.35" text-anchor="end" font-size="3.5" fill="#1a1a1a" dy="0.35">0.00</text>
<line x1="216.9" x2="218.5" y1="325.85" y2="325.85" stroke="#555" stroke-width="0.45"/>
<text x="216.2" y="327.10" text-anchor="end" font-size="3.5" fill="#1a1a1a" dy="0.35">0.05</text>
<line x1="216.9" x2="218.5" y1="313.60" y2="313.60" stroke="#555" stroke-width="0.45"/>
<text x="216.2" y="314.85" text-anchor="end" font-size="3.5" fill="#1a1a1a" dy="0.35">0.10</text>
<line x1="216.9" x2="218.5" y1="301.35" y2="301.35" stroke="#555" stroke-width="0.45"/>
<text x="216.2" y="302.60" text-anchor="end" font-size="3.5" fill="#1a1a1a" dy="0.35">0.15</text>
<line x1="216.9" x2="218.5" y1="289.10" y2="289.10" stroke="#555" stroke-width="0.45"/>
<text x="216.2" y="290.35" text-anchor="end" font-size="3.5" fill="#1a1a1a" dy="0.35">0.20</text>
<line x1="226.3" x2="226.3" y1="389.25" y2="390.85" stroke="#555" stroke-width="0.45"/>
<text class="xl" transform="translate(225.15,391.4) rotate(90)" font-size="3.6" font-weight="bold" fill="#2a2a2a">22:46</text>
<line x1="231.9" x2="231.9" y1="389.25" y2="390.85" stroke="#555" stroke-width="0.45"/>
<text class="xl" transform="translate(230.75,391.4) rotate(90)" font-size="3.6" font-weight="bold" fill="#2a2a2a">20:48</text>
<line x1="237.5" x2="237.5" y1="389.25" y2="390.85" stroke="#555" stroke-width="0.45"/>
<text class="xl" transform="translate(236.35,391.4) rotate(90)" font-size="3.6" font-weight="bold" fill="#2a2a2a">21:39</text>
<line x1="243.2" x2="243.2" y1="389.25" y2="390.85" stroke="#555" stroke-width="0.45"/>
<text class="xl" transform="translate(242.05,391.4) rotate(90)" font-size="3.6" font-weight="bold" fill="#2a2a2a">16:34</text>
<line x1="247.7" x2="247.7" y1="389.25" y2="390.85" stroke="#555" stroke-width="0.45"/>
<text class="xl" transform="translate(246.55,391.4) rotate(90)" font-size="3.6" font-weight="bold" fill="#2a2a2a">18:37</text>
<line x1="249.9" x2="249.9" y1="389.25" y2="390.85" stroke="#555" stroke-width="0.45"/>
<text class="xl" transform="translate(248.75,391.4) rotate(90)" font-size="3.6" font-weight="bold" fill="#2a2a2a">18:23</text>
<line x1="260" x2="260" y1="389.25" y2="390.85" stroke="#555" stroke-width="0.45"/>
<text class="xl" transform="translate(258.85,391.4) rotate(90)" font-size="3.6" font-weight="bold" fill="#2a2a2a">15:29</text>
<line x1="265.7" x2="265.7" y1="389.25" y2="390.85" stroke="#555" stroke-width="0.45"/>
<text class="xl" transform="translate(264.55,391.4) rotate(90)" font-size="3.6" font-weight="bold" fill="#2a2a2a">15:32</text>
<line x1="273.1" x2="273.1" y1="389.25" y2="390.85" stroke="#555" stroke-width="0.45"/>
<text class="xl" transform="translate(271.95,391.4) rotate(90)" font-size="3.6" font-weight="bold" fill="#2a2a2a">15:42</text>
<line x1="275.8" x2="275.8" y1="389.25" y2="390.85" stroke="#555" stroke-width="0.45"/>
<text class="xl" transform="translate(274.65,391.4) rotate(90)" font-size="3.6" font-weight="bold" fill="#2a2a2a">19:28</text>
<line x1="284.8" x2="284.8" y1="389.25" y2="390.85" stroke="#555" stroke-width="0.45"/>
<text class="xl" transform="translate(283.65,391.4) rotate(90)" font-size="3.6" font-weight="bold" fill="#2a2a2a">10:10</text>
<line x1="298.3" x2="298.3" y1="389.25" y2="390.85" stroke="#555" stroke-width="0.45"/>
<text class="xl" transform="translate(297.15,391.4) rotate(90)" font-size="3.6" font-weight="bold" fill="#2a2a2a">15:48</text>
<line x1="315.5" x2="315.5" y1="389.25" y2="390.85" stroke="#555" stroke-width="0.45"/>
<text class="xl" transform="translate(314.35,391.4) rotate(90)" font-size="3.6" font-weight="bold" fill="#2a2a2a">10:28</text>
<line x1="328.75" x2="328.75" y1="389.25" y2="390.85" stroke="#555" stroke-width="0.45"/>
<text class="xl" transform="translate(327.60,391.4) rotate(90)" font-size="3.6" font-weight="bold" fill="#2a2a2a">23:43</text>
<line x1="336.25" x2="336.25" y1="389.25" y2="390.85" stroke="#555" stroke-width="0.45"/>
<text class="xl" transform="translate(335.10,391.4) rotate(90)" font-size="3.6" font-weight="bold" fill="#2a2a2a">11:58</text>
<line x1="340" x2="340" y1="389.25" y2="390.85" stroke="#555" stroke-width="0.45"/>
<text class="xl" transform="translate(338.85,391.4) rotate(90)" font-size="3.6" font-weight="bold" fill="#2a2a2a">20:14</text>
<line x1="343.75" x2="343.75" y1="389.25" y2="390.85" stroke="#555" stroke-width="0.45"/>
<text class="xl" transform="translate(342.60,391.4) rotate(90)" font-size="3.6" font-weight="bold" fill="#2a2a2a">18:33</text>
<line x1="347.5" x2="347.5" y1="389.25" y2="390.85" stroke="#555" stroke-width="0.45"/>
<text class="xl" transform="translate(346.35,391.4) rotate(90)" font-size="3.6" font-weight="bold" fill="#2a2a2a">16:20</text>
<line x1="353" x2="353" y1="389.25" y2="390.85" stroke="#555" stroke-width="0.45"/>
<text class="xl" transform="translate(351.85,391.4) rotate(90)" font-size="3.6" font-weight="bold" fill="#2a2a2a">14:22</text>
<line x1="358" x2="358" y1="389.25" y2="390.85" stroke="#555" stroke-width="0.45"/>
<text class="xl" transform="translate(356.85,391.4) rotate(90)" font-size="3.6" font-weight="bold" fill="#2a2a2a">15:32</text>
<line x1="361.25" x2="361.25" y1="389.25" y2="390.85" stroke="#555" stroke-width="0.45"/>
<text class="xl" transform="translate(360.10,391.4) rotate(90)" font-size="3.6" font-weight="bold" fill="#2a2a2a">15:59</text>
<line x1="366.25" x2="366.25" y1="389.25" y2="390.85" stroke="#555" stroke-width="0.45"/>
<text class="xl" transform="translate(365.10,391.4) rotate(90)" font-size="3.6" font-weight="bold" fill="#2a2a2a">19:30</text>
<line x1="370" x2="370" y1="389.25" y2="390.85" stroke="#555" stroke-width="0.45"/>
<text class="xl" transform="translate(368.85,391.4) rotate(90)" font-size="3.6" font-weight="bold" fill="#2a2a2a">22:57</text>
<line x1="379.5" x2="379.5" y1="389.25" y2="390.85" stroke="#555" stroke-width="0.45"/>
<text class="xl" transform="translate(378.35,391.4) rotate(90)" font-size="3.6" font-weight="bold" fill="#2a2a2a">14:54:00</text>
<line x1="387" x2="387" y1="389.25" y2="390.85" stroke="#555" stroke-width="0.45"/>
<text class="xl" transform="translate(385.85,391.4) rotate(90)" font-size="3.6" font-weight="bold" fill="#2a2a2a">15:37:00</text>
<text x="308.35" y="281.09999999999997" text-anchor="middle" font-size="4.2" fill="#111">SNM_2022-3-14 10:00</text>
<text x="306" y="410.3" text-anchor="middle" font-size="3.6" fill="#1a1a1a">datetime</text>
<text transform="translate(205,335.825) rotate(-90)" text-anchor="middle" font-size="3.6" fill="#1a1a1a">blu_volume</text>
<rect x="350.59999999999997" y="283.79999999999995" width="45.400000000000034" height="11.3" rx="0.6" fill="#fff" fill-opacity="0.95" stroke="#e0e0e0" stroke-width="0.4"/>
<line x1="352.4" x2="359.9" y1="286.9" y2="286.9" stroke="#5f5aee" stroke-width="0.7" stroke-dasharray="1.3 0.6"/>
<line x1="352.4" x2="359.9" y1="292.09999999999997" y2="292.09999999999997" stroke="#dccf80" stroke-width="0.7" stroke-dasharray="1.3 0.6"/>
<text x="362.2" y="288.2" font-size="3.55" fill="#1a1a1a">2022-3-14 10:00</text>
<text x="362.2" y="293.4" font-size="3.55" fill="#1a1a1a">anomalous volumes</text></g><g><rect x="18.25" y="420.4" width="179.15" height="106.60000000000002" fill="#fff"/>
<rect x="26" y="460" width="164" height="16" fill="#effcfb"/>
<rect x="177.6" y="451.7" width="5.2" height="17.80000000000001" fill="#fdf3f7"/>
<rect x="176.0" y="467.5" width="5.2" height="32.30000000000001" fill="#fdf3f7"/>
<rect x="171.5" y="437.5" width="5.2" height="32.0" fill="#fdf3f7"/>
<rect x="158.0" y="467.5" width="5.2" height="40.19999999999999" fill="#fdf3f7"/>
<rect x="149.0" y="467.5" width="5.2" height="30.5" fill="#fdf3f7"/>
<rect x="150.6" y="467.5" width="5.2" height="36.39999999999998" fill="#fdf3f7"/>
<rect x="143.8" y="448.3" width="5.2" height="21.19999999999999" fill="#fdf3f7"/>
<rect x="132.6" y="450.5" width="5.2" height="19.0" fill="#fdf3f7"/>
<rect x="117.2" y="444.2" width="5.2" height="25.30000000000001" fill="#fdf3f7"/>
<rect x="113.9" y="467.5" width="5.2" height="42.5" fill="#fdf3f7"/>
<rect x="72.4" y="450.5" width="5.2" height="19.0" fill="#fdf3f7"/>
<rect x="61.99999999999999" y="442.6" width="5.2" height="26.899999999999977" fill="#fdf3f7"/>
<rect x="60.0" y="467.5" width="5.2" height="56.0" fill="#fdf3f7"/>
<rect x="60.0" y="424" width="5.2" height="45.5" fill="#fdf3f7"/>
<rect x="51.9" y="467.5" width="5.2" height="31.19999999999999" fill="#fdf3f7"/>
<rect x="32.3" y="467.5" width="5.2" height="27.399999999999977" fill="#fdf3f7"/>
<rect x="56" y="421" width="16" height="105" fill="#fef6f9"/>
<rect x="112" y="440" width="10" height="72" fill="#fef6f9"/>
<rect x="145" y="446" width="17" height="64" fill="#fef6f9"/>
<rect x="172" y="436" width="11" height="66" fill="#fef6f9"/>
<line x1="27.1" x2="190.5" y1="453.8" y2="453.8" stroke="#dfc85e" stroke-width="0.8" stroke-dasharray="1.0 0.4"/>
<line x1="27.1" x2="190.5" y1="483.7" y2="483.7" stroke="#dfc85e" stroke-width="0.8" stroke-dasharray="1.0 0.4"/>
<path d="M27.0 468.5V462.0M27.6 468.5V472.1M29.0 468.5V474.0M30.0 468.5V482.6M31.0 468.5V472.6M33.5 468.5V473.3M44.6 468.5V457.2M54.7 468.5V459.4M73.0 468.5V471.1M73.5 468.5V462.1M73.9 468.5V478.0M80.4 468.5V473.4M81.7 468.5V479.0M83.8 468.5V460.0M85.8 468.5V462.3M89.3 468.5V472.6M95.7 468.5V480.4M103.6 468.5V466.1M104.6 468.5V472.6M112.5 468.5V476.9M115.0 468.5V474.4M119.9 468.5V472.0M120.9 468.5V461.3M124.8 468.5V464.8M126.6 468.5V479.7M126.6 468.5V454.2M133.2 468.5V472.2M133.7 468.5V459.5M134.2 468.5V473.8M140.3 468.5V481.3M146.4 468.5V481.3M151.0 468.5V462.9M151.6 468.5V456.5M154.0 468.5V464.5M156.4 468.5V463.2M156.5 468.5V475.9M158.4 468.5V460.5M159.4 468.5V463.9M160.4 468.5V472.3M167.3 468.5V464.1M174.1 468.5V479.7M177.6 468.5V472.5M184.7 468.5V480.4M189.2 468.5V462.8" stroke="#33602a" stroke-width="0.7" fill="none"/>
<path d="M26.6 468.7 L27.0 466.1 L27.1 468.0 L27.6 470.9 L28.1 468.7 L28.6 468.1 L29.0 470.9 L29.1 468.3 L29.6 468.0 L30.0 470.9 L30.1 468.1 L30.5 469.3 L31.0 470.9 L31.5 468.2 L32.0 468.1 L32.5 468.0 L33.0 467.4 L33.5 470.9 L34.0 468.6 L34.5 468.3 L35.0 469.5 L35.5 468.5 L36.0 467.9 L36.5 468.8 L37.0 467.5 L37.5 468.8 L38.0 468.7 L38.4 469.6 L38.9 466.7 L39.4 467.5 L39.9 468.0 L40.4 468.9 L40.9 467.8 L41.4 468.1 L41.9 468.3 L42.4 467.2 L42.9 467.9 L43.4 468.9 L43.9 469.4 L44.4 469.7 L44.6 466.1 L44.9 466.7 L45.4 469.1 L45.9 468.5 L46.3 470.1 L46.8 467.3 L47.3 469.1 L47.8 468.1 L48.3 469.8 L48.8 468.9 L49.3 469.0 L49.8 468.1 L50.3 468.6 L50.8 468.6 L51.3 468.6 L51.8 468.0 L52.3 468.7 L52.8 468.1 L53.3 469.3 L53.7 469.7 L54.2 467.2 L54.7 466.1 L54.7 468.9 L55.2 469.3 L55.7 467.9 L56.2 467.5 L56.7 468.6 L57.2 467.6 L57.7 467.8 L58.2 468.8 L58.7 468.7 L59.2 470.0 L59.7 470.2 L60.2 467.7 L60.7 467.8 L61.2 468.7 L61.6 468.0 L62.1 469.9 L62.6 468.3 L63.1 467.7 L63.6 468.8 L64.1 468.5 L64.6 469.3 L65.1 467.9 L65.6 469.4 L66.1 468.3 L66.6 467.4 L67.1 469.7 L67.6 469.5 L68.1 468.4 L68.6 467.6 L69.1 470.0 L69.5 468.4 L70.0 469.1 L70.5 468.4 L71.0 468.0 L71.5 469.8 L72.0 468.1 L72.5 468.3 L73.0 470.9 L73.5 466.1 L73.9 470.9 L74.0 467.4 L74.5 467.8 L75.0 468.5 L75.5 469.5 L76.0 469.3 L76.5 467.1 L76.9 470.3 L77.4 467.2 L77.9 468.1 L78.4 468.1 L78.9 467.5 L79.4 467.2 L79.9 469.2 L80.4 470.9 L80.9 467.6 L81.4 468.9 L81.7 470.9 L81.9 468.3 L82.4 467.8 L82.9 469.1 L83.4 468.9 L83.8 466.1 L83.9 467.8 L84.4 469.0 L84.8 467.7 L85.3 469.0 L85.8 466.1 L86.3 468.7 L86.8 468.4 L87.3 469.0 L87.8 468.3 L88.3 468.3 L88.8 470.0 L89.3 470.9 L89.8 468.4 L90.3 469.6 L90.8 467.7 L91.3 469.0 L91.8 469.9 L92.3 468.6 L92.7 470.6 L93.2 468.2 L93.7 467.8 L94.2 468.7 L94.7 468.2 L95.2 468.9 L95.7 470.9 L95.7 467.9 L96.2 468.2 L96.7 468.1 L97.2 470.4 L97.7 468.8 L98.2 468.9 L98.7 468.1 L99.2 466.3 L99.7 466.8 L100.1 468.6 L100.6 469.3 L101.1 468.6 L101.6 468.5 L102.1 468.7 L102.6 467.7 L103.1 468.4 L103.6 466.1 L104.1 467.5 L104.6 470.9 L105.1 468.1 L105.6 470.2 L106.1 467.6 L106.6 467.3 L107.1 466.9 L107.6 468.2 L108.0 468.3 L108.5 466.6 L109.0 467.6 L109.5 467.0 L110.0 467.6 L110.5 469.3 L111.0 468.3 L111.5 468.6 L112.0 468.0 L112.5 470.9 L113.0 468.2 L113.5 469.1 L114.0 468.6 L114.5 468.7 L115.0 470.9 L115.5 469.1 L115.9 468.7 L116.4 467.2 L116.9 467.5 L117.4 468.0 L117.9 469.3 L118.4 467.7 L118.9 468.6 L119.4 469.1 L119.9 470.9 L120.4 469.8 L120.9 466.1 L121.4 468.9 L121.9 469.1 L122.4 469.0 L122.9 468.4 L123.3 466.2 L123.8 469.1 L124.3 467.7 L124.8 466.1 L125.3 468.7 L125.8 467.2 L126.3 467.1 L126.6 470.9 L126.6 466.1 L126.8 467.6 L127.3 469.1 L127.8 468.0 L128.3 466.8 L128.8 469.0 L129.3 468.2 L129.8 469.7 L130.3 469.2 L130.8 468.5 L131.2 467.9 L131.7 469.8 L132.2 468.8 L132.7 469.5 L133.2 470.9 L133.7 466.1 L134.2 470.9 L134.7 467.8 L135.2 468.6 L135.7 468.5 L136.2 469.6 L136.7 468.5 L137.2 468.6 L137.7 469.2 L138.2 468.6 L138.7 469.1 L139.1 469.4 L139.6 468.5 L140.1 468.4 L140.3 470.9 L140.6 469.7 L141.1 468.1 L141.6 467.9 L142.1 468.6 L142.6 468.6 L143.1 469.2 L143.6 469.7 L144.1 469.5 L144.6 468.6 L145.1 468.0 L145.6 468.9 L146.1 467.5 L146.4 470.9 L146.5 468.4 L147.0 469.2 L147.5 468.3 L148.0 468.2 L148.5 467.3 L149.0 468.0 L149.5 468.6 L150.0 467.4 L150.5 469.4 L151.0 466.1 L151.5 468.5 L151.6 466.1 L152.0 468.6 L152.5 469.4 L153.0 468.9 L153.5 467.8 L154.0 466.1 L154.4 468.7 L154.9 469.9 L155.4 467.3 L155.9 468.4 L156.4 466.1 L156.5 470.9 L156.9 467.1 L157.4 466.6 L157.9 468.3 L158.4 466.1 L158.9 467.4 L159.4 466.1 L159.9 468.5 L160.4 470.9 L160.9 469.1 L161.4 468.1 L161.9 469.0 L162.3 469.3 L162.8 468.7 L163.3 468.9 L163.8 470.1 L164.3 468.5 L164.8 469.3 L165.3 467.2 L165.8 468.5 L166.3 467.9 L166.8 469.6 L167.3 466.1 L167.8 468.5 L168.3 469.1 L168.8 469.7 L169.3 468.5 L169.7 470.1 L170.2 468.8 L170.7 467.8 L171.2 469.0 L171.7 469.1 L172.2 467.0 L172.7 469.9 L173.2 467.8 L173.7 468.9 L174.1 470.9 L174.2 468.5 L174.7 469.5 L175.2 468.7 L175.7 468.4 L176.2 468.0 L176.7 467.9 L177.2 469.7 L177.6 470.9 L178.1 467.7 L178.6 469.0 L179.1 469.1 L179.6 469.4 L180.1 469.6 L180.6 469.7 L181.1 468.7 L181.6 468.6 L182.1 468.6 L182.6 467.2 L183.1 468.8 L183.6 468.4 L184.1 467.8 L184.6 468.6 L184.7 470.9 L185.1 468.3 L185.5 469.1 L186.0 468.2 L186.5 468.5 L187.0 468.3 L187.5 468.7 L188.0 469.0 L188.5 469.1 L189.0 468.5 L189.2 466.1" stroke="#279414" stroke-width="1.8" fill="none" stroke-linejoin="round"/>
<g fill="#2c7412"><circle cx="26.6" cy="468.7" r="1.0"/><circle cx="27.1" cy="468.0" r="1.0"/><circle cx="28.1" cy="468.7" r="1.0"/><circle cx="28.6" cy="468.1" r="1.0"/><circle cx="29.1" cy="468.3" r="1.0"/><circle cx="29.6" cy="468.0" r="1.0"/><circle cx="30.1" cy="468.1" r="1.0"/><circle cx="30.5" cy="469.3" r="1.0"/><circle cx="31.5" cy="468.2" r="1.0"/><circle cx="32.0" cy="468.1" r="1.0"/><circle cx="32.5" cy="468.0" r="1.0"/><circle cx="33.0" cy="467.4" r="1.0"/><circle cx="34.0" cy="468.6" r="1.0"/><circle cx="34.5" cy="468.3" r="1.0"/><circle cx="35.0" cy="469.5" r="1.0"/><circle cx="35.5" cy="468.5" r="1.0"/><circle cx="36.0" cy="467.9" r="1.0"/><circle cx="36.5" cy="468.8" r="1.0"/><circle cx="37.0" cy="467.5" r="1.0"/><circle cx="37.5" cy="468.8" r="1.0"/><circle cx="38.0" cy="468.7" r="1.0"/><circle cx="38.4" cy="469.6" r="1.0"/><circle cx="38.9" cy="466.7" r="1.0"/><circle cx="39.4" cy="467.5" r="1.0"/><circle cx="39.9" cy="468.0" r="1.0"/><circle cx="40.4" cy="468.9" r="1.0"/><circle cx="40.9" cy="467.8" r="1.0"/><circle cx="41.4" cy="468.1" r="1.0"/><circle cx="41.9" cy="468.3" r="1.0"/><circle cx="42.4" cy="467.2" r="1.0"/><circle cx="42.9" cy="467.9" r="1.0"/><circle cx="43.4" cy="468.9" r="1.0"/><circle cx="43.9" cy="469.4" r="1.0"/><circle cx="44.4" cy="469.7" r="1.0"/><circle cx="44.9" cy="466.7" r="1.0"/><circle cx="45.4" cy="469.1" r="1.0"/><circle cx="45.9" cy="468.5" r="1.0"/><circle cx="46.3" cy="470.1" r="1.0"/><circle cx="46.8" cy="467.3" r="1.0"/><circle cx="47.3" cy="469.1" r="1.0"/><circle cx="47.8" cy="468.1" r="1.0"/><circle cx="48.3" cy="469.8" r="1.0"/><circle cx="48.8" cy="468.9" r="1.0"/><circle cx="49.3" cy="469.0" r="1.0"/><circle cx="49.8" cy="468.1" r="1.0"/><circle cx="50.3" cy="468.6" r="1.0"/><circle cx="50.8" cy="468.6" r="1.0"/><circle cx="51.3" cy="468.6" r="1.0"/><circle cx="51.8" cy="468.0" r="1.0"/><circle cx="52.3" cy="468.7" r="1.0"/><circle cx="52.8" cy="468.1" r="1.0"/><circle cx="53.3" cy="469.3" r="1.0"/><circle cx="53.7" cy="469.7" r="1.0"/><circle cx="54.2" cy="467.2" r="1.0"/><circle cx="54.7" cy="468.9" r="1.0"/><circle cx="55.2" cy="469.3" r="1.0"/><circle cx="55.7" cy="467.9" r="1.0"/><circle cx="56.2" cy="467.5" r="1.0"/><circle cx="56.7" cy="468.6" r="1.0"/><circle cx="57.2" cy="467.6" r="1.0"/><circle cx="57.7" cy="467.8" r="1.0"/><circle cx="58.2" cy="468.8" r="1.0"/><circle cx="58.7" cy="468.7" r="1.0"/><circle cx="59.2" cy="470.0" r="1.0"/><circle cx="59.7" cy="470.2" r="1.0"/><circle cx="60.2" cy="467.7" r="1.0"/><circle cx="60.7" cy="467.8" r="1.0"/><circle cx="61.2" cy="468.7" r="1.0"/><circle cx="61.6" cy="468.0" r="1.0"/><circle cx="62.1" cy="469.9" r="1.0"/><circle cx="62.6" cy="468.3" r="1.0"/><circle cx="63.1" cy="467.7" r="1.0"/><circle cx="63.6" cy="468.8" r="1.0"/><circle cx="64.1" cy="468.5" r="1.0"/><circle cx="64.6" cy="469.3" r="1.0"/><circle cx="65.1" cy="467.9" r="1.0"/><circle cx="65.6" cy="469.4" r="1.0"/><circle cx="66.1" cy="468.3" r="1.0"/><circle cx="66.6" cy="467.4" r="1.0"/><circle cx="67.1" cy="469.7" r="1.0"/><circle cx="67.6" cy="469.5" r="1.0"/><circle cx="68.1" cy="468.4" r="1.0"/><circle cx="68.6" cy="467.6" r="1.0"/><circle cx="69.1" cy="470.0" r="1.0"/><circle cx="69.5" cy="468.4" r="1.0"/><circle cx="70.0" cy="469.1" r="1.0"/><circle cx="70.5" cy="468.4" r="1.0"/><circle cx="71.0" cy="468.0" r="1.0"/><circle cx="71.5" cy="469.8" r="1.0"/><circle cx="72.0" cy="468.1" r="1.0"/><circle cx="72.5" cy="468.3" r="1.0"/><circle cx="74.0" cy="467.4" r="1.0"/><circle cx="74.5" cy="467.8" r="1.0"/><circle cx="75.0" cy="468.5" r="1.0"/><circle cx="75.5" cy="469.5" r="1.0"/><circle cx="76.0" cy="469.3" r="1.0"/><circle cx="76.5" cy="467.1" r="1.0"/><circle cx="76.9" cy="470.3" r="1.0"/><circle cx="77.4" cy="467.2" r="1.0"/><circle cx="77.9" cy="468.1" r="1.0"/><circle cx="78.4" cy="468.1" r="1.0"/><circle cx="78.9" cy="467.5" r="1.0"/><circle cx="79.4" cy="467.2" r="1.0"/><circle cx="79.9" cy="469.2" r="1.0"/><circle cx="80.9" cy="467.6" r="1.0"/><circle cx="81.4" cy="468.9" r="1.0"/><circle cx="81.9" cy="468.3" r="1.0"/><circle cx="82.4" cy="467.8" r="1.0"/><circle cx="82.9" cy="469.1" r="1.0"/><circle cx="83.4" cy="468.9" r="1.0"/><circle cx="83.9" cy="467.8" r="1.0"/><circle cx="84.4" cy="469.0" r="1.0"/><circle cx="84.8" cy="467.7" r="1.0"/><circle cx="85.3" cy="469.0" r="1.0"/><circle cx="86.3" cy="468.7" r="1.0"/><circle cx="86.8" cy="468.4" r="1.0"/><circle cx="87.3" cy="469.0" r="1.0"/><circle cx="87.8" cy="468.3" r="1.0"/><circle cx="88.3" cy="468.3" r="1.0"/><circle cx="88.8" cy="470.0" r="1.0"/><circle cx="89.8" cy="468.4" r="1.0"/><circle cx="90.3" cy="469.6" r="1.0"/><circle cx="90.8" cy="467.7" r="1.0"/><circle cx="91.3" cy="469.0" r="1.0"/><circle cx="91.8" cy="469.9" r="1.0"/><circle cx="92.3" cy="468.6" r="1.0"/><circle cx="92.7" cy="470.6" r="1.0"/><circle cx="93.2" cy="468.2" r="1.0"/><circle cx="93.7" cy="467.8" r="1.0"/><circle cx="94.2" cy="468.7" r="1.0"/><circle cx="94.7" cy="468.2" r="1.0"/><circle cx="95.2" cy="468.9" r="1.0"/><circle cx="95.7" cy="467.9" r="1.0"/><circle cx="96.2" cy="468.2" r="1.0"/><circle cx="96.7" cy="468.1" r="1.0"/><circle cx="97.2" cy="470.4" r="1.0"/><circle cx="97.7" cy="468.8" r="1.0"/><circle cx="98.2" cy="468.9" r="1.0"/><circle cx="98.7" cy="468.1" r="1.0"/><circle cx="99.2" cy="466.3" r="1.0"/><circle cx="99.7" cy="466.8" r="1.0"/><circle cx="100.1" cy="468.6" r="1.0"/><circle cx="100.6" cy="469.3" r="1.0"/><circle cx="101.1" cy="468.6" r="1.0"/><circle cx="101.6" cy="468.5" r="1.0"/><circle cx="102.1" cy="468.7" r="1.0"/><circle cx="102.6" cy="467.7" r="1.0"/><circle cx="103.1" cy="468.4" r="1.0"/><circle cx="104.1" cy="467.5" r="1.0"/><circle cx="105.1" cy="468.1" r="1.0"/><circle cx="105.6" cy="470.2" r="1.0"/><circle cx="106.1" cy="467.6" r="1.0"/><circle cx="106.6" cy="467.3" r="1.0"/><circle cx="107.1" cy="466.9" r="1.0"/><circle cx="107.6" cy="468.2" r="1.0"/><circle cx="108.0" cy="468.3" r="1.0"/><circle cx="108.5" cy="466.6" r="1.0"/><circle cx="109.0" cy="467.6" r="1.0"/><circle cx="109.5" cy="467.0" r="1.0"/><circle cx="110.0" cy="467.6" r="1.0"/><circle cx="110.5" cy="469.3" r="1.0"/><circle cx="111.0" cy="468.3" r="1.0"/><circle cx="111.5" cy="468.6" r="1.0"/><circle cx="112.0" cy="468.0" r="1.0"/><circle cx="113.0" cy="468.2" r="1.0"/><circle cx="113.5" cy="469.1" r="1.0"/><circle cx="114.0" cy="468.6" r="1.0"/><circle cx="114.5" cy="468.7" r="1.0"/><circle cx="115.5" cy="469.1" r="1.0"/><circle cx="115.9" cy="468.7" r="1.0"/><circle cx="116.4" cy="467.2" r="1.0"/><circle cx="116.9" cy="467.5" r="1.0"/><circle cx="117.4" cy="468.0" r="1.0"/><circle cx="117.9" cy="469.3" r="1.0"/><circle cx="118.4" cy="467.7" r="1.0"/><circle cx="118.9" cy="468.6" r="1.0"/><circle cx="119.4" cy="469.1" r="1.0"/><circle cx="120.4" cy="469.8" r="1.0"/><circle cx="121.4" cy="468.9" r="1.0"/><circle cx="121.9" cy="469.1" r="1.0"/><circle cx="122.4" cy="469.0" r="1.0"/><circle cx="122.9" cy="468.4" r="1.0"/><circle cx="123.3" cy="466.2" r="1.0"/><circle cx="123.8" cy="469.1" r="1.0"/><circle cx="124.3" cy="467.7" r="1.0"/><circle cx="125.3" cy="468.7" r="1.0"/><circle cx="125.8" cy="467.2" r="1.0"/><circle cx="126.3" cy="467.1" r="1.0"/><circle cx="126.8" cy="467.6" r="1.0"/><circle cx="127.3" cy="469.1" r="1.0"/><circle cx="127.8" cy="468.0" r="1.0"/><circle cx="128.3" cy="466.8" r="1.0"/><circle cx="128.8" cy="469.0" r="1.0"/><circle cx="129.3" cy="468.2" r="1.0"/><circle cx="129.8" cy="469.7" r="1.0"/><circle cx="130.3" cy="469.2" r="1.0"/><circle cx="130.8" cy="468.5" r="1.0"/><circle cx="131.2" cy="467.9" r="1.0"/><circle cx="131.7" cy="469.8" r="1.0"/><circle cx="132.2" cy="468.8" r="1.0"/><circle cx="132.7" cy="469.5" r="1.0"/><circle cx="134.7" cy="467.8" r="1.0"/><circle cx="135.2" cy="468.6" r="1.0"/><circle cx="135.7" cy="468.5" r="1.0"/><circle cx="136.2" cy="469.6" r="1.0"/><circle cx="136.7" cy="468.5" r="1.0"/><circle cx="137.2" cy="468.6" r="1.0"/><circle cx="137.7" cy="469.2" r="1.0"/><circle cx="138.2" cy="468.6" r="1.0"/><circle cx="138.7" cy="469.1" r="1.0"/><circle cx="139.1" cy="469.4" r="1.0"/><circle cx="139.6" cy="468.5" r="1.0"/><circle cx="140.1" cy="468.4" r="1.0"/><circle cx="140.6" cy="469.7" r="1.0"/><circle cx="141.1" cy="468.1" r="1.0"/><circle cx="141.6" cy="467.9" r="1.0"/><circle cx="142.1" cy="468.6" r="1.0"/><circle cx="142.6" cy="468.6" r="1.0"/><circle cx="143.1" cy="469.2" r="1.0"/><circle cx="143.6" cy="469.7" r="1.0"/><circle cx="144.1" cy="469.5" r="1.0"/><circle cx="144.6" cy="468.6" r="1.0"/><circle cx="145.1" cy="468.0" r="1.0"/><circle cx="145.6" cy="468.9" r="1.0"/><circle cx="146.1" cy="467.5" r="1.0"/><circle cx="146.5" cy="468.4" r="1.0"/><circle cx="147.0" cy="469.2" r="1.0"/><circle cx="147.5" cy="468.3" r="1.0"/><circle cx="148.0" cy="468.2" r="1.0"/><circle cx="148.5" cy="467.3" r="1.0"/><circle cx="149.0" cy="468.0" r="1.0"/><circle cx="149.5" cy="468.6" r="1.0"/><circle cx="150.0" cy="467.4" r="1.0"/><circle cx="150.5" cy="469.4" r="1.0"/><circle cx="151.5" cy="468.5" r="1.0"/><circle cx="152.0" cy="468.6" r="1.0"/><circle cx="152.5" cy="469.4" r="1.0"/><circle cx="153.0" cy="468.9" r="1.0"/><circle cx="153.5" cy="467.8" r="1.0"/><circle cx="154.4" cy="468.7" r="1.0"/><circle cx="154.9" cy="469.9" r="1.0"/><circle cx="155.4" cy="467.3" r="1.0"/><circle cx="155.9" cy="468.4" r="1.0"/><circle cx="156.9" cy="467.1" r="1.0"/><circle cx="157.4" cy="466.6" r="1.0"/><circle cx="157.9" cy="468.3" r="1.0"/><circle cx="158.9" cy="467.4" r="1.0"/><circle cx="159.9" cy="468.5" r="1.0"/><circle cx="160.9" cy="469.1" r="1.0"/><circle cx="161.4" cy="468.1" r="1.0"/><circle cx="161.9" cy="469.0" r="1.0"/><circle cx="162.3" cy="469.3" r="1.0"/><circle cx="162.8" cy="468.7" r="1.0"/><circle cx="163.3" cy="468.9" r="1.0"/><circle cx="163.8" cy="470.1" r="1.0"/><circle cx="164.3" cy="468.5" r="1.0"/><circle cx="164.8" cy="469.3" r="1.0"/><circle cx="165.3" cy="467.2" r="1.0"/><circle cx="165.8" cy="468.5" r="1.0"/><circle cx="166.3" cy="467.9" r="1.0"/><circle cx="166.8" cy="469.6" r="1.0"/><circle cx="167.8" cy="468.5" r="1.0"/><circle cx="168.3" cy="469.1" r="1.0"/><circle cx="168.8" cy="469.7" r="1.0"/><circle cx="169.3" cy="468.5" r="1.0"/><circle cx="169.7" cy="470.1" r="1.0"/><circle cx="170.2" cy="468.8" r="1.0"/><circle cx="170.7" cy="467.8" r="1.0"/><circle cx="171.2" cy="469.0" r="1.0"/><circle cx="171.7" cy="469.1" r="1.0"/><circle cx="172.2" cy="467.0" r="1.0"/><circle cx="172.7" cy="469.9" r="1.0"/><circle cx="173.2" cy="467.8" r="1.0"/><circle cx="173.7" cy="468.9" r="1.0"/><circle cx="174.2" cy="468.5" r="1.0"/><circle cx="174.7" cy="469.5" r="1.0"/><circle cx="175.2" cy="468.7" r="1.0"/><circle cx="175.7" cy="468.4" r="1.0"/><circle cx="176.2" cy="468.0" r="1.0"/><circle cx="176.7" cy="467.9" r="1.0"/><circle cx="177.2" cy="469.7" r="1.0"/><circle cx="178.1" cy="467.7" r="1.0"/><circle cx="178.6" cy="469.0" r="1.0"/><circle cx="179.1" cy="469.1" r="1.0"/><circle cx="179.6" cy="469.4" r="1.0"/><circle cx="180.1" cy="469.6" r="1.0"/><circle cx="180.6" cy="469.7" r="1.0"/><circle cx="181.1" cy="468.7" r="1.0"/><circle cx="181.6" cy="468.6" r="1.0"/><circle cx="182.1" cy="468.6" r="1.0"/><circle cx="182.6" cy="467.2" r="1.0"/><circle cx="183.1" cy="468.8" r="1.0"/><circle cx="183.6" cy="468.4" r="1.0"/><circle cx="184.1" cy="467.8" r="1.0"/><circle cx="184.6" cy="468.6" r="1.0"/><circle cx="185.1" cy="468.3" r="1.0"/><circle cx="185.5" cy="469.1" r="1.0"/><circle cx="186.0" cy="468.2" r="1.0"/><circle cx="186.5" cy="468.5" r="1.0"/><circle cx="187.0" cy="468.3" r="1.0"/><circle cx="187.5" cy="468.7" r="1.0"/><circle cx="188.0" cy="469.0" r="1.0"/><circle cx="188.5" cy="469.1" r="1.0"/><circle cx="189.0" cy="468.5" r="1.0"/></g>
<g fill="#2b5016"><circle cx="27.0" cy="462.0" r="1.05"/><circle cx="27.6" cy="472.1" r="1.05"/><circle cx="29.0" cy="474.0" r="1.05"/><circle cx="30.0" cy="482.6" r="1.05"/><circle cx="31.0" cy="472.6" r="1.05"/><circle cx="33.5" cy="473.3" r="1.05"/><circle cx="44.6" cy="457.2" r="1.05"/><circle cx="54.7" cy="459.4" r="1.05"/><circle cx="73.0" cy="471.1" r="1.05"/><circle cx="73.5" cy="462.1" r="1.05"/><circle cx="73.9" cy="478.0" r="1.05"/><circle cx="80.4" cy="473.4" r="1.05"/><circle cx="81.7" cy="479.0" r="1.05"/><circle cx="83.8" cy="460.0" r="1.05"/><circle cx="85.8" cy="462.3" r="1.05"/><circle cx="89.3" cy="472.6" r="1.05"/><circle cx="95.7" cy="480.4" r="1.05"/><circle cx="103.6" cy="466.1" r="1.05"/><circle cx="104.6" cy="472.6" r="1.05"/><circle cx="112.5" cy="476.9" r="1.05"/><circle cx="115.0" cy="474.4" r="1.05"/><circle cx="119.9" cy="472.0" r="1.05"/><circle cx="120.9" cy="461.3" r="1.05"/><circle cx="124.8" cy="464.8" r="1.05"/><circle cx="126.6" cy="479.7" r="1.05"/><circle cx="126.6" cy="454.2" r="1.05"/><circle cx="133.2" cy="472.2" r="1.05"/><circle cx="133.7" cy="459.5" r="1.05"/><circle cx="134.2" cy="473.8" r="1.05"/><circle cx="140.3" cy="481.3" r="1.05"/><circle cx="146.4" cy="481.3" r="1.05"/><circle cx="151.0" cy="462.9" r="1.05"/><circle cx="151.6" cy="456.5" r="1.05"/><circle cx="154.0" cy="464.5" r="1.05"/><circle cx="156.4" cy="463.2" r="1.05"/><circle cx="156.5" cy="475.9" r="1.05"/><circle cx="158.4" cy="460.5" r="1.05"/><circle cx="159.4" cy="463.9" r="1.05"/><circle cx="160.4" cy="472.3" r="1.05"/><circle cx="167.3" cy="464.1" r="1.05"/><circle cx="174.1" cy="479.7" r="1.05"/><circle cx="177.6" cy="472.5" r="1.05"/><circle cx="184.7" cy="480.4" r="1.05"/><circle cx="189.2" cy="462.8" r="1.05"/></g>
<line x1="34.9" x2="34.9" y1="468.5" y2="493.9" stroke="#f5e0d2" stroke-width="1.1"/>
<line x1="34.9" x2="34.9" y1="468.5" y2="493.9" stroke="#a35c36" stroke-width="0.65"/>
<circle cx="34.9" cy="493.9" r="1.2" fill="#4a3020"/>
<line x1="54.5" x2="54.5" y1="468.5" y2="497.7" stroke="#f5e0d2" stroke-width="1.1"/>
<line x1="54.5" x2="54.5" y1="468.5" y2="497.7" stroke="#a35c36" stroke-width="0.65"/>
<circle cx="54.5" cy="497.7" r="1.2" fill="#4a3020"/>
<line x1="62.6" x2="62.6" y1="468.5" y2="425" stroke="#f5e0d2" stroke-width="1.1"/>
<line x1="62.6" x2="62.6" y1="468.5" y2="425" stroke="#a35c36" stroke-width="0.65"/>
<circle cx="62.6" cy="425" r="1.2" fill="#4a3020"/>
<line x1="62.6" x2="62.6" y1="468.5" y2="522.5" stroke="#f5e0d2" stroke-width="1.1"/>
<line x1="62.6" x2="62.6" y1="468.5" y2="522.5" stroke="#a35c36" stroke-width="0.65"/>
<circle cx="62.6" cy="522.5" r="1.2" fill="#4a3020"/>
<line x1="64.6" x2="64.6" y1="468.5" y2="443.6" stroke="#f5e0d2" stroke-width="1.1"/>
<line x1="64.6" x2="64.6" y1="468.5" y2="443.6" stroke="#a35c36" stroke-width="0.65"/>
<circle cx="64.6" cy="443.6" r="1.2" fill="#4a3020"/>
<line x1="75" x2="75" y1="468.5" y2="451.5" stroke="#f5e0d2" stroke-width="1.1"/>
<line x1="75" x2="75" y1="468.5" y2="451.5" stroke="#a35c36" stroke-width="0.65"/>
<circle cx="75" cy="451.5" r="1.2" fill="#4a3020"/>
<line x1="116.5" x2="116.5" y1="468.5" y2="509" stroke="#f5e0d2" stroke-width="1.1"/>
<line x1="116.5" x2="116.5" y1="468.5" y2="509" stroke="#a35c36" stroke-width="0.65"/>
<circle cx="116.5" cy="509" r="1.2" fill="#4a3020"/>
<line x1="119.8" x2="119.8" y1="468.5" y2="445.2" stroke="#f5e0d2" stroke-width="1.1"/>
<line x1="119.8" x2="119.8" y1="468.5" y2="445.2" stroke="#a35c36" stroke-width="0.65"/>
<circle cx="119.8" cy="445.2" r="1.2" fill="#4a3020"/>
<line x1="135.2" x2="135.2" y1="468.5" y2="451.5" stroke="#f5e0d2" stroke-width="1.1"/>
<line x1="135.2" x2="135.2" y1="468.5" y2="451.5" stroke="#a35c36" stroke-width="0.65"/>
<circle cx="135.2" cy="451.5" r="1.2" fill="#4a3020"/>
<line x1="146.4" x2="146.4" y1="468.5" y2="449.3" stroke="#f5e0d2" stroke-width="1.1"/>
<line x1="146.4" x2="146.4" y1="468.5" y2="449.3" stroke="#a35c36" stroke-width="0.65"/>
<circle cx="146.4" cy="449.3" r="1.2" fill="#4a3020"/>
<line x1="153.2" x2="153.2" y1="468.5" y2="502.9" stroke="#f5e0d2" stroke-width="1.1"/>
<line x1="153.2" x2="153.2" y1="468.5" y2="502.9" stroke="#a35c36" stroke-width="0.65"/>
<circle cx="153.2" cy="502.9" r="1.2" fill="#4a3020"/>
<line x1="151.6" x2="151.6" y1="468.5" y2="497" stroke="#f5e0d2" stroke-width="1.1"/>
<line x1="151.6" x2="151.6" y1="468.5" y2="497" stroke="#a35c36" stroke-width="0.65"/>
<circle cx="151.6" cy="497" r="1.2" fill="#4a3020"/>
<line x1="160.6" x2="160.6" y1="468.5" y2="506.7" stroke="#f5e0d2" stroke-width="1.1"/>
<line x1="160.6" x2="160.6" y1="468.5" y2="506.7" stroke="#a35c36" stroke-width="0.65"/>
<circle cx="160.6" cy="506.7" r="1.2" fill="#4a3020"/>
<line x1="174.1" x2="174.1" y1="468.5" y2="438.5" stroke="#f5e0d2" stroke-width="1.1"/>
<line x1="174.1" x2="174.1" y1="468.5" y2="438.5" stroke="#a35c36" stroke-width="0.65"/>
<circle cx="174.1" cy="438.5" r="1.2" fill="#4a3020"/>
<line x1="178.6" x2="178.6" y1="468.5" y2="498.8" stroke="#f5e0d2" stroke-width="1.1"/>
<line x1="178.6" x2="178.6" y1="468.5" y2="498.8" stroke="#a35c36" stroke-width="0.65"/>
<circle cx="178.6" cy="498.8" r="1.2" fill="#4a3020"/>
<line x1="180.2" x2="180.2" y1="468.5" y2="452.7" stroke="#f5e0d2" stroke-width="1.1"/>
<line x1="180.2" x2="180.2" y1="468.5" y2="452.7" stroke="#a35c36" stroke-width="0.65"/>
<circle cx="180.2" cy="452.7" r="1.2" fill="#4a3020"/>
<line x1="177.3" x2="177.3" y1="424.9" y2="522.5" stroke="#7062e2" stroke-width="1.2" stroke-dasharray="1.4 0.5"/>
<line x1="188.5" x2="188.5" y1="424.9" y2="522.5" stroke="#7062e2" stroke-width="1.2" stroke-dasharray="1.4 0.5"/>
<rect x="18.25" y="420.4" width="179.15" height="106.60000000000002" fill="none" stroke="#7c7c7c" stroke-width="0.95"/>
<line x1="16.65" x2="18.25" y1="517.40" y2="517.40" stroke="#555" stroke-width="0.45"/>
<text x="15.95" y="518.65" text-anchor="end" font-size="3.5" fill="#1a1a1a" dy="0.35">−0.20</text>
<line x1="16.65" x2="18.25" y1="505.18" y2="505.18" stroke="#555" stroke-width="0.45"/>
<text x="15.95" y="506.43" text-anchor="end" font-size="3.5" fill="#1a1a1a" dy="0.35">−0.15</text>
<line x1="16.65" x2="18.25" y1="492.95" y2="492.95" stroke="#555" stroke-width="0.45"/>
<text x="15.95" y="494.20" text-anchor="end" font-size="3.5" fill="#1a1a1a" dy="0.35">−0.10</text>
<line x1="16.65" x2="18.25" y1="480.73" y2="480.73" stroke="#555" stroke-width="0.45"/>
<text x="15.95" y="481.98" text-anchor="end" font-size="3.5" fill="#1a1a1a" dy="0.35">−0.05</text>
<line x1="16.65" x2="18.25" y1="468.50" y2="468.50" stroke="#555" stroke-width="0.45"/>
<text x="15.95" y="469.75" text-anchor="end" font-size="3.5" fill="#1a1a1a" dy="0.35">0.00</text>
<line x1="16.65" x2="18.25" y1="456.27" y2="456.27" stroke="#555" stroke-width="0.45"/>
<text x="15.95" y="457.52" text-anchor="end" font-size="3.5" fill="#1a1a1a" dy="0.35">0.05</text>
<line x1="16.65" x2="18.25" y1="444.05" y2="444.05" stroke="#555" stroke-width="0.45"/>
<text x="15.95" y="445.30" text-anchor="end" font-size="3.5" fill="#1a1a1a" dy="0.35">0.10</text>
<line x1="16.65" x2="18.25" y1="431.82" y2="431.82" stroke="#555" stroke-width="0.45"/>
<text x="15.95" y="433.07" text-anchor="end" font-size="3.5" fill="#1a1a1a" dy="0.35">0.15</text>
<line x1="26.3" x2="26.3" y1="527" y2="528.6" stroke="#555" stroke-width="0.45"/>
<text class="xl" transform="translate(25.15,529.2) rotate(90)" font-size="3.6" font-weight="bold" fill="#2a2a2a">15:19</text>
<line x1="31.2" x2="31.2" y1="527" y2="528.6" stroke="#555" stroke-width="0.45"/>
<text class="xl" transform="translate(30.05,529.2) rotate(90)" font-size="3.6" font-weight="bold" fill="#2a2a2a">20:36</text>
<line x1="42.5" x2="42.5" y1="527" y2="528.6" stroke="#555" stroke-width="0.45"/>
<text class="xl" transform="translate(41.35,529.2) rotate(90)" font-size="3.6" font-weight="bold" fill="#2a2a2a">20:12</text>
<line x1="48.3" x2="48.3" y1="527" y2="528.6" stroke="#555" stroke-width="0.45"/>
<text class="xl" transform="translate(47.15,529.2) rotate(90)" font-size="3.6" font-weight="bold" fill="#2a2a2a">12:39</text>
<line x1="54.4" x2="54.4" y1="527" y2="528.6" stroke="#555" stroke-width="0.45"/>
<text class="xl" transform="translate(53.25,529.2) rotate(90)" font-size="3.6" font-weight="bold" fill="#2a2a2a">15:33</text>
<line x1="61.2" x2="61.2" y1="527" y2="528.6" stroke="#555" stroke-width="0.45"/>
<text class="xl" transform="translate(60.05,529.2) rotate(90)" font-size="3.6" font-weight="bold" fill="#2a2a2a">10:54</text>
<line x1="67.3" x2="67.3" y1="527" y2="528.6" stroke="#555" stroke-width="0.45"/>
<text class="xl" transform="translate(66.15,529.2) rotate(90)" font-size="3.6" font-weight="bold" fill="#2a2a2a">18:39</text>
<line x1="74" x2="74" y1="527" y2="528.6" stroke="#555" stroke-width="0.45"/>
<text class="xl" transform="translate(72.85,529.2) rotate(90)" font-size="3.6" font-weight="bold" fill="#2a2a2a">11:22</text>
<line x1="80.8" x2="80.8" y1="527" y2="528.6" stroke="#555" stroke-width="0.45"/>
<text class="xl" transform="translate(79.65,529.2) rotate(90)" font-size="3.6" font-weight="bold" fill="#2a2a2a">10:30</text>
<line x1="87.5" x2="87.5" y1="527" y2="528.6" stroke="#555" stroke-width="0.45"/>
<text class="xl" transform="translate(86.35,529.2) rotate(90)" font-size="3.6" font-weight="bold" fill="#2a2a2a">17:14</text>
<line x1="92.7" x2="92.7" y1="527" y2="528.6" stroke="#555" stroke-width="0.45"/>
<text class="xl" transform="translate(91.55,529.2) rotate(90)" font-size="3.6" font-weight="bold" fill="#2a2a2a">17:11</text>
<line x1="95.6" x2="95.6" y1="527" y2="528.6" stroke="#555" stroke-width="0.45"/>
<text class="xl" transform="translate(94.45,529.2) rotate(90)" font-size="3.6" font-weight="bold" fill="#2a2a2a">23:30</text>
<line x1="98.3" x2="98.3" y1="527" y2="528.6" stroke="#555" stroke-width="0.45"/>
<text class="xl" transform="translate(97.15,529.2) rotate(90)" font-size="3.6" font-weight="bold" fill="#2a2a2a">10:22</text>
<line x1="101.7" x2="101.7" y1="527" y2="528.6" stroke="#555" stroke-width="0.45"/>
<text class="xl" transform="translate(100.55,529.2) rotate(90)" font-size="3.6" font-weight="bold" fill="#2a2a2a">12:53</text>
<line x1="105" x2="105" y1="527" y2="528.6" stroke="#555" stroke-width="0.45"/>
<text class="xl" transform="translate(103.85,529.2) rotate(90)" font-size="3.6" font-weight="bold" fill="#2a2a2a">12:35</text>
<line x1="110" x2="110" y1="527" y2="528.6" stroke="#555" stroke-width="0.45"/>
<text class="xl" transform="translate(108.85,529.2) rotate(90)" font-size="3.6" font-weight="bold" fill="#2a2a2a">12:22</text>
<line x1="117" x2="117" y1="527" y2="528.6" stroke="#555" stroke-width="0.45"/>
<text class="xl" transform="translate(115.85,529.2) rotate(90)" font-size="3.6" font-weight="bold" fill="#2a2a2a">12:19</text>
<line x1="127" x2="127" y1="527" y2="528.6" stroke="#555" stroke-width="0.45"/>
<text class="xl" transform="translate(125.85,529.2) rotate(90)" font-size="3.6" font-weight="bold" fill="#2a2a2a">16:45</text>
<line x1="132.5" x2="132.5" y1="527" y2="528.6" stroke="#555" stroke-width="0.45"/>
<text class="xl" transform="translate(131.35,529.2) rotate(90)" font-size="3.6" font-weight="bold" fill="#2a2a2a">20:59</text>
<line x1="140" x2="140" y1="527" y2="528.6" stroke="#555" stroke-width="0.45"/>
<text class="xl" transform="translate(138.85,529.2) rotate(90)" font-size="3.6" font-weight="bold" fill="#2a2a2a">16:19</text>
<line x1="147" x2="147" y1="527" y2="528.6" stroke="#555" stroke-width="0.45"/>
<text class="xl" transform="translate(145.85,529.2) rotate(90)" font-size="3.6" font-weight="bold" fill="#2a2a2a">14:56</text>
<line x1="156.25" x2="156.25" y1="527" y2="528.6" stroke="#555" stroke-width="0.45"/>
<text class="xl" transform="translate(155.10,529.2) rotate(90)" font-size="3.6" font-weight="bold" fill="#2a2a2a">12:28</text>
<line x1="160.5" x2="160.5" y1="527" y2="528.6" stroke="#555" stroke-width="0.45"/>
<text class="xl" transform="translate(159.35,529.2) rotate(90)" font-size="3.6" font-weight="bold" fill="#2a2a2a">19:20</text>
<line x1="166.25" x2="166.25" y1="527" y2="528.6" stroke="#555" stroke-width="0.45"/>
<text class="xl" transform="translate(165.10,529.2) rotate(90)" font-size="3.6" font-weight="bold" fill="#2a2a2a">21:19</text>
<line x1="172" x2="172" y1="527" y2="528.6" stroke="#555" stroke-width="0.45"/>
<text class="xl" transform="translate(170.85,529.2) rotate(90)" font-size="3.6" font-weight="bold" fill="#2a2a2a">22:56</text>
<line x1="177.5" x2="177.5" y1="527" y2="528.6" stroke="#555" stroke-width="0.45"/>
<text class="xl" transform="translate(176.35,529.2) rotate(90)" font-size="3.6" font-weight="bold" fill="#2a2a2a">20:17:00</text>
<line x1="182.5" x2="182.5" y1="527" y2="528.6" stroke="#555" stroke-width="0.45"/>
<text class="xl" transform="translate(181.35,529.2) rotate(90)" font-size="3.6" font-weight="bold" fill="#2a2a2a">12:11</text>
<line x1="187.5" x2="187.5" y1="527" y2="528.6" stroke="#555" stroke-width="0.45"/>
<text class="xl" transform="translate(186.35,529.2) rotate(90)" font-size="3.6" font-weight="bold" fill="#2a2a2a">20:57:00</text>
<text x="108.425" y="419.09999999999997" text-anchor="middle" font-size="4.2" fill="#111">SNT_2021-10-23 16:31</text>
<text x="108" y="548" text-anchor="middle" font-size="3.6" fill="#1a1a1a">datetime</text>
<text transform="translate(4.6,473.7) rotate(-90)" text-anchor="middle" font-size="3.6" fill="#1a1a1a">blu_volume</text>
<rect x="150.6" y="421.15" width="45.400000000000006" height="11.3" rx="0.6" fill="#fff" fill-opacity="0.95" stroke="#e0e0e0" stroke-width="0.4"/>
<line x1="152.4" x2="159.9" y1="424.25" y2="424.25" stroke="#5f5aee" stroke-width="0.7" stroke-dasharray="1.3 0.6"/>
<line x1="152.4" x2="159.9" y1="429.45" y2="429.45" stroke="#dccf80" stroke-width="0.7" stroke-dasharray="1.3 0.6"/>
<text x="162.20000000000002" y="425.55" font-size="3.55" fill="#1a1a1a">2021-10-23 16:31</text>
<text x="162.20000000000002" y="430.75" font-size="3.55" fill="#1a1a1a">anomalous volumes</text></g><g><rect x="218.25" y="420.3" width="178.25" height="106.69999999999999" fill="#fff"/>
<rect x="225" y="446" width="165" height="12" fill="#effcfb"/>
<rect x="357.0" y="430" width="5.2" height="22.5" fill="#fdf3f7"/>
<rect x="353.29999999999995" y="450.5" width="5.2" height="22.0" fill="#fdf3f7"/>
<rect x="317.0" y="434.9" width="5.2" height="17.600000000000023" fill="#fdf3f7"/>
<rect x="305.2" y="424.4" width="5.2" height="28.100000000000023" fill="#fdf3f7"/>
<rect x="303.0" y="450.5" width="5.2" height="72.29999999999995" fill="#fdf3f7"/>
<rect x="294.2" y="437.7" width="5.2" height="14.800000000000011" fill="#fdf3f7"/>
<rect x="279.59999999999997" y="450.5" width="5.2" height="18.19999999999999" fill="#fdf3f7"/>
<rect x="279.59999999999997" y="438.8" width="5.2" height="13.699999999999989" fill="#fdf3f7"/>
<rect x="272.79999999999995" y="450.5" width="5.2" height="34.19999999999999" fill="#fdf3f7"/>
<rect x="238.4" y="450.5" width="5.2" height="15.5" fill="#fdf3f7"/>
<rect x="225.5" y="423.5" width="5.2" height="29.0" fill="#fdf3f7"/>
<rect x="226" y="421" width="5" height="49" fill="#fef6f9"/>
<rect x="273" y="440" width="5" height="50" fill="#fef6f9"/>
<rect x="303" y="421" width="7" height="105" fill="#fef6f9"/>
<rect x="350" y="428" width="11" height="47" fill="#fef6f9"/>
<line x1="226.4" x2="391.0" y1="440.5" y2="440.5" stroke="#dfc85e" stroke-width="0.8" stroke-dasharray="1.0 0.4"/>
<line x1="226.4" x2="391.0" y1="462" y2="462" stroke="#dfc85e" stroke-width="0.8" stroke-dasharray="1.0 0.4"/>
<path d="M226.3 451.5V446.9M232.5 451.5V457.2M233.3 451.5V447.4M235.7 451.5V455.7M236.8 451.5V448.0M237.6 451.5V446.5M238.0 451.5V446.1M238.8 451.5V454.8M240.0 451.5V446.2M245.4 451.5V448.1M246.2 451.5V446.9M246.8 451.5V461.7M251.7 451.5V443.8M256.7 451.5V456.0M261.8 451.5V455.1M267.3 451.5V458.1M268.1 451.5V455.0M277.4 451.5V447.3M278.6 451.5V445.4M279.8 451.5V448.3M284.1 451.5V454.8M286.8 451.5V448.3M287.2 451.5V448.2M288.0 451.5V441.5M288.8 451.5V448.1M294.2 451.5V448.1M296.8 451.5V462.3M299.3 451.5V456.7M299.7 451.5V458.4M300.2 451.5V458.7M300.5 451.5V456.7M301.3 451.5V457.3M302.0 451.5V447.7M302.8 451.5V442.0M305.6 451.5V458.2M307.1 451.5V446.5M308.3 451.5V447.6M311.0 451.5V455.5M313.4 451.5V446.1M313.5 451.5V460.4M315.0 451.5V462.9M315.7 451.5V447.8M316.1 451.5V454.8M325.1 451.5V455.6M327.8 451.5V447.6M330.6 451.5V445.7M340.3 451.5V454.9M346.9 451.5V456.1M349.7 451.5V447.9M350.5 451.5V456.2M351.6 451.5V448.1M352.7 451.5V464.1M352.7 451.5V444.5M353.6 451.5V444.6M361.8 451.5V447.9M367.2 451.5V459.0M368.8 451.5V455.1M369.6 451.5V459.6M371.0 451.5V460.4M373.1 451.5V457.7M374.7 451.5V456.8M377.4 451.5V446.3M378.6 451.5V446.6M379.7 451.5V457.0M382.1 451.5V454.8M382.5 451.5V457.5M384.4 451.5V457.0M388.7 451.5V446.5M388.7 451.5V457.8" stroke="#33602a" stroke-width="0.7" fill="none"/>
<path d="M225.9 450.8 L226.3 448.3 L226.7 450.3 L227.1 450.8 L227.5 452.8 L227.9 453.1 L228.2 450.3 L228.6 448.3 L229.0 450.1 L229.4 451.3 L229.8 452.1 L230.2 450.9 L230.6 449.2 L231.0 450.5 L231.4 453.0 L231.8 449.2 L232.1 449.6 L232.5 454.7 L232.9 450.0 L233.3 448.3 L233.7 450.4 L234.1 452.5 L234.5 449.5 L234.9 449.2 L235.3 452.8 L235.7 454.7 L236.1 451.2 L236.4 450.5 L236.8 448.3 L237.2 449.8 L237.6 448.3 L238.0 448.3 L238.4 449.6 L238.8 454.7 L239.2 450.2 L239.6 449.2 L240.0 448.3 L240.3 453.0 L240.7 452.7 L241.1 451.0 L241.5 453.6 L241.9 450.3 L242.3 450.8 L242.7 451.1 L243.1 450.7 L243.5 453.5 L243.9 451.2 L244.3 451.4 L244.6 454.2 L245.0 452.8 L245.4 448.3 L245.8 451.4 L246.2 448.3 L246.6 450.5 L246.8 454.7 L247.0 452.5 L247.4 452.0 L247.8 449.4 L248.2 450.3 L248.5 451.0 L248.9 450.7 L249.3 450.1 L249.7 450.1 L250.1 453.3 L250.5 451.2 L250.9 450.9 L251.3 449.6 L251.7 448.3 L252.1 453.9 L252.5 448.5 L252.8 451.9 L253.2 453.4 L253.6 452.4 L254.0 452.7 L254.4 451.6 L254.8 450.1 L255.2 450.7 L255.6 452.0 L256.0 452.0 L256.4 450.5 L256.7 454.7 L256.7 454.3 L257.1 450.7 L257.5 453.0 L257.9 449.9 L258.3 450.2 L258.7 450.4 L259.1 452.1 L259.5 449.6 L259.9 452.6 L260.3 452.6 L260.7 453.6 L261.0 450.6 L261.4 453.4 L261.8 454.7 L262.2 451.5 L262.6 453.9 L263.0 453.9 L263.4 450.9 L263.8 452.8 L264.2 451.5 L264.6 450.1 L264.9 452.8 L265.3 451.2 L265.7 450.8 L266.1 449.5 L266.5 450.5 L266.9 450.9 L267.3 454.7 L267.7 450.4 L268.1 454.7 L268.5 450.7 L268.8 449.4 L269.2 450.1 L269.6 451.7 L270.0 451.0 L270.4 452.5 L270.8 452.9 L271.2 451.9 L271.6 453.9 L272.0 452.5 L272.4 450.3 L272.8 451.8 L273.1 453.1 L273.5 453.0 L273.9 450.3 L274.3 451.2 L274.7 450.0 L275.1 451.0 L275.5 451.1 L275.9 450.5 L276.3 453.6 L276.7 451.7 L277.0 453.5 L277.4 448.3 L277.8 451.6 L278.2 452.4 L278.6 448.3 L279.0 452.9 L279.4 452.7 L279.8 448.3 L280.2 454.0 L280.6 453.2 L281.0 451.4 L281.3 452.5 L281.7 449.0 L282.1 450.4 L282.5 453.3 L282.9 450.1 L283.3 452.1 L283.7 451.1 L284.1 454.7 L284.5 451.9 L284.9 451.2 L285.2 453.1 L285.6 449.2 L286.0 451.8 L286.4 452.2 L286.8 448.3 L287.2 448.3 L287.6 450.7 L288.0 448.3 L288.4 454.2 L288.8 448.3 L289.2 450.9 L289.5 450.3 L289.9 453.8 L290.3 449.1 L290.7 450.5 L291.1 451.3 L291.5 451.7 L291.9 451.1 L292.3 453.0 L292.7 449.8 L293.1 450.8 L293.4 454.6 L293.8 451.7 L294.2 448.3 L294.6 453.9 L295.0 450.7 L295.4 452.8 L295.8 449.5 L296.2 453.1 L296.6 452.7 L296.8 454.7 L297.0 454.2 L297.4 452.3 L297.7 451.2 L298.1 452.2 L298.5 451.0 L298.9 449.0 L299.3 454.7 L299.7 454.7 L300.1 451.7 L300.2 454.7 L300.5 454.7 L300.9 450.4 L301.3 454.7 L301.6 450.3 L302.0 448.3 L302.4 452.3 L302.8 448.3 L303.2 452.0 L303.6 451.3 L304.0 450.0 L304.4 451.6 L304.8 451.2 L305.2 451.0 L305.6 454.7 L305.9 450.1 L306.3 451.3 L306.7 450.6 L307.1 448.3 L307.5 453.6 L307.9 451.2 L308.3 448.3 L308.7 450.5 L309.1 453.5 L309.5 452.8 L309.8 452.6 L310.2 449.7 L310.6 450.3 L311.0 454.7 L311.4 453.0 L311.8 450.1 L312.2 452.3 L312.6 450.1 L313.0 450.8 L313.4 448.3 L313.5 454.7 L313.8 453.3 L314.1 450.2 L314.5 450.3 L314.9 453.8 L315.0 454.7 L315.3 450.7 L315.7 448.3 L316.1 454.7 L316.5 449.2 L316.9 452.3 L317.3 453.9 L317.7 451.3 L318.0 450.1 L318.4 451.5 L318.8 452.0 L319.2 452.0 L319.6 452.3 L320.0 449.6 L320.4 450.8 L320.8 453.9 L321.2 453.5 L321.6 451.2 L322.0 454.1 L322.3 452.2 L322.7 453.3 L323.1 451.6 L323.5 451.2 L323.9 452.5 L324.3 454.3 L324.7 451.7 L325.1 454.7 L325.5 453.3 L325.9 451.1 L326.2 450.5 L326.6 452.9 L327.0 449.8 L327.4 452.1 L327.8 448.3 L328.2 452.2 L328.6 453.3 L329.0 454.0 L329.4 452.3 L329.8 451.2 L330.2 450.7 L330.5 453.8 L330.6 448.3 L330.9 451.3 L331.3 451.5 L331.7 451.9 L332.1 453.8 L332.5 451.7 L332.9 452.6 L333.3 450.3 L333.7 453.8 L334.1 451.3 L334.4 450.6 L334.8 451.3 L335.2 454.2 L335.6 451.8 L336.0 454.2 L336.4 451.0 L336.8 450.5 L337.2 451.0 L337.6 454.0 L338.0 452.5 L338.4 451.4 L338.7 451.5 L339.1 453.6 L339.5 449.1 L339.9 448.8 L340.3 454.7 L340.7 449.4 L341.1 452.7 L341.5 450.9 L341.9 452.4 L342.3 449.9 L342.6 452.3 L343.0 449.8 L343.4 450.6 L343.8 451.7 L344.2 453.0 L344.6 452.2 L345.0 451.9 L345.4 452.6 L345.8 453.0 L346.2 451.7 L346.6 452.0 L346.9 454.7 L347.3 452.7 L347.7 452.1 L348.1 450.3 L348.5 452.8 L348.9 449.8 L349.3 451.3 L349.7 448.3 L350.1 451.4 L350.5 454.7 L350.8 452.4 L351.2 450.9 L351.6 448.3 L352.0 453.0 L352.4 450.2 L352.7 454.7 L352.7 448.3 L352.8 449.4 L353.2 449.0 L353.6 448.3 L354.0 451.0 L354.4 451.4 L354.7 452.9 L355.1 452.0 L355.5 451.2 L355.9 451.1 L356.3 452.7 L356.7 449.9 L357.1 448.7 L357.5 451.9 L357.9 452.8 L358.3 450.0 L358.7 454.2 L359.0 451.9 L359.4 450.3 L359.8 450.8 L360.2 450.4 L360.6 452.7 L361.0 449.5 L361.4 451.5 L361.8 448.3 L362.2 452.5 L362.6 451.5 L362.9 451.5 L363.3 448.9 L363.7 453.7 L364.1 451.2 L364.5 453.8 L364.9 451.4 L365.3 453.3 L365.7 449.8 L366.1 452.4 L366.5 450.3 L366.9 453.4 L367.2 454.7 L367.6 452.2 L368.0 452.7 L368.4 450.5 L368.8 454.7 L369.2 451.5 L369.6 454.7 L370.0 449.4 L370.4 452.2 L370.8 450.7 L371.0 454.7 L371.1 451.3 L371.5 450.9 L371.9 453.8 L372.3 451.8 L372.7 451.5 L373.1 454.7 L373.5 452.9 L373.9 451.6 L374.3 454.5 L374.7 454.7 L375.1 452.4 L375.4 450.3 L375.8 451.0 L376.2 451.8 L376.6 451.5 L377.0 451.7 L377.4 448.3 L377.8 450.5 L378.2 452.7 L378.6 448.3 L379.0 452.1 L379.3 451.6 L379.7 454.7 L380.1 450.2 L380.5 452.3 L380.9 452.6 L381.3 449.3 L381.7 450.3 L382.1 454.7 L382.5 454.7 L382.9 452.0 L383.3 449.3 L383.6 453.0 L384.0 451.5 L384.4 454.7 L384.8 450.7 L385.2 451.6 L385.6 449.7 L386.0 452.0 L386.4 453.0 L386.8 452.7 L387.2 449.8 L387.5 449.9 L387.9 450.7 L388.3 452.0 L388.7 448.3 L388.7 454.7 L389.1 451.0 L389.5 451.8" stroke="#279414" stroke-width="1.7" fill="none" stroke-linejoin="round"/>
<g fill="#2c7412"><circle cx="225.9" cy="450.8" r="0.85"/><circle cx="226.7" cy="450.3" r="0.85"/><circle cx="227.1" cy="450.8" r="0.85"/><circle cx="227.5" cy="452.8" r="0.85"/><circle cx="227.9" cy="453.1" r="0.85"/><circle cx="228.2" cy="450.3" r="0.85"/><circle cx="228.6" cy="448.3" r="0.85"/><circle cx="229.0" cy="450.1" r="0.85"/><circle cx="229.4" cy="451.3" r="0.85"/><circle cx="229.8" cy="452.1" r="0.85"/><circle cx="230.2" cy="450.9" r="0.85"/><circle cx="230.6" cy="449.2" r="0.85"/><circle cx="231.0" cy="450.5" r="0.85"/><circle cx="231.4" cy="453.0" r="0.85"/><circle cx="231.8" cy="449.2" r="0.85"/><circle cx="232.1" cy="449.6" r="0.85"/><circle cx="232.9" cy="450.0" r="0.85"/><circle cx="233.7" cy="450.4" r="0.85"/><circle cx="234.1" cy="452.5" r="0.85"/><circle cx="234.5" cy="449.5" r="0.85"/><circle cx="234.9" cy="449.2" r="0.85"/><circle cx="235.3" cy="452.8" r="0.85"/><circle cx="236.1" cy="451.2" r="0.85"/><circle cx="236.4" cy="450.5" r="0.85"/><circle cx="237.2" cy="449.8" r="0.85"/><circle cx="238.4" cy="449.6" r="0.85"/><circle cx="239.2" cy="450.2" r="0.85"/><circle cx="239.6" cy="449.2" r="0.85"/><circle cx="240.3" cy="453.0" r="0.85"/><circle cx="240.7" cy="452.7" r="0.85"/><circle cx="241.1" cy="451.0" r="0.85"/><circle cx="241.5" cy="453.6" r="0.85"/><circle cx="241.9" cy="450.3" r="0.85"/><circle cx="242.3" cy="450.8" r="0.85"/><circle cx="242.7" cy="451.1" r="0.85"/><circle cx="243.1" cy="450.7" r="0.85"/><circle cx="243.5" cy="453.5" r="0.85"/><circle cx="243.9" cy="451.2" r="0.85"/><circle cx="244.3" cy="451.4" r="0.85"/><circle cx="244.6" cy="454.2" r="0.85"/><circle cx="245.0" cy="452.8" r="0.85"/><circle cx="245.8" cy="451.4" r="0.85"/><circle cx="246.6" cy="450.5" r="0.85"/><circle cx="247.0" cy="452.5" r="0.85"/><circle cx="247.4" cy="452.0" r="0.85"/><circle cx="247.8" cy="449.4" r="0.85"/><circle cx="248.2" cy="450.3" r="0.85"/><circle cx="248.5" cy="451.0" r="0.85"/><circle cx="248.9" cy="450.7" r="0.85"/><circle cx="249.3" cy="450.1" r="0.85"/><circle cx="249.7" cy="450.1" r="0.85"/><circle cx="250.1" cy="453.3" r="0.85"/><circle cx="250.5" cy="451.2" r="0.85"/><circle cx="250.9" cy="450.9" r="0.85"/><circle cx="251.3" cy="449.6" r="0.85"/><circle cx="252.1" cy="453.9" r="0.85"/><circle cx="252.5" cy="448.5" r="0.85"/><circle cx="252.8" cy="451.9" r="0.85"/><circle cx="253.2" cy="453.4" r="0.85"/><circle cx="253.6" cy="452.4" r="0.85"/><circle cx="254.0" cy="452.7" r="0.85"/><circle cx="254.4" cy="451.6" r="0.85"/><circle cx="254.8" cy="450.1" r="0.85"/><circle cx="255.2" cy="450.7" r="0.85"/><circle cx="255.6" cy="452.0" r="0.85"/><circle cx="256.0" cy="452.0" r="0.85"/><circle cx="256.4" cy="450.5" r="0.85"/><circle cx="256.7" cy="454.3" r="0.85"/><circle cx="257.1" cy="450.7" r="0.85"/><circle cx="257.5" cy="453.0" r="0.85"/><circle cx="257.9" cy="449.9" r="0.85"/><circle cx="258.3" cy="450.2" r="0.85"/><circle cx="258.7" cy="450.4" r="0.85"/><circle cx="259.1" cy="452.1" r="0.85"/><circle cx="259.5" cy="449.6" r="0.85"/><circle cx="259.9" cy="452.6" r="0.85"/><circle cx="260.3" cy="452.6" r="0.85"/><circle cx="260.7" cy="453.6" r="0.85"/><circle cx="261.0" cy="450.6" r="0.85"/><circle cx="261.4" cy="453.4" r="0.85"/><circle cx="262.2" cy="451.5" r="0.85"/><circle cx="262.6" cy="453.9" r="0.85"/><circle cx="263.0" cy="453.9" r="0.85"/><circle cx="263.4" cy="450.9" r="0.85"/><circle cx="263.8" cy="452.8" r="0.85"/><circle cx="264.2" cy="451.5" r="0.85"/><circle cx="264.6" cy="450.1" r="0.85"/><circle cx="264.9" cy="452.8" r="0.85"/><circle cx="265.3" cy="451.2" r="0.85"/><circle cx="265.7" cy="450.8" r="0.85"/><circle cx="266.1" cy="449.5" r="0.85"/><circle cx="266.5" cy="450.5" r="0.85"/><circle cx="266.9" cy="450.9" r="0.85"/><circle cx="267.7" cy="450.4" r="0.85"/><circle cx="268.5" cy="450.7" r="0.85"/><circle cx="268.8" cy="449.4" r="0.85"/><circle cx="269.2" cy="450.1" r="0.85"/><circle cx="269.6" cy="451.7" r="0.85"/><circle cx="270.0" cy="451.0" r="0.85"/><circle cx="270.4" cy="452.5" r="0.85"/><circle cx="270.8" cy="452.9" r="0.85"/><circle cx="271.2" cy="451.9" r="0.85"/><circle cx="271.6" cy="453.9" r="0.85"/><circle cx="272.0" cy="452.5" r="0.85"/><circle cx="272.4" cy="450.3" r="0.85"/><circle cx="272.8" cy="451.8" r="0.85"/><circle cx="273.1" cy="453.1" r="0.85"/><circle cx="273.5" cy="453.0" r="0.85"/><circle cx="273.9" cy="450.3" r="0.85"/><circle cx="274.3" cy="451.2" r="0.85"/><circle cx="274.7" cy="450.0" r="0.85"/><circle cx="275.1" cy="451.0" r="0.85"/><circle cx="275.5" cy="451.1" r="0.85"/><circle cx="275.9" cy="450.5" r="0.85"/><circle cx="276.3" cy="453.6" r="0.85"/><circle cx="276.7" cy="451.7" r="0.85"/><circle cx="277.0" cy="453.5" r="0.85"/><circle cx="277.8" cy="451.6" r="0.85"/><circle cx="278.2" cy="452.4" r="0.85"/><circle cx="279.0" cy="452.9" r="0.85"/><circle cx="279.4" cy="452.7" r="0.85"/><circle cx="280.2" cy="454.0" r="0.85"/><circle cx="280.6" cy="453.2" r="0.85"/><circle cx="281.0" cy="451.4" r="0.85"/><circle cx="281.3" cy="452.5" r="0.85"/><circle cx="281.7" cy="449.0" r="0.85"/><circle cx="282.1" cy="450.4" r="0.85"/><circle cx="282.5" cy="453.3" r="0.85"/><circle cx="282.9" cy="450.1" r="0.85"/><circle cx="283.3" cy="452.1" r="0.85"/><circle cx="283.7" cy="451.1" r="0.85"/><circle cx="284.5" cy="451.9" r="0.85"/><circle cx="284.9" cy="451.2" r="0.85"/><circle cx="285.2" cy="453.1" r="0.85"/><circle cx="285.6" cy="449.2" r="0.85"/><circle cx="286.0" cy="451.8" r="0.85"/><circle cx="286.4" cy="452.2" r="0.85"/><circle cx="287.6" cy="450.7" r="0.85"/><circle cx="288.4" cy="454.2" r="0.85"/><circle cx="289.2" cy="450.9" r="0.85"/><circle cx="289.5" cy="450.3" r="0.85"/><circle cx="289.9" cy="453.8" r="0.85"/><circle cx="290.3" cy="449.1" r="0.85"/><circle cx="290.7" cy="450.5" r="0.85"/><circle cx="291.1" cy="451.3" r="0.85"/><circle cx="291.5" cy="451.7" r="0.85"/><circle cx="291.9" cy="451.1" r="0.85"/><circle cx="292.3" cy="453.0" r="0.85"/><circle cx="292.7" cy="449.8" r="0.85"/><circle cx="293.1" cy="450.8" r="0.85"/><circle cx="293.4" cy="454.6" r="0.85"/><circle cx="293.8" cy="451.7" r="0.85"/><circle cx="294.6" cy="453.9" r="0.85"/><circle cx="295.0" cy="450.7" r="0.85"/><circle cx="295.4" cy="452.8" r="0.85"/><circle cx="295.8" cy="449.5" r="0.85"/><circle cx="296.2" cy="453.1" r="0.85"/><circle cx="296.6" cy="452.7" r="0.85"/><circle cx="297.0" cy="454.2" r="0.85"/><circle cx="297.4" cy="452.3" r="0.85"/><circle cx="297.7" cy="451.2" r="0.85"/><circle cx="298.1" cy="452.2" r="0.85"/><circle cx="298.5" cy="451.0" r="0.85"/><circle cx="298.9" cy="449.0" r="0.85"/><circle cx="300.1" cy="451.7" r="0.85"/><circle cx="300.9" cy="450.4" r="0.85"/><circle cx="301.6" cy="450.3" r="0.85"/><circle cx="302.4" cy="452.3" r="0.85"/><circle cx="303.2" cy="452.0" r="0.85"/><circle cx="303.6" cy="451.3" r="0.85"/><circle cx="304.0" cy="450.0" r="0.85"/><circle cx="304.4" cy="451.6" r="0.85"/><circle cx="304.8" cy="451.2" r="0.85"/><circle cx="305.2" cy="451.0" r="0.85"/><circle cx="305.9" cy="450.1" r="0.85"/><circle cx="306.3" cy="451.3" r="0.85"/><circle cx="306.7" cy="450.6" r="0.85"/><circle cx="307.5" cy="453.6" r="0.85"/><circle cx="307.9" cy="451.2" r="0.85"/><circle cx="308.7" cy="450.5" r="0.85"/><circle cx="309.1" cy="453.5" r="0.85"/><circle cx="309.5" cy="452.8" r="0.85"/><circle cx="309.8" cy="452.6" r="0.85"/><circle cx="310.2" cy="449.7" r="0.85"/><circle cx="310.6" cy="450.3" r="0.85"/><circle cx="311.4" cy="453.0" r="0.85"/><circle cx="311.8" cy="450.1" r="0.85"/><circle cx="312.2" cy="452.3" r="0.85"/><circle cx="312.6" cy="450.1" r="0.85"/><circle cx="313.0" cy="450.8" r="0.85"/><circle cx="313.8" cy="453.3" r="0.85"/><circle cx="314.1" cy="450.2" r="0.85"/><circle cx="314.5" cy="450.3" r="0.85"/><circle cx="314.9" cy="453.8" r="0.85"/><circle cx="315.3" cy="450.7" r="0.85"/><circle cx="316.5" cy="449.2" r="0.85"/><circle cx="316.9" cy="452.3" r="0.85"/><circle cx="317.3" cy="453.9" r="0.85"/><circle cx="317.7" cy="451.3" r="0.85"/><circle cx="318.0" cy="450.1" r="0.85"/><circle cx="318.4" cy="451.5" r="0.85"/><circle cx="318.8" cy="452.0" r="0.85"/><circle cx="319.2" cy="452.0" r="0.85"/><circle cx="319.6" cy="452.3" r="0.85"/><circle cx="320.0" cy="449.6" r="0.85"/><circle cx="320.4" cy="450.8" r="0.85"/><circle cx="320.8" cy="453.9" r="0.85"/><circle cx="321.2" cy="453.5" r="0.85"/><circle cx="321.6" cy="451.2" r="0.85"/><circle cx="322.0" cy="454.1" r="0.85"/><circle cx="322.3" cy="452.2" r="0.85"/><circle cx="322.7" cy="453.3" r="0.85"/><circle cx="323.1" cy="451.6" r="0.85"/><circle cx="323.5" cy="451.2" r="0.85"/><circle cx="323.9" cy="452.5" r="0.85"/><circle cx="324.3" cy="454.3" r="0.85"/><circle cx="324.7" cy="451.7" r="0.85"/><circle cx="325.5" cy="453.3" r="0.85"/><circle cx="325.9" cy="451.1" r="0.85"/><circle cx="326.2" cy="450.5" r="0.85"/><circle cx="326.6" cy="452.9" r="0.85"/><circle cx="327.0" cy="449.8" r="0.85"/><circle cx="327.4" cy="452.1" r="0.85"/><circle cx="328.2" cy="452.2" r="0.85"/><circle cx="328.6" cy="453.3" r="0.85"/><circle cx="329.0" cy="454.0" r="0.85"/><circle cx="329.4" cy="452.3" r="0.85"/><circle cx="329.8" cy="451.2" r="0.85"/><circle cx="330.2" cy="450.7" r="0.85"/><circle cx="330.5" cy="453.8" r="0.85"/><circle cx="330.9" cy="451.3" r="0.85"/><circle cx="331.3" cy="451.5" r="0.85"/><circle cx="331.7" cy="451.9" r="0.85"/><circle cx="332.1" cy="453.8" r="0.85"/><circle cx="332.5" cy="451.7" r="0.85"/><circle cx="332.9" cy="452.6" r="0.85"/><circle cx="333.3" cy="450.3" r="0.85"/><circle cx="333.7" cy="453.8" r="0.85"/><circle cx="334.1" cy="451.3" r="0.85"/><circle cx="334.4" cy="450.6" r="0.85"/><circle cx="334.8" cy="451.3" r="0.85"/><circle cx="335.2" cy="454.2" r="0.85"/><circle cx="335.6" cy="451.8" r="0.85"/><circle cx="336.0" cy="454.2" r="0.85"/><circle cx="336.4" cy="451.0" r="0.85"/><circle cx="336.8" cy="450.5" r="0.85"/><circle cx="337.2" cy="451.0" r="0.85"/><circle cx="337.6" cy="454.0" r="0.85"/><circle cx="338.0" cy="452.5" r="0.85"/><circle cx="338.4" cy="451.4" r="0.85"/><circle cx="338.7" cy="451.5" r="0.85"/><circle cx="339.1" cy="453.6" r="0.85"/><circle cx="339.5" cy="449.1" r="0.85"/><circle cx="339.9" cy="448.8" r="0.85"/><circle cx="340.7" cy="449.4" r="0.85"/><circle cx="341.1" cy="452.7" r="0.85"/><circle cx="341.5" cy="450.9" r="0.85"/><circle cx="341.9" cy="452.4" r="0.85"/><circle cx="342.3" cy="449.9" r="0.85"/><circle cx="342.6" cy="452.3" r="0.85"/><circle cx="343.0" cy="449.8" r="0.85"/><circle cx="343.4" cy="450.6" r="0.85"/><circle cx="343.8" cy="451.7" r="0.85"/><circle cx="344.2" cy="453.0" r="0.85"/><circle cx="344.6" cy="452.2" r="0.85"/><circle cx="345.0" cy="451.9" r="0.85"/><circle cx="345.4" cy="452.6" r="0.85"/><circle cx="345.8" cy="453.0" r="0.85"/><circle cx="346.2" cy="451.7" r="0.85"/><circle cx="346.6" cy="452.0" r="0.85"/><circle cx="347.3" cy="452.7" r="0.85"/><circle cx="347.7" cy="452.1" r="0.85"/><circle cx="348.1" cy="450.3" r="0.85"/><circle cx="348.5" cy="452.8" r="0.85"/><circle cx="348.9" cy="449.8" r="0.85"/><circle cx="349.3" cy="451.3" r="0.85"/><circle cx="350.1" cy="451.4" r="0.85"/><circle cx="350.8" cy="452.4" r="0.85"/><circle cx="351.2" cy="450.9" r="0.85"/><circle cx="352.0" cy="453.0" r="0.85"/><circle cx="352.4" cy="450.2" r="0.85"/><circle cx="352.8" cy="449.4" r="0.85"/><circle cx="353.2" cy="449.0" r="0.85"/><circle cx="354.0" cy="451.0" r="0.85"/><circle cx="354.4" cy="451.4" r="0.85"/><circle cx="354.7" cy="452.9" r="0.85"/><circle cx="355.1" cy="452.0" r="0.85"/><circle cx="355.5" cy="451.2" r="0.85"/><circle cx="355.9" cy="451.1" r="0.85"/><circle cx="356.3" cy="452.7" r="0.85"/><circle cx="356.7" cy="449.9" r="0.85"/><circle cx="357.1" cy="448.7" r="0.85"/><circle cx="357.5" cy="451.9" r="0.85"/><circle cx="357.9" cy="452.8" r="0.85"/><circle cx="358.3" cy="450.0" r="0.85"/><circle cx="358.7" cy="454.2" r="0.85"/><circle cx="359.0" cy="451.9" r="0.85"/><circle cx="359.4" cy="450.3" r="0.85"/><circle cx="359.8" cy="450.8" r="0.85"/><circle cx="360.2" cy="450.4" r="0.85"/><circle cx="360.6" cy="452.7" r="0.85"/><circle cx="361.0" cy="449.5" r="0.85"/><circle cx="361.4" cy="451.5" r="0.85"/><circle cx="362.2" cy="452.5" r="0.85"/><circle cx="362.6" cy="451.5" r="0.85"/><circle cx="362.9" cy="451.5" r="0.85"/><circle cx="363.3" cy="448.9" r="0.85"/><circle cx="363.7" cy="453.7" r="0.85"/><circle cx="364.1" cy="451.2" r="0.85"/><circle cx="364.5" cy="453.8" r="0.85"/><circle cx="364.9" cy="451.4" r="0.85"/><circle cx="365.3" cy="453.3" r="0.85"/><circle cx="365.7" cy="449.8" r="0.85"/><circle cx="366.1" cy="452.4" r="0.85"/><circle cx="366.5" cy="450.3" r="0.85"/><circle cx="366.9" cy="453.4" r="0.85"/><circle cx="367.6" cy="452.2" r="0.85"/><circle cx="368.0" cy="452.7" r="0.85"/><circle cx="368.4" cy="450.5" r="0.85"/><circle cx="369.2" cy="451.5" r="0.85"/><circle cx="370.0" cy="449.4" r="0.85"/><circle cx="370.4" cy="452.2" r="0.85"/><circle cx="370.8" cy="450.7" r="0.85"/><circle cx="371.1" cy="451.3" r="0.85"/><circle cx="371.5" cy="450.9" r="0.85"/><circle cx="371.9" cy="453.8" r="0.85"/><circle cx="372.3" cy="451.8" r="0.85"/><circle cx="372.7" cy="451.5" r="0.85"/><circle cx="373.5" cy="452.9" r="0.85"/><circle cx="373.9" cy="451.6" r="0.85"/><circle cx="374.3" cy="454.5" r="0.85"/><circle cx="375.1" cy="452.4" r="0.85"/><circle cx="375.4" cy="450.3" r="0.85"/><circle cx="375.8" cy="451.0" r="0.85"/><circle cx="376.2" cy="451.8" r="0.85"/><circle cx="376.6" cy="451.5" r="0.85"/><circle cx="377.0" cy="451.7" r="0.85"/><circle cx="377.8" cy="450.5" r="0.85"/><circle cx="378.2" cy="452.7" r="0.85"/><circle cx="379.0" cy="452.1" r="0.85"/><circle cx="379.3" cy="451.6" r="0.85"/><circle cx="380.1" cy="450.2" r="0.85"/><circle cx="380.5" cy="452.3" r="0.85"/><circle cx="380.9" cy="452.6" r="0.85"/><circle cx="381.3" cy="449.3" r="0.85"/><circle cx="381.7" cy="450.3" r="0.85"/><circle cx="382.9" cy="452.0" r="0.85"/><circle cx="383.3" cy="449.3" r="0.85"/><circle cx="383.6" cy="453.0" r="0.85"/><circle cx="384.0" cy="451.5" r="0.85"/><circle cx="384.8" cy="450.7" r="0.85"/><circle cx="385.2" cy="451.6" r="0.85"/><circle cx="385.6" cy="449.7" r="0.85"/><circle cx="386.0" cy="452.0" r="0.85"/><circle cx="386.4" cy="453.0" r="0.85"/><circle cx="386.8" cy="452.7" r="0.85"/><circle cx="387.2" cy="449.8" r="0.85"/><circle cx="387.5" cy="449.9" r="0.85"/><circle cx="387.9" cy="450.7" r="0.85"/><circle cx="388.3" cy="452.0" r="0.85"/><circle cx="389.1" cy="451.0" r="0.85"/><circle cx="389.5" cy="451.8" r="0.85"/></g>
<g fill="#2b5016"><circle cx="226.3" cy="446.9" r="1.05"/><circle cx="232.5" cy="457.2" r="1.05"/><circle cx="233.3" cy="447.4" r="1.05"/><circle cx="235.7" cy="455.7" r="1.05"/><circle cx="236.8" cy="448.0" r="1.05"/><circle cx="237.6" cy="446.5" r="1.05"/><circle cx="238.0" cy="446.1" r="1.05"/><circle cx="238.8" cy="454.8" r="1.05"/><circle cx="240.0" cy="446.2" r="1.05"/><circle cx="245.4" cy="448.1" r="1.05"/><circle cx="246.2" cy="446.9" r="1.05"/><circle cx="246.8" cy="461.7" r="1.05"/><circle cx="251.7" cy="443.8" r="1.05"/><circle cx="256.7" cy="456.0" r="1.05"/><circle cx="261.8" cy="455.1" r="1.05"/><circle cx="267.3" cy="458.1" r="1.05"/><circle cx="268.1" cy="455.0" r="1.05"/><circle cx="277.4" cy="447.3" r="1.05"/><circle cx="278.6" cy="445.4" r="1.05"/><circle cx="279.8" cy="448.3" r="1.05"/><circle cx="284.1" cy="454.8" r="1.05"/><circle cx="286.8" cy="448.3" r="1.05"/><circle cx="287.2" cy="448.2" r="1.05"/><circle cx="288.0" cy="441.5" r="1.05"/><circle cx="288.8" cy="448.1" r="1.05"/><circle cx="294.2" cy="448.1" r="1.05"/><circle cx="296.8" cy="462.3" r="1.05"/><circle cx="299.3" cy="456.7" r="1.05"/><circle cx="299.7" cy="458.4" r="1.05"/><circle cx="300.2" cy="458.7" r="1.05"/><circle cx="300.5" cy="456.7" r="1.05"/><circle cx="301.3" cy="457.3" r="1.05"/><circle cx="302.0" cy="447.7" r="1.05"/><circle cx="302.8" cy="442.0" r="1.05"/><circle cx="305.6" cy="458.2" r="1.05"/><circle cx="307.1" cy="446.5" r="1.05"/><circle cx="308.3" cy="447.6" r="1.05"/><circle cx="311.0" cy="455.5" r="1.05"/><circle cx="313.4" cy="446.1" r="1.05"/><circle cx="313.5" cy="460.4" r="1.05"/><circle cx="315.0" cy="462.9" r="1.05"/><circle cx="315.7" cy="447.8" r="1.05"/><circle cx="316.1" cy="454.8" r="1.05"/><circle cx="325.1" cy="455.6" r="1.05"/><circle cx="327.8" cy="447.6" r="1.05"/><circle cx="330.6" cy="445.7" r="1.05"/><circle cx="340.3" cy="454.9" r="1.05"/><circle cx="346.9" cy="456.1" r="1.05"/><circle cx="349.7" cy="447.9" r="1.05"/><circle cx="350.5" cy="456.2" r="1.05"/><circle cx="351.6" cy="448.1" r="1.05"/><circle cx="352.7" cy="464.1" r="1.05"/><circle cx="352.7" cy="444.5" r="1.05"/><circle cx="353.6" cy="444.6" r="1.05"/><circle cx="361.8" cy="447.9" r="1.05"/><circle cx="367.2" cy="459.0" r="1.05"/><circle cx="368.8" cy="455.1" r="1.05"/><circle cx="369.6" cy="459.6" r="1.05"/><circle cx="371.0" cy="460.4" r="1.05"/><circle cx="373.1" cy="457.7" r="1.05"/><circle cx="374.7" cy="456.8" r="1.05"/><circle cx="377.4" cy="446.3" r="1.05"/><circle cx="378.6" cy="446.6" r="1.05"/><circle cx="379.7" cy="457.0" r="1.05"/><circle cx="382.1" cy="454.8" r="1.05"/><circle cx="382.5" cy="457.5" r="1.05"/><circle cx="384.4" cy="457.0" r="1.05"/><circle cx="388.7" cy="446.5" r="1.05"/><circle cx="388.7" cy="457.8" r="1.05"/></g>
<line x1="228.1" x2="228.1" y1="451.5" y2="424.5" stroke="#f5e0d2" stroke-width="1.1"/>
<line x1="228.1" x2="228.1" y1="451.5" y2="424.5" stroke="#a35c36" stroke-width="0.65"/>
<circle cx="228.1" cy="424.5" r="1.2" fill="#4a3020"/>
<line x1="241" x2="241" y1="451.5" y2="465" stroke="#f5e0d2" stroke-width="1.1"/>
<line x1="241" x2="241" y1="451.5" y2="465" stroke="#a35c36" stroke-width="0.65"/>
<circle cx="241" cy="465" r="1.2" fill="#4a3020"/>
<line x1="275.4" x2="275.4" y1="451.5" y2="483.7" stroke="#f5e0d2" stroke-width="1.1"/>
<line x1="275.4" x2="275.4" y1="451.5" y2="483.7" stroke="#a35c36" stroke-width="0.65"/>
<circle cx="275.4" cy="483.7" r="1.2" fill="#4a3020"/>
<line x1="282.2" x2="282.2" y1="451.5" y2="439.8" stroke="#f5e0d2" stroke-width="1.1"/>
<line x1="282.2" x2="282.2" y1="451.5" y2="439.8" stroke="#a35c36" stroke-width="0.65"/>
<circle cx="282.2" cy="439.8" r="1.2" fill="#4a3020"/>
<line x1="282.2" x2="282.2" y1="451.5" y2="467.7" stroke="#f5e0d2" stroke-width="1.1"/>
<line x1="282.2" x2="282.2" y1="451.5" y2="467.7" stroke="#a35c36" stroke-width="0.65"/>
<circle cx="282.2" cy="467.7" r="1.2" fill="#4a3020"/>
<line x1="296.8" x2="296.8" y1="451.5" y2="438.7" stroke="#f5e0d2" stroke-width="1.1"/>
<line x1="296.8" x2="296.8" y1="451.5" y2="438.7" stroke="#a35c36" stroke-width="0.65"/>
<circle cx="296.8" cy="438.7" r="1.2" fill="#4a3020"/>
<line x1="305.6" x2="305.6" y1="451.5" y2="521.8" stroke="#f5e0d2" stroke-width="1.1"/>
<line x1="305.6" x2="305.6" y1="451.5" y2="521.8" stroke="#a35c36" stroke-width="0.65"/>
<circle cx="305.6" cy="521.8" r="1.2" fill="#4a3020"/>
<line x1="307.8" x2="307.8" y1="451.5" y2="425.4" stroke="#f5e0d2" stroke-width="1.1"/>
<line x1="307.8" x2="307.8" y1="451.5" y2="425.4" stroke="#a35c36" stroke-width="0.65"/>
<circle cx="307.8" cy="425.4" r="1.2" fill="#4a3020"/>
<line x1="319.6" x2="319.6" y1="451.5" y2="435.9" stroke="#f5e0d2" stroke-width="1.1"/>
<line x1="319.6" x2="319.6" y1="451.5" y2="435.9" stroke="#a35c36" stroke-width="0.65"/>
<circle cx="319.6" cy="435.9" r="1.2" fill="#4a3020"/>
<line x1="355.9" x2="355.9" y1="451.5" y2="471.5" stroke="#f5e0d2" stroke-width="1.1"/>
<line x1="355.9" x2="355.9" y1="451.5" y2="471.5" stroke="#a35c36" stroke-width="0.65"/>
<circle cx="355.9" cy="471.5" r="1.2" fill="#4a3020"/>
<line x1="359.6" x2="359.6" y1="451.5" y2="431" stroke="#f5e0d2" stroke-width="1.1"/>
<line x1="359.6" x2="359.6" y1="451.5" y2="431" stroke="#a35c36" stroke-width="0.65"/>
<circle cx="359.6" cy="431" r="1.2" fill="#4a3020"/>
<circle cx="228.1" cy="438" r="1.0" fill="#5a3020"/>
<circle cx="305.6" cy="470.5" r="1.0" fill="#5a3020"/>
<circle cx="275.4" cy="478.1" r="1.0" fill="#5a3020"/>
<line x1="381.4" x2="381.4" y1="424.8" y2="522.5" stroke="#4242d2" stroke-width="0.8" stroke-dasharray="1.4 0.5"/>
<line x1="388.7" x2="388.7" y1="424.8" y2="522.5" stroke="#4242d2" stroke-width="0.8" stroke-dasharray="1.4 0.5"/>
<rect x="218.25" y="420.3" width="178.25" height="106.69999999999999" fill="none" stroke="#7c7c7c" stroke-width="0.95"/>
<line x1="216.65" x2="218.25" y1="514.50" y2="514.50" stroke="#555" stroke-width="0.45"/>
<text x="215.95" y="515.75" text-anchor="end" font-size="3.5" fill="#1a1a1a" dy="0.35">−0.8</text>
<line x1="216.65" x2="218.25" y1="498.75" y2="498.75" stroke="#555" stroke-width="0.45"/>
<text x="215.95" y="500.00" text-anchor="end" font-size="3.5" fill="#1a1a1a" dy="0.35">−0.6</text>
<line x1="216.65" x2="218.25" y1="483.00" y2="483.00" stroke="#555" stroke-width="0.45"/>
<text x="215.95" y="484.25" text-anchor="end" font-size="3.5" fill="#1a1a1a" dy="0.35">−0.4</text>
<line x1="216.65" x2="218.25" y1="467.25" y2="467.25" stroke="#555" stroke-width="0.45"/>
<text x="215.95" y="468.50" text-anchor="end" font-size="3.5" fill="#1a1a1a" dy="0.35">−0.2</text>
<line x1="216.65" x2="218.25" y1="451.50" y2="451.50" stroke="#555" stroke-width="0.45"/>
<text x="215.95" y="452.75" text-anchor="end" font-size="3.5" fill="#1a1a1a" dy="0.35">0.0</text>
<line x1="216.65" x2="218.25" y1="435.75" y2="435.75" stroke="#555" stroke-width="0.45"/>
<text x="215.95" y="437.00" text-anchor="end" font-size="3.5" fill="#1a1a1a" dy="0.35">0.2</text>
<line x1="226.3" x2="226.3" y1="527" y2="528.6" stroke="#555" stroke-width="0.45"/>
<text class="xl" transform="translate(225.15,529.2) rotate(90)" font-size="3.6" font-weight="bold" fill="#2a2a2a">13:33</text>
<line x1="237.5" x2="237.5" y1="527" y2="528.6" stroke="#555" stroke-width="0.45"/>
<text class="xl" transform="translate(236.35,529.2) rotate(90)" font-size="3.6" font-weight="bold" fill="#2a2a2a">13:26</text>
<line x1="243.8" x2="243.8" y1="527" y2="528.6" stroke="#555" stroke-width="0.45"/>
<text class="xl" transform="translate(242.65,529.2) rotate(90)" font-size="3.6" font-weight="bold" fill="#2a2a2a">11:28</text>
<line x1="253.7" x2="253.7" y1="527" y2="528.6" stroke="#555" stroke-width="0.45"/>
<text class="xl" transform="translate(252.55,529.2) rotate(90)" font-size="3.6" font-weight="bold" fill="#2a2a2a">19:22</text>
<line x1="261.2" x2="261.2" y1="527" y2="528.6" stroke="#555" stroke-width="0.45"/>
<text class="xl" transform="translate(260.05,529.2) rotate(90)" font-size="3.6" font-weight="bold" fill="#2a2a2a">16:19</text>
<line x1="267.3" x2="267.3" y1="527" y2="528.6" stroke="#555" stroke-width="0.45"/>
<text class="xl" transform="translate(266.15,529.2) rotate(90)" font-size="3.6" font-weight="bold" fill="#2a2a2a">18:49</text>
<line x1="274" x2="274" y1="527" y2="528.6" stroke="#555" stroke-width="0.45"/>
<text class="xl" transform="translate(272.85,529.2) rotate(90)" font-size="3.6" font-weight="bold" fill="#2a2a2a">23:48</text>
<line x1="284.4" x2="284.4" y1="527" y2="528.6" stroke="#555" stroke-width="0.45"/>
<text class="xl" transform="translate(283.25,529.2) rotate(90)" font-size="3.6" font-weight="bold" fill="#2a2a2a">21:25</text>
<line x1="291.6" x2="291.6" y1="527" y2="528.6" stroke="#555" stroke-width="0.45"/>
<text class="xl" transform="translate(290.45,529.2) rotate(90)" font-size="3.6" font-weight="bold" fill="#2a2a2a">17:29</text>
<line x1="295" x2="295" y1="527" y2="528.6" stroke="#555" stroke-width="0.45"/>
<text class="xl" transform="translate(293.85,529.2) rotate(90)" font-size="3.6" font-weight="bold" fill="#2a2a2a">18:11</text>
<line x1="298.3" x2="298.3" y1="527" y2="528.6" stroke="#555" stroke-width="0.45"/>
<text class="xl" transform="translate(297.15,529.2) rotate(90)" font-size="3.6" font-weight="bold" fill="#2a2a2a">21:51</text>
<line x1="301.7" x2="301.7" y1="527" y2="528.6" stroke="#555" stroke-width="0.45"/>
<text class="xl" transform="translate(300.55,529.2) rotate(90)" font-size="3.6" font-weight="bold" fill="#2a2a2a">16:42</text>
<line x1="303.75" x2="303.75" y1="527" y2="528.6" stroke="#555" stroke-width="0.45"/>
<text class="xl" transform="translate(302.60,529.2) rotate(90)" font-size="3.6" font-weight="bold" fill="#2a2a2a">12:31</text>
<line x1="313.75" x2="313.75" y1="527" y2="528.6" stroke="#555" stroke-width="0.45"/>
<text class="xl" transform="translate(312.60,529.2) rotate(90)" font-size="3.6" font-weight="bold" fill="#2a2a2a">13:11</text>
<line x1="320" x2="320" y1="527" y2="528.6" stroke="#555" stroke-width="0.45"/>
<text class="xl" transform="translate(318.85,529.2) rotate(90)" font-size="3.6" font-weight="bold" fill="#2a2a2a">15:59</text>
<line x1="323.75" x2="323.75" y1="527" y2="528.6" stroke="#555" stroke-width="0.45"/>
<text class="xl" transform="translate(322.60,529.2) rotate(90)" font-size="3.6" font-weight="bold" fill="#2a2a2a">15:31</text>
<line x1="330.5" x2="330.5" y1="527" y2="528.6" stroke="#555" stroke-width="0.45"/>
<text class="xl" transform="translate(329.35,529.2) rotate(90)" font-size="3.6" font-weight="bold" fill="#2a2a2a">17:46</text>
<line x1="333.75" x2="333.75" y1="527" y2="528.6" stroke="#555" stroke-width="0.45"/>
<text class="xl" transform="translate(332.60,529.2) rotate(90)" font-size="3.6" font-weight="bold" fill="#2a2a2a">12:36</text>
<line x1="337" x2="337" y1="527" y2="528.6" stroke="#555" stroke-width="0.45"/>
<text class="xl" transform="translate(335.85,529.2) rotate(90)" font-size="3.6" font-weight="bold" fill="#2a2a2a">22:41</text>
<line x1="340" x2="340" y1="527" y2="528.6" stroke="#555" stroke-width="0.45"/>
<text class="xl" transform="translate(338.85,529.2) rotate(90)" font-size="3.6" font-weight="bold" fill="#2a2a2a">11:19</text>
<line x1="344.5" x2="344.5" y1="527" y2="528.6" stroke="#555" stroke-width="0.45"/>
<text class="xl" transform="translate(343.35,529.2) rotate(90)" font-size="3.6" font-weight="bold" fill="#2a2a2a">16:15</text>
<line x1="350" x2="350" y1="527" y2="528.6" stroke="#555" stroke-width="0.45"/>
<text class="xl" transform="translate(348.85,529.2) rotate(90)" font-size="3.6" font-weight="bold" fill="#2a2a2a">21:28</text>
<line x1="361.25" x2="361.25" y1="527" y2="528.6" stroke="#555" stroke-width="0.45"/>
<text class="xl" transform="translate(360.10,529.2) rotate(90)" font-size="3.6" font-weight="bold" fill="#2a2a2a">15:56</text>
<line x1="372" x2="372" y1="527" y2="528.6" stroke="#555" stroke-width="0.45"/>
<text class="xl" transform="translate(370.85,529.2) rotate(90)" font-size="3.6" font-weight="bold" fill="#2a2a2a">12:56</text>
<line x1="380" x2="380" y1="527" y2="528.6" stroke="#555" stroke-width="0.45"/>
<text class="xl" transform="translate(378.85,529.2) rotate(90)" font-size="3.6" font-weight="bold" fill="#2a2a2a">18:56:00</text>
<line x1="382" x2="382" y1="527" y2="528.6" stroke="#555" stroke-width="0.45"/>
<text class="xl" transform="translate(380.85,529.2) rotate(90)" font-size="3.6" font-weight="bold" fill="#2a2a2a">18:48</text>
<line x1="387.5" x2="387.5" y1="527" y2="528.6" stroke="#555" stroke-width="0.45"/>
<text class="xl" transform="translate(386.35,529.2) rotate(90)" font-size="3.6" font-weight="bold" fill="#2a2a2a">19:18:00</text>
<text x="307.975" y="419.0" text-anchor="middle" font-size="4.2" fill="#111">SNT_2021-12-16 12:47</text>
<text x="306" y="548" text-anchor="middle" font-size="3.6" fill="#1a1a1a">datetime</text>
<text transform="translate(205.5,473.65) rotate(-90)" text-anchor="middle" font-size="3.6" fill="#1a1a1a">blu_volume</text>
<rect x="218.6" y="514.65" width="45.400000000000006" height="11.3" rx="0.6" fill="#fff" fill-opacity="0.95" stroke="#e0e0e0" stroke-width="0.4"/>
<line x1="220.4" x2="227.9" y1="517.75" y2="517.75" stroke="#5f5aee" stroke-width="0.7" stroke-dasharray="1.3 0.6"/>
<line x1="220.4" x2="227.9" y1="522.95" y2="522.95" stroke="#dccf80" stroke-width="0.7" stroke-dasharray="1.3 0.6"/>
<text x="230.20000000000002" y="519.05" font-size="3.55" fill="#1a1a1a">2021-12-16 12:47</text>
<text x="230.20000000000002" y="524.25" font-size="3.55" fill="#1a1a1a">anomalous volumes</text></g>
</svg></body></html>
